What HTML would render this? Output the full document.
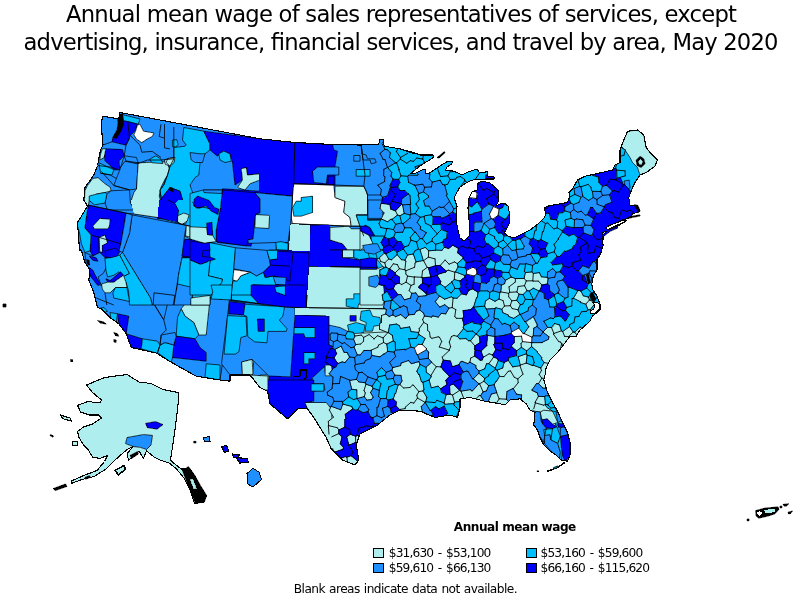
<!DOCTYPE html>
<html><head><meta charset="utf-8"><title>Annual mean wage map</title>
<style>
html,body{margin:0;padding:0;background:#fff;}
body{width:800px;height:600px;overflow:hidden;position:relative;font-family:"Liberation Sans",sans-serif;color:#000;}
svg{position:absolute;left:0;top:0;}
text{fill:#000;}
</style></head><body>
<svg width="800" height="600" viewBox="0 0 800 600">
<rect width="800" height="600" fill="#fff"/>
<g id="map" shape-rendering="crispEdges">
<defs><clipPath id="us"><polygon points="120.0,112.5 118.8,118.8 102.5,116.2 101.2,125.0 103.0,145.0 100.5,150.0 97.5,165.5 93.8,175.0 85.0,187.5 83.8,200.0 87.5,206.2 77.5,222.5 78.8,240.0 79.5,250.0 81.2,250.0 85.0,262.5 90.0,270.0 88.8,280.0 93.8,292.5 97.5,307.5 101.2,308.8 110.0,317.5 118.8,323.8 126.2,333.8 131.2,347.5 156.2,353.0 172.5,363.0 196.2,376.2 220.0,380.0 230.0,381.2 230.0,375.0 250.0,375.0 260.0,387.5 267.5,391.2 270.0,403.8 287.5,418.8 297.5,408.8 307.5,408.8 313.8,417.5 326.2,437.5 331.2,448.8 342.5,460.0 355.0,465.0 358.8,460.0 356.2,445.0 360.0,433.8 377.5,425.0 390.0,415.0 400.0,410.0 420.0,411.2 435.0,417.5 450.0,415.0 457.5,417.5 460.0,407.5 460.0,398.8 470.0,397.5 485.0,401.2 500.0,403.8 505.0,405.0 510.0,400.0 520.0,398.8 526.2,403.8 530.0,410.0 535.0,412.5 533.8,425.0 537.5,430.0 540.0,437.5 543.8,445.0 550.0,451.2 556.2,455.0 561.2,460.0 567.5,461.2 570.0,455.0 570.0,442.5 567.5,432.5 562.5,422.5 557.5,411.2 552.5,402.5 547.5,392.5 543.8,380.0 545.0,375.0 546.2,367.5 550.0,360.0 557.5,352.5 562.5,346.2 570.0,336.2 576.2,336.2 580.0,330.0 590.0,321.2 592.5,316.2 600.0,310.0 600.0,303.8 597.0,296.2 592.6,289.2 591.8,284.0 593.5,275.2 597.0,270.0 597.0,259.5 600.5,254.2 603.1,245.5 602.2,235.0 603.8,240.0 602.5,232.5 610.0,230.0 620.0,225.0 622.5,220.0 630.0,217.5 632.5,213.8 640.0,211.2 637.5,206.2 630.0,205.0 628.8,197.5 632.5,187.5 635.0,182.5 640.0,175.0 646.2,172.5 655.0,166.2 657.5,160.0 650.0,152.5 646.2,147.5 643.8,135.0 637.5,130.0 627.5,131.2 623.8,140.0 620.0,150.0 620.0,162.5 615.0,165.0 612.5,170.0 596.2,173.8 585.0,176.2 577.5,180.0 572.5,188.8 568.8,192.5 570.0,196.2 567.5,202.5 560.0,203.8 547.5,206.2 548.0,206.0 544.0,208.0 546.0,214.0 544.0,218.0 538.0,224.0 530.0,230.0 522.0,234.0 514.0,238.0 508.0,236.0 504.0,233.0 506.0,230.0 509.0,224.0 510.0,216.0 508.0,206.0 504.0,203.0 500.0,204.0 496.0,206.0 499.0,200.0 498.0,190.0 490.0,183.0 482.0,181.0 478.0,183.0 477.0,190.0 472.0,192.0 469.0,198.0 468.0,208.0 469.0,220.0 470.0,228.0 469.0,236.0 464.0,241.0 460.0,238.0 458.0,230.0 456.0,220.0 457.0,206.0 454.0,198.0 457.0,192.0 460.0,187.0 466.0,183.0 470.0,181.0 476.0,179.0 482.0,180.0 486.0,179.0 494.0,179.0 494.0,177.0 488.0,176.0 487.0,171.0 484.0,173.0 479.0,172.0 477.0,169.0 468.0,172.0 462.0,175.0 458.0,173.0 450.0,170.0 445.0,171.0 447.0,167.0 451.6,164.0 452.4,161.6 447.0,161.6 440.0,166.0 428.0,174.0 425.0,173.0 426.0,169.0 422.0,170.0 416.0,173.0 410.0,174.0 420.0,166.0 434.0,157.0 433.0,155.0 420.0,155.0 412.0,152.0 400.0,149.0 415.0,153.8 400.0,148.8 384.2,146.2 383.0,139.5 379.5,139.5 378.8,144.5 360.0,145.0 332.5,144.5 295.0,142.5 260.0,138.8"/></clipPath></defs>
<g clip-path="url(#us)">
<polygon points="120.0,112.5 118.8,118.8 102.5,116.2 101.2,125.0 103.0,145.0 100.5,150.0 97.5,165.5 93.8,175.0 85.0,187.5 83.8,200.0 87.5,206.2 77.5,222.5 78.8,240.0 79.5,250.0 81.2,250.0 85.0,262.5 90.0,270.0 88.8,280.0 93.8,292.5 97.5,307.5 101.2,308.8 110.0,317.5 118.8,323.8 126.2,333.8 131.2,347.5 156.2,353.0 172.5,363.0 196.2,376.2 220.0,380.0 230.0,381.2 230.0,375.0 250.0,375.0 260.0,387.5 267.5,391.2 270.0,403.8 287.5,418.8 297.5,408.8 307.5,408.8 313.8,417.5 326.2,437.5 331.2,448.8 342.5,460.0 355.0,465.0 358.8,460.0 356.2,445.0 360.0,433.8 377.5,425.0 390.0,415.0 400.0,410.0 420.0,411.2 435.0,417.5 450.0,415.0 457.5,417.5 460.0,407.5 460.0,398.8 470.0,397.5 485.0,401.2 500.0,403.8 505.0,405.0 510.0,400.0 520.0,398.8 526.2,403.8 530.0,410.0 535.0,412.5 533.8,425.0 537.5,430.0 540.0,437.5 543.8,445.0 550.0,451.2 556.2,455.0 561.2,460.0 567.5,461.2 570.0,455.0 570.0,442.5 567.5,432.5 562.5,422.5 557.5,411.2 552.5,402.5 547.5,392.5 543.8,380.0 545.0,375.0 546.2,367.5 550.0,360.0 557.5,352.5 562.5,346.2 570.0,336.2 576.2,336.2 580.0,330.0 590.0,321.2 592.5,316.2 600.0,310.0 600.0,303.8 597.0,296.2 592.6,289.2 591.8,284.0 593.5,275.2 597.0,270.0 597.0,259.5 600.5,254.2 603.1,245.5 602.2,235.0 603.8,240.0 602.5,232.5 610.0,230.0 620.0,225.0 622.5,220.0 630.0,217.5 632.5,213.8 640.0,211.2 637.5,206.2 630.0,205.0 628.8,197.5 632.5,187.5 635.0,182.5 640.0,175.0 646.2,172.5 655.0,166.2 657.5,160.0 650.0,152.5 646.2,147.5 643.8,135.0 637.5,130.0 627.5,131.2 623.8,140.0 620.0,150.0 620.0,162.5 615.0,165.0 612.5,170.0 596.2,173.8 585.0,176.2 577.5,180.0 572.5,188.8 568.8,192.5 570.0,196.2 567.5,202.5 560.0,203.8 547.5,206.2 548.0,206.0 544.0,208.0 546.0,214.0 544.0,218.0 538.0,224.0 530.0,230.0 522.0,234.0 514.0,238.0 508.0,236.0 504.0,233.0 506.0,230.0 509.0,224.0 510.0,216.0 508.0,206.0 504.0,203.0 500.0,204.0 496.0,206.0 499.0,200.0 498.0,190.0 490.0,183.0 482.0,181.0 478.0,183.0 477.0,190.0 472.0,192.0 469.0,198.0 468.0,208.0 469.0,220.0 470.0,228.0 469.0,236.0 464.0,241.0 460.0,238.0 458.0,230.0 456.0,220.0 457.0,206.0 454.0,198.0 457.0,192.0 460.0,187.0 466.0,183.0 470.0,181.0 476.0,179.0 482.0,180.0 486.0,179.0 494.0,179.0 494.0,177.0 488.0,176.0 487.0,171.0 484.0,173.0 479.0,172.0 477.0,169.0 468.0,172.0 462.0,175.0 458.0,173.0 450.0,170.0 445.0,171.0 447.0,167.0 451.6,164.0 452.4,161.6 447.0,161.6 440.0,166.0 428.0,174.0 425.0,173.0 426.0,169.0 422.0,170.0 416.0,173.0 410.0,174.0 420.0,166.0 434.0,157.0 433.0,155.0 420.0,155.0 412.0,152.0 400.0,149.0 415.0,153.8 400.0,148.8 384.2,146.2 383.0,139.5 379.5,139.5 378.8,144.5 360.0,145.0 332.5,144.5 295.0,142.5 260.0,138.8" fill="#1E90FF"/>
<polygon points="520.0,252.5 567.2,252.5 565.5,285.8 577.8,292.8 586.5,287.5 591.8,284.0 592.6,289.2 597.0,296.2 600.5,305.0 599.6,312.0 593.5,317.2 591.8,322.5 583.0,326.0 579.5,333.0 576.0,338.2 572.5,340.0 520.0,340.0" fill="#00BFFF" stroke="#000" stroke-width="0.7" stroke-linejoin="round"/>
<polygon points="440.0,250.1 580.0,250.1 580.0,340.0 440.0,340.0" fill="#00BFFF"/>
<polygon points="440.0,339.9 580.0,339.9 580.0,425.0 440.0,425.0" fill="#AFEEEE"/>
<polygon points="360.0,218.4 472.0,218.4 472.0,305.0 360.0,305.0" fill="#00BFFF"/>
<polygon points="122.5,114.6 140.0,119.0 138.2,124.2 127.8,121.6 123.4,120.8" fill="#00BFFF" stroke="#000" stroke-width="0.7" stroke-linejoin="round"/>
<polygon points="122.5,120.8 127.8,121.6 137.4,124.2 134.8,131.2 130.4,135.6 126.0,145.2 112.0,141.8 112.9,137.4 116.4,138.2 120.8,131.2 123.4,124.2" fill="#0000FF" stroke="#000" stroke-width="0.7" stroke-linejoin="round"/>
<polygon points="117.2,115.5 122.5,113.8 123.4,124.2 120.8,131.2 116.4,138.2 112.9,137.4 117.2,129.5 118.1,122.5" fill="#000000" stroke="#000" stroke-width="0.7" stroke-linejoin="round"/>
<polygon points="137.4,125.1 140.0,124.2 143.5,131.2 154.0,133.0 152.2,136.5 147.0,139.1 141.8,142.6 136.5,139.1 133.9,134.8 135.6,131.2" fill="#FFFFFF" stroke="#000" stroke-width="0.7" stroke-linejoin="round"/>
<polygon points="172.4,140.0 176.8,139.7 178.1,144.4 175.9,147.0 172.4,146.7" fill="#00BFFF" stroke="#000" stroke-width="0.7" stroke-linejoin="round"/>
<polygon points="105.9,148.8 122.5,149.6 124.2,155.8 119.0,161.0 119.9,169.8 113.8,169.8 109.4,164.5 105.0,161.0 104.1,154.0" fill="#0000FF" stroke="#000" stroke-width="0.7" stroke-linejoin="round"/>
<polygon points="102.4,148.8 105.9,148.8 104.1,157.5 99.8,160.1 100.6,154.0" fill="#AFEEEE" stroke="#000" stroke-width="0.7" stroke-linejoin="round"/>
<polygon points="98.9,162.8 113.8,169.8 112.0,175.0 100.6,173.2" fill="#00BFFF" stroke="#000" stroke-width="0.7" stroke-linejoin="round"/>
<polygon points="124.2,155.8 136.5,157.5 138.2,162.8 136.5,189.0 129.5,189.9 113.8,185.5 116.4,178.5 119.9,169.8" fill="#1E90FF" stroke="#000" stroke-width="0.7" stroke-linejoin="round"/>
<polygon points="137.4,162.8 164.5,161.9 168.0,165.4 170.6,171.5 165.4,178.5 161.0,187.2 159.2,196.0 161.0,203.0 158.4,210.0 134.8,210.0 130.4,203.0 133.9,192.5 136.5,189.0 138.2,162.8" fill="#AFEEEE" stroke="#000" stroke-width="0.7" stroke-linejoin="round"/>
<polygon points="149.6,159.2 155.8,155.8 161.0,159.2 162.8,163.6 152.2,162.8" fill="#00BFFF" stroke="#000" stroke-width="0.7" stroke-linejoin="round"/>
<polygon points="164.5,160.1 168.0,158.4 174.1,157.5 174.6,161.9 170.6,162.8 168.9,165.4 165.4,164.5" fill="#AFEEEE" stroke="#000" stroke-width="0.7" stroke-linejoin="round"/>
<polygon points="92.8,178.5 98.0,177.6 105.0,183.8 110.2,187.2 111.1,190.8 105.0,192.5 96.2,194.2 89.2,200.4 87.5,210.0 84.0,208.2 84.9,190.8 87.5,185.5" fill="#AFEEEE" stroke="#000" stroke-width="0.7" stroke-linejoin="round"/>
<polygon points="111.1,190.8 129.5,189.9 130.4,203.0 134.8,210.0 107.6,210.0 105.0,203.0 106.8,194.2" fill="#1E90FF" stroke="#000" stroke-width="0.7" stroke-linejoin="round"/>
<polygon points="89.2,196.0 96.2,194.2 105.0,192.5 106.8,194.2 105.0,203.0 94.5,204.8 89.2,200.4" fill="#00BFFF" stroke="#000" stroke-width="0.7" stroke-linejoin="round"/>
<polyline points="127.8,121.6 129.5,138.2 126.0,145.2" fill="none" stroke="#000" stroke-width="0.8" stroke-linejoin="round"/>
<polyline points="130.4,135.6 140.0,145.2 141.8,152.2 152.2,151.4 161.0,157.5" fill="none" stroke="#000" stroke-width="0.8" stroke-linejoin="round"/>
<polyline points="161.0,124.2 159.2,136.5 164.5,138.2 164.5,147.9 169.8,148.8" fill="none" stroke="#000" stroke-width="0.8" stroke-linejoin="round"/>
<polyline points="164.5,124.2 164.5,138.2" fill="none" stroke="#000" stroke-width="0.8" stroke-linejoin="round"/>
<polyline points="102.4,145.2 112.0,141.8" fill="none" stroke="#000" stroke-width="0.8" stroke-linejoin="round"/>
<polyline points="126.0,145.2 124.2,155.8" fill="none" stroke="#000" stroke-width="0.8" stroke-linejoin="round"/>
<polyline points="124.2,155.8 126.0,161.0 138.2,162.8" fill="none" stroke="#000" stroke-width="0.8" stroke-linejoin="round"/>
<polyline points="100.6,173.2 110.2,175.0 116.4,178.5" fill="none" stroke="#000" stroke-width="0.8" stroke-linejoin="round"/>
<polyline points="101.5,171.5 113.8,185.5" fill="none" stroke="#000" stroke-width="0.8" stroke-linejoin="round"/>
<polyline points="113.8,185.5 129.5,189.9" fill="none" stroke="#000" stroke-width="0.8" stroke-linejoin="round"/>
<polygon points="183.8,127.5 203.8,131.2 210.0,143.8 210.0,150.0 205.0,153.8 200.0,162.5 198.8,175.0 195.0,177.5 190.0,185.0 195.0,200.0 196.2,205.0 200.0,207.5 200.0,222.5 190.0,225.0 188.8,212.5 177.5,213.8 178.8,207.5 182.5,200.0 180.0,191.2 170.0,187.5 161.2,198.8 160.0,190.0 163.8,185.0 167.5,175.0 170.0,166.2 173.8,162.5 173.8,158.8 173.8,147.5 185.0,146.2 186.2,145.0 182.5,140.0" fill="#00BFFF" stroke="#000" stroke-width="0.7" stroke-linejoin="round"/>
<polygon points="166.2,162.5 167.5,158.8 175.0,157.5 173.8,162.5 170.0,166.2" fill="#AFEEEE" stroke="#000" stroke-width="0.7" stroke-linejoin="round"/>
<polygon points="161.2,198.8 170.0,187.5 180.0,191.2 182.5,200.0 178.8,207.5 177.5,213.8 176.2,218.8 157.5,218.8" fill="#0000FF" stroke="#000" stroke-width="0.7" stroke-linejoin="round"/>
<polygon points="169.5,187.5 172.5,188.0 173.0,192.0 170.0,190.5" fill="#000000" stroke="#000" stroke-width="0.7" stroke-linejoin="round"/>
<polygon points="177.5,213.8 188.8,212.5 190.0,217.5 185.0,223.8 177.5,222.5" fill="#AFEEEE" stroke="#000" stroke-width="0.7" stroke-linejoin="round"/>
<polygon points="186.2,226.2 210.0,228.8 212.5,238.8 203.8,245.0 185.0,236.2" fill="#AFEEEE" stroke="#000" stroke-width="0.7" stroke-linejoin="round"/>
<polygon points="200.0,195.0 222.5,192.5 221.2,230.0 210.0,228.8 200.0,222.5 200.0,207.5" fill="#00BFFF" stroke="#000" stroke-width="0.7" stroke-linejoin="round"/>
<polygon points="195.0,200.0 200.0,196.2 210.0,197.5 220.0,205.0 217.5,212.5 207.5,210.0 200.0,207.5 196.2,205.0" fill="#0000FF" stroke="#000" stroke-width="0.7" stroke-linejoin="round"/>
<polygon points="207.5,215.0 212.0,215.0 213.8,236.2 208.8,236.2" fill="#0000FF" stroke="#000" stroke-width="0.7" stroke-linejoin="round"/>
<polygon points="203.8,131.2 260.0,138.8 260.0,173.8 247.5,175.0 246.2,167.5 241.2,168.8 242.5,180.0 235.0,185.0 232.5,162.5 230.0,153.8 222.5,151.2 217.5,156.2 210.0,150.0 210.0,143.8" fill="#0000FF" stroke="#000" stroke-width="0.7" stroke-linejoin="round"/>
<polygon points="218.8,153.8 223.8,151.2 230.0,153.8 231.2,161.2 225.0,162.5 220.0,160.0" fill="#00BFFF" stroke="#000" stroke-width="0.7" stroke-linejoin="round"/>
<polygon points="241.2,168.8 246.2,167.5 247.5,175.0 260.0,173.8 260.0,180.0 250.0,183.8 245.0,190.0 237.5,187.5 242.5,180.0" fill="#AFEEEE" stroke="#000" stroke-width="0.7" stroke-linejoin="round"/>
<polygon points="190.0,152.5 200.0,153.8 205.0,153.8 202.5,162.5 195.0,162.5 191.2,160.0" fill="#1E90FF" stroke="#000" stroke-width="0.7" stroke-linejoin="round"/>
<polygon points="222.5,188.8 260.0,191.2 260.0,240.0 252.5,238.8 251.2,246.2 217.5,242.5 221.2,230.0" fill="#0000FF" stroke="#000" stroke-width="0.7" stroke-linejoin="round"/>
<polygon points="258.8,138.8 295.0,142.5 293.8,183.8 292.5,196.2 258.8,193.0" fill="#0000FF"/>
<polyline points="295.0,142.5 293.8,183.8 292.5,196.2 260.0,193.0" fill="none" stroke="#000" stroke-width="0.8" stroke-linejoin="round"/>
<polygon points="295.0,142.5 332.5,144.5 333.8,150.0 337.5,151.2 335.0,166.2 335.0,185.0 293.8,183.8" fill="#0000FF" stroke="#000" stroke-width="0.7" stroke-linejoin="round"/>
<polygon points="312.5,171.2 317.5,167.0 338.8,167.0 338.8,175.0 327.5,175.0 326.2,183.8 313.8,182.5" fill="#1E90FF" stroke="#000" stroke-width="0.7" stroke-linejoin="round"/>
<polygon points="328.0,176.2 333.8,176.2 333.8,185.0 328.0,185.0" fill="#0000FF" stroke="#000" stroke-width="0.7" stroke-linejoin="round"/>
<polygon points="353.8,155.5 360.0,155.5 360.0,161.2 353.8,161.2" fill="#1E90FF" stroke="#000" stroke-width="0.7" stroke-linejoin="round"/>
<polygon points="356.2,169.5 370.0,169.5 370.0,176.2 356.2,176.2" fill="#00BFFF" stroke="#000" stroke-width="0.7" stroke-linejoin="round"/>
<polygon points="361.2,145.0 363.0,160.0 370.0,160.0 371.2,163.8 376.2,162.5 375.0,158.8 367.5,158.8 366.2,155.0 362.0,153.8" fill="#1E90FF" stroke="#000" stroke-width="0.7" stroke-linejoin="round"/>
<polygon points="386.2,148.8 400.0,148.8 415.0,153.8 432.5,155.5 410.0,173.8 407.5,180.0 400.0,180.0 398.8,186.2 392.5,182.5 391.2,165.0" fill="#00BFFF" stroke="#000" stroke-width="0.7" stroke-linejoin="round"/>
<polygon points="293.8,183.8 333.8,185.0 335.0,197.5 345.0,201.2 343.8,212.5 350.0,217.5 351.2,226.2 292.5,223.8 291.2,217.5 292.5,196.2" fill="#FFFFFF" stroke="#000" stroke-width="0.7" stroke-linejoin="round"/>
<polygon points="301.2,197.5 312.5,196.2 312.5,212.5 301.2,216.2 293.8,216.2 292.5,207.5 296.2,201.2 301.2,201.2" fill="#00BFFF" stroke="#000" stroke-width="0.7" stroke-linejoin="round"/>
<polygon points="335.0,186.2 363.8,186.2 366.2,191.2 367.5,195.0 367.5,215.0 356.2,215.0 360.0,226.2 351.2,226.2 350.0,217.5 343.8,212.5 345.0,201.2 335.0,197.5" fill="#AFEEEE" stroke="#000" stroke-width="0.7" stroke-linejoin="round"/>
<polygon points="367.5,195.0 382.5,195.0 382.5,207.5 383.8,213.8 385.0,218.8 382.5,220.0 367.5,220.0" fill="#1E90FF" stroke="#000" stroke-width="0.7" stroke-linejoin="round"/>
<polygon points="356.2,215.0 367.5,215.0 367.5,220.0 382.5,220.0 385.0,218.8 396.2,219.5 397.5,236.2 370.0,236.2 367.5,230.0 360.0,226.2" fill="#00BFFF" stroke="#000" stroke-width="0.7" stroke-linejoin="round"/>
<polygon points="260.0,215.0 270.0,215.0 270.0,227.5 260.0,228.8" fill="#AFEEEE" stroke="#000" stroke-width="0.7" stroke-linejoin="round"/>
<polygon points="290.0,223.8 310.0,225.0 310.0,250.0 288.8,250.0" fill="#AFEEEE" stroke="#000" stroke-width="0.7" stroke-linejoin="round"/>
<polygon points="276.2,242.5 287.5,242.5 287.5,250.0 276.2,250.0" fill="#00BFFF" stroke="#000" stroke-width="0.7" stroke-linejoin="round"/>
<polygon points="310.0,225.0 328.8,225.0 330.0,240.0 342.5,243.8 347.5,250.0 310.0,250.0" fill="#0000FF" stroke="#000" stroke-width="0.7" stroke-linejoin="round"/>
<polygon points="330.0,227.5 348.8,226.2 351.2,228.8 362.5,228.8 363.8,236.2 370.0,236.2 371.2,250.0 347.5,250.0 342.5,243.8 330.0,240.0" fill="#AFEEEE" stroke="#000" stroke-width="0.7" stroke-linejoin="round"/>
<polygon points="361.2,230.0 365.0,225.0 370.0,227.5 375.0,236.2 367.5,237.5 363.8,236.2" fill="#0000FF" stroke="#000" stroke-width="0.7" stroke-linejoin="round"/>
<polygon points="371.2,236.2 397.5,236.2 397.5,250.0 371.2,250.0" fill="#00BFFF" stroke="#000" stroke-width="0.7" stroke-linejoin="round"/>
<polygon points="386.2,242.5 400.0,242.5 401.2,250.0 386.2,250.0" fill="#0000FF" stroke="#000" stroke-width="0.7" stroke-linejoin="round"/>
<polygon points="400.0,149.0 412.0,152.0 420.0,155.0 433.0,155.0 434.0,157.0 420.0,166.0 410.0,174.0 408.0,177.0 400.0,178.0" fill="#00BFFF" stroke="#000" stroke-width="0.7" stroke-linejoin="round"/>
<polygon points="425.0,173.0 428.0,174.0 440.0,166.0 447.0,161.6 452.4,161.6 451.6,164.0 447.0,167.0 445.0,171.0 450.0,170.0 458.0,173.0 462.0,175.0 468.0,172.0 477.0,169.0 479.0,172.0 484.0,173.0 487.0,171.0 488.0,176.0 494.0,177.0 494.0,179.0 486.0,179.0 482.0,180.0 476.0,179.0 470.0,181.0 466.0,183.0 460.0,187.0 457.0,192.0 454.0,198.0 451.0,196.0 447.0,190.0 443.0,183.0 430.0,179.0 428.0,177.0" fill="#00BFFF" stroke="#000" stroke-width="0.7" stroke-linejoin="round"/>
<polygon points="400.0,178.0 408.0,177.0 406.0,183.0 415.0,182.0 416.0,188.0 405.0,189.0 400.0,188.0" fill="#00BFFF" stroke="#000" stroke-width="0.7" stroke-linejoin="round"/>
<polygon points="405.0,189.0 416.0,188.0 417.0,193.0 428.0,193.0 428.0,200.0 424.0,202.0 423.0,208.0 429.0,209.0 430.0,217.0 437.0,216.0 436.0,224.0 429.0,228.0 424.0,226.0 420.0,217.0 412.0,209.0 409.0,204.0 410.0,196.0" fill="#00BFFF" stroke="#000" stroke-width="0.7" stroke-linejoin="round"/>
<polygon points="416.0,194.0 423.0,194.0 423.0,202.0 416.0,202.0" fill="#1E90FF" stroke="#000" stroke-width="0.7" stroke-linejoin="round"/>
<polygon points="430.0,217.0 441.0,215.0 443.0,221.0 441.0,227.0 435.0,229.0 430.0,226.0" fill="#0000FF" stroke="#000" stroke-width="0.7" stroke-linejoin="round"/>
<polygon points="449.0,216.0 455.0,217.0 455.0,228.0 450.0,228.0 448.0,222.0" fill="#0000FF" stroke="#000" stroke-width="0.7" stroke-linejoin="round"/>
<polygon points="445.0,231.0 455.0,230.0 457.0,236.0 460.0,238.0 464.0,241.0 469.0,240.0 469.0,252.0 460.0,254.0 454.0,249.0 448.0,248.0 446.0,240.0" fill="#0000FF" stroke="#000" stroke-width="0.7" stroke-linejoin="round"/>
<polygon points="440.0,226.0 446.0,226.0 445.0,231.0 440.0,230.0" fill="#0000FF" stroke="#000" stroke-width="0.7" stroke-linejoin="round"/>
<polygon points="447.0,190.0 451.0,196.0 452.0,202.0 448.0,204.0 445.0,198.0" fill="#00BFFF" stroke="#000" stroke-width="0.7" stroke-linejoin="round"/>
<polygon points="454.0,198.0 457.0,206.0 456.0,212.0 452.0,212.0 451.0,204.0" fill="#00BFFF" stroke="#000" stroke-width="0.7" stroke-linejoin="round"/>
<polygon points="400.0,220.0 408.0,219.0 410.0,228.0 420.0,229.0 421.0,236.0 410.0,237.0 400.0,236.0" fill="#00BFFF" stroke="#000" stroke-width="0.7" stroke-linejoin="round"/>
<polygon points="403.0,226.0 412.0,226.0 412.0,232.0 403.0,232.0" fill="#1E90FF" stroke="#000" stroke-width="0.7" stroke-linejoin="round"/>
<polygon points="420.0,236.0 440.0,235.0 441.0,252.0 422.0,252.0" fill="#00BFFF" stroke="#000" stroke-width="0.7" stroke-linejoin="round"/>
<polygon points="415.0,241.0 420.0,241.0 420.0,250.0 415.0,250.0" fill="#0000FF" stroke="#000" stroke-width="0.7" stroke-linejoin="round"/>
<polygon points="423.0,252.0 437.0,252.0 437.0,260.0 423.0,260.0" fill="#AFEEEE" stroke="#000" stroke-width="0.7" stroke-linejoin="round"/>
<polygon points="478.0,183.0 482.0,181.0 490.0,183.0 498.0,190.0 499.0,200.0 496.0,206.0 488.0,208.0 483.0,206.0 469.0,204.0 469.0,198.0 472.0,192.0 477.0,190.0" fill="#0000FF" stroke="#000" stroke-width="0.7" stroke-linejoin="round"/>
<polygon points="468.0,181.0 475.0,179.0 480.0,180.0 478.0,189.0 475.0,195.0 473.0,190.0 469.0,187.0" fill="#FFFFFF" stroke="#000" stroke-width="0.7" stroke-linejoin="round"/>
<polygon points="469.0,204.0 483.0,206.0 488.0,208.0 487.0,212.0 480.0,213.0 469.0,214.0 468.0,208.0" fill="#00BFFF" stroke="#000" stroke-width="0.7" stroke-linejoin="round"/>
<polygon points="496.0,206.0 500.0,204.0 504.0,203.0 508.0,206.0 510.0,216.0 500.0,215.0 499.0,220.0 494.0,220.0 495.0,214.0 493.0,209.0" fill="#00BFFF" stroke="#000" stroke-width="0.7" stroke-linejoin="round"/>
<polygon points="491.0,212.0 496.0,213.0 495.6,217.0 491.0,217.0" fill="#FFFFFF" stroke="#000" stroke-width="0.7" stroke-linejoin="round"/>
<polygon points="494.0,205.0 498.0,205.0 498.0,209.0 494.0,209.0" fill="#FFFFFF" stroke="#000" stroke-width="0.7" stroke-linejoin="round"/>
<polygon points="469.0,214.0 480.0,213.0 481.0,217.0 485.0,216.0 485.0,222.0 479.0,223.0 478.0,228.0 470.0,228.0 469.0,220.0" fill="#0000FF" stroke="#000" stroke-width="0.7" stroke-linejoin="round"/>
<polygon points="484.0,220.0 492.0,219.0 493.0,226.0 486.0,227.0" fill="#AFEEEE" stroke="#000" stroke-width="0.7" stroke-linejoin="round"/>
<polygon points="499.0,215.0 510.0,216.0 509.0,224.0 506.0,230.0 504.0,233.0 494.0,231.0 493.0,226.0 494.0,220.0 499.0,220.0" fill="#0000FF" stroke="#000" stroke-width="0.7" stroke-linejoin="round"/>
<polygon points="470.0,228.0 478.0,228.0 484.0,227.0 493.0,226.0 494.0,231.0 504.0,233.0 508.0,236.0 500.0,238.0 488.0,238.0 469.0,236.0" fill="#00BFFF" stroke="#000" stroke-width="0.7" stroke-linejoin="round"/>
<polygon points="473.0,229.0 482.0,229.0 482.0,233.0 473.0,233.0" fill="#1E90FF" stroke="#000" stroke-width="0.7" stroke-linejoin="round"/>
<polygon points="464.0,241.0 469.0,236.0 488.0,238.0 488.0,252.0 480.0,252.0 478.0,260.0 466.0,260.0 469.0,252.0 469.0,240.0" fill="#0000FF" stroke="#000" stroke-width="0.7" stroke-linejoin="round"/>
<polygon points="488.0,238.0 500.0,238.0 502.0,252.0 488.0,252.0" fill="#00BFFF" stroke="#000" stroke-width="0.7" stroke-linejoin="round"/>
<polygon points="494.0,248.0 499.0,248.0 499.0,252.0 494.0,252.0" fill="#1E90FF" stroke="#000" stroke-width="0.7" stroke-linejoin="round"/>
<polygon points="515.0,238.0 522.0,234.0 528.0,231.0 528.0,240.0 520.0,244.0 515.0,243.0" fill="#0000FF" stroke="#000" stroke-width="0.7" stroke-linejoin="round"/>
<polygon points="528.0,236.0 533.0,235.0 534.0,242.0 529.0,243.0" fill="#AFEEEE" stroke="#000" stroke-width="0.7" stroke-linejoin="round"/>
<polygon points="530.0,230.0 538.0,224.0 544.0,218.0 547.0,220.0 548.0,228.0 540.0,230.0 538.0,238.0 533.0,235.0 528.0,236.0 528.0,231.0" fill="#00BFFF" stroke="#000" stroke-width="0.7" stroke-linejoin="round"/>
<polygon points="538.0,238.0 544.0,236.0 549.0,240.0 548.0,252.0 540.0,258.0 536.0,252.0 535.0,244.0" fill="#0000FF" stroke="#000" stroke-width="0.7" stroke-linejoin="round"/>
<polygon points="500.0,238.0 515.0,238.0 515.0,243.0 520.0,244.0 524.0,252.0 512.0,255.0 502.0,252.0" fill="#00BFFF" stroke="#000" stroke-width="0.7" stroke-linejoin="round"/>
<polygon points="549.0,207.0 560.0,206.0 560.0,216.0 552.0,217.0 549.0,214.0" fill="#0000FF" stroke="#000" stroke-width="0.7" stroke-linejoin="round"/>
<polygon points="620.0,162.5 620.0,150.0 623.8,140.0 627.5,131.2 637.5,130.0 643.8,135.0 646.2,147.5 650.0,152.5 657.5,160.0 655.0,166.2 646.2,172.5 640.0,175.0 635.0,182.5 632.5,187.5 628.8,197.5 622.5,185.0 617.5,172.5 615.0,165.0" fill="#00BFFF" stroke="#000" stroke-width="0.7" stroke-linejoin="round"/>
<polygon points="623.8,140.0 627.5,131.2 637.5,130.0 643.8,135.0 646.2,147.5 650.0,152.5 657.5,160.0 655.0,166.2 646.2,172.5 640.0,175.0 637.5,167.5 632.5,162.5 630.0,157.5 625.0,150.0 621.2,146.2" fill="#AFEEEE" stroke="#000" stroke-width="0.7" stroke-linejoin="round"/>
<polygon points="636.2,160.0 640.0,156.2 643.8,158.8 645.0,163.8 641.2,167.5 637.0,165.5" fill="#000000" stroke="#000" stroke-width="0.7" stroke-linejoin="round"/>
<polygon points="638.0,161.2 640.5,158.8 643.0,161.2 642.0,165.0 638.8,164.5" fill="#AFEEEE" stroke="#000" stroke-width="0.7" stroke-linejoin="round"/>
<polygon points="596.0,174.0 613.5,167.0 617.0,170.5 620.5,177.5 624.0,186.2 627.5,190.6 629.2,196.8 634.5,202.0 639.8,210.8 638.0,216.0 632.8,216.9 625.8,220.4 620.5,224.8 615.2,227.4 610.0,223.0 604.8,219.5 604.8,212.5 608.2,205.5 610.0,195.0 608.2,186.2 599.5,184.5 597.8,179.2" fill="#0000FF" stroke="#000" stroke-width="0.7" stroke-linejoin="round"/>
<polygon points="624.0,181.0 629.2,180.1 630.1,188.0 625.8,189.8" fill="#1E90FF" stroke="#000" stroke-width="0.7" stroke-linejoin="round"/>
<polygon points="599.5,185.4 609.1,184.5 610.0,195.0 608.2,203.8 601.2,202.0 598.6,193.2" fill="#1E90FF" stroke="#000" stroke-width="0.7" stroke-linejoin="round"/>
<polygon points="568.9,202.9 568.0,195.0 570.6,188.9 580.2,177.5 596.0,174.0 597.8,179.2 599.5,184.5 598.6,193.2 592.5,196.8 589.0,202.0 583.8,203.8 577.6,202.0 575.0,207.2 571.5,205.5" fill="#00BFFF" stroke="#000" stroke-width="0.7" stroke-linejoin="round"/>
<polygon points="569.8,189.8 574.1,188.9 575.0,193.2 571.5,195.0 569.4,193.2" fill="#AFEEEE" stroke="#000" stroke-width="0.7" stroke-linejoin="round"/>
<polygon points="592.5,190.6 599.5,192.4 600.4,200.2 596.0,201.1 592.5,196.8" fill="#1E90FF" stroke="#000" stroke-width="0.7" stroke-linejoin="round"/>
<polygon points="577.6,189.8 581.1,188.9 583.8,201.1 579.4,202.0" fill="#1E90FF" stroke="#000" stroke-width="0.7" stroke-linejoin="round"/>
<polygon points="543.5,208.1 550.5,206.4 566.2,203.8 568.0,207.2 566.2,212.5 559.2,214.2 554.9,216.0 550.5,212.5 545.2,212.5" fill="#0000FF" stroke="#000" stroke-width="0.7" stroke-linejoin="round"/>
<polygon points="566.2,212.5 570.6,212.5 571.5,217.8 568.0,219.5 566.2,216.0" fill="#00BFFF" stroke="#000" stroke-width="0.7" stroke-linejoin="round"/>
<polygon points="572.4,216.0 579.4,215.1 582.0,219.5 575.0,220.4" fill="#AFEEEE" stroke="#000" stroke-width="0.7" stroke-linejoin="round"/>
<polygon points="589.0,217.8 592.5,212.5 601.2,210.8 604.8,212.5 604.8,219.5 610.0,223.0 615.2,227.4 604.8,233.5 601.2,237.0 597.8,233.5 592.5,230.0 589.0,224.8" fill="#0000FF" stroke="#000" stroke-width="0.7" stroke-linejoin="round"/>
<polygon points="590.8,214.2 597.8,213.4 598.6,218.6 592.5,219.5" fill="#00BFFF" stroke="#000" stroke-width="0.7" stroke-linejoin="round"/>
<polygon points="607.4,212.5 617.0,211.6 617.9,217.8 609.1,218.6" fill="#1E90FF" stroke="#000" stroke-width="0.7" stroke-linejoin="round"/>
<polygon points="603.0,214.2 606.5,214.2 606.5,217.8 603.0,217.8" fill="#00BFFF" stroke="#000" stroke-width="0.7" stroke-linejoin="round"/>
<polygon points="607.4,202.9 611.8,202.9 611.8,205.5 607.4,205.5" fill="#FFFFFF" stroke="#000" stroke-width="0.7" stroke-linejoin="round"/>
<polygon points="603.0,210.8 606.1,210.8 606.1,212.8 603.0,212.8" fill="#FFFFFF" stroke="#000" stroke-width="0.7" stroke-linejoin="round"/>
<polygon points="540.0,225.6 575.0,223.9 587.2,223.0 590.8,230.0 589.0,237.0 585.5,242.2 578.5,247.5 571.5,251.0 557.5,254.5 547.0,256.2 540.0,254.5" fill="#00BFFF" stroke="#000" stroke-width="0.7" stroke-linejoin="round"/>
<polygon points="540.0,219.5 545.2,212.5 550.5,212.5 554.9,216.0 559.2,214.2 566.2,212.5 566.2,216.0 568.0,219.5 575.0,220.4 575.0,223.9 540.0,225.6" fill="#00BFFF" stroke="#000" stroke-width="0.7" stroke-linejoin="round"/>
<polygon points="540.0,237.0 547.0,238.8 548.8,244.0 545.2,247.5 540.0,247.5" fill="#0000FF" stroke="#000" stroke-width="0.7" stroke-linejoin="round"/>
<polygon points="562.8,229.1 570.6,226.5 573.2,230.0 572.4,237.0 566.2,238.8 563.6,235.2" fill="#0000FF" stroke="#000" stroke-width="0.7" stroke-linejoin="round"/>
<polygon points="576.8,223.9 583.8,223.0 586.4,230.0 582.0,233.5 576.8,231.8" fill="#0000FF" stroke="#000" stroke-width="0.7" stroke-linejoin="round"/>
<polygon points="556.6,235.2 563.6,235.2 566.2,238.8 562.8,242.2 557.5,241.4" fill="#1E90FF" stroke="#000" stroke-width="0.7" stroke-linejoin="round"/>
<polygon points="545.2,240.5 550.5,240.5 550.5,247.5 545.2,247.5" fill="#1E90FF" stroke="#000" stroke-width="0.7" stroke-linejoin="round"/>
<polygon points="566.2,242.2 576.8,240.5 580.2,245.8 571.5,251.0 564.5,247.5" fill="#1E90FF" stroke="#000" stroke-width="0.7" stroke-linejoin="round"/>
<polygon points="554.9,242.2 558.4,242.2 558.4,246.6 554.9,246.6" fill="#AFEEEE" stroke="#000" stroke-width="0.7" stroke-linejoin="round"/>
<polygon points="568.0,249.2 572.4,249.2 572.4,252.8 568.0,252.8" fill="#AFEEEE" stroke="#000" stroke-width="0.7" stroke-linejoin="round"/>
<polygon points="587.2,223.0 592.5,230.0 597.8,233.5 601.2,237.0 602.1,247.5 599.5,254.5 596.0,261.5 592.5,265.0 571.5,265.0 571.5,251.0 578.5,247.5 585.5,242.2 589.0,237.0 590.8,230.0" fill="#0000FF" stroke="#000" stroke-width="0.7" stroke-linejoin="round"/>
<polygon points="583.8,229.1 588.1,229.1 588.1,233.5 583.8,233.5" fill="#1E90FF" stroke="#000" stroke-width="0.7" stroke-linejoin="round"/>
<polygon points="540.0,256.2 547.0,256.2 557.5,254.5 571.5,251.0 571.5,265.0 540.0,265.0" fill="#0000FF" stroke="#000" stroke-width="0.7" stroke-linejoin="round"/>
<polygon points="545.2,255.4 559.2,254.5 566.2,258.0 557.5,260.6 547.0,261.5" fill="#00BFFF" stroke="#000" stroke-width="0.7" stroke-linejoin="round"/>
<polygon points="541.8,258.0 547.0,258.0 547.0,263.2 541.8,263.2" fill="#AFEEEE" stroke="#000" stroke-width="0.7" stroke-linejoin="round"/>
<polygon points="577.8,235.0 602.2,235.0 603.1,245.5 600.5,254.2 595.2,257.8 590.0,254.2 586.5,257.8 581.2,261.2 580.4,266.5 583.0,271.8 586.5,280.5 586.5,287.5 577.8,292.8 570.8,291.0 565.5,285.8 563.8,277.0 562.0,270.0 555.9,264.8 557.6,259.5 565.5,257.8 570.8,252.5 577.8,245.5 576.0,240.2" fill="#0000FF" stroke="#000" stroke-width="0.7" stroke-linejoin="round"/>
<polygon points="589.1,257.8 597.0,259.5 597.0,270.0 593.5,275.2 590.0,270.0" fill="#1E90FF" stroke="#000" stroke-width="0.7" stroke-linejoin="round"/>
<polygon points="534.9,238.5 546.2,238.5 548.9,245.5 546.2,252.5 537.5,254.2 534.0,247.2" fill="#0000FF" stroke="#000" stroke-width="0.7" stroke-linejoin="round"/>
<polygon points="542.8,287.5 548.0,285.8 551.5,292.8 548.0,296.2 543.6,294.5" fill="#0000FF" stroke="#000" stroke-width="0.7" stroke-linejoin="round"/>
<polygon points="557.6,303.2 565.5,301.5 570.8,308.5 570.8,315.5 563.8,313.8 558.5,312.0" fill="#0000FF" stroke="#000" stroke-width="0.7" stroke-linejoin="round"/>
<polygon points="550.6,333.0 557.6,334.8 559.4,340.0 551.5,340.0" fill="#0000FF" stroke="#000" stroke-width="0.7" stroke-linejoin="round"/>
<polygon points="520.0,280.5 527.0,276.1 537.5,272.6 546.2,273.9 546.2,279.6 541.0,287.5 530.5,292.8 520.0,289.2" fill="#AFEEEE" stroke="#000" stroke-width="0.7" stroke-linejoin="round"/>
<polygon points="528.8,278.8 536.6,278.8 536.6,285.8 528.8,285.8" fill="#00BFFF" stroke="#000" stroke-width="0.7" stroke-linejoin="round"/>
<polygon points="567.2,298.9 577.8,297.1 588.2,298.9 593.5,305.0 590.0,308.5 584.8,305.0 579.5,302.4 572.5,304.1 569.0,308.5 565.5,305.0" fill="#AFEEEE" stroke="#000" stroke-width="0.7" stroke-linejoin="round"/>
<polygon points="577.8,320.8 583.0,322.5 579.5,329.5 576.0,327.8" fill="#AFEEEE" stroke="#000" stroke-width="0.7" stroke-linejoin="round"/>
<polygon points="562.0,333.0 572.5,329.5 576.0,338.2 565.5,340.0 560.2,338.2" fill="#AFEEEE" stroke="#000" stroke-width="0.7" stroke-linejoin="round"/>
<polygon points="520.0,329.5 528.8,327.8 532.2,332.1 525.2,336.5 520.0,335.6" fill="#AFEEEE" stroke="#000" stroke-width="0.7" stroke-linejoin="round"/>
<polygon points="527.0,235.0 533.1,235.0 533.1,242.0 528.8,242.9" fill="#AFEEEE" stroke="#000" stroke-width="0.7" stroke-linejoin="round"/>
<polygon points="520.0,252.5 530.5,254.2 532.2,261.2 527.0,268.2 520.0,268.2" fill="#1E90FF" stroke="#000" stroke-width="0.7" stroke-linejoin="round"/>
<polygon points="546.2,275.2 555.0,270.0 562.0,275.2 563.8,285.8 555.0,287.5 549.8,284.0" fill="#1E90FF" stroke="#000" stroke-width="0.7" stroke-linejoin="round"/>
<polygon points="537.5,292.8 548.0,296.2 549.8,305.0 541.0,308.5 535.8,301.5" fill="#1E90FF" stroke="#000" stroke-width="0.7" stroke-linejoin="round"/>
<polygon points="527.0,306.8 537.5,308.5 541.0,317.2 530.5,320.8 525.2,313.8" fill="#1E90FF" stroke="#000" stroke-width="0.7" stroke-linejoin="round"/>
<polygon points="548.0,301.5 557.6,303.2 558.5,312.0 551.5,315.5 548.0,310.2" fill="#1E90FF" stroke="#000" stroke-width="0.7" stroke-linejoin="round"/>
<polygon points="546.2,235.0 577.8,235.0 576.0,240.2 577.8,245.5 570.8,252.5 565.5,257.8 557.6,259.5 548.9,245.5" fill="#00BFFF" stroke="#000" stroke-width="0.7" stroke-linejoin="round"/>
<polygon points="580.4,256.0 583.0,255.1 587.4,270.0 590.0,280.5 590.9,287.5 589.1,287.5 586.5,276.1 583.9,266.5" fill="#000000" stroke="#000" stroke-width="0.7" stroke-linejoin="round"/>
<polygon points="590.0,295.4 594.4,296.2 597.0,301.5 595.2,304.1 591.8,301.5" fill="#000000" stroke="#000" stroke-width="0.7" stroke-linejoin="round"/>
<polygon points="153.8,292.5 175.0,295.0 173.8,303.8 167.5,303.8 163.8,320.0 153.8,303.8" fill="#1E90FF" stroke="#000" stroke-width="0.7" stroke-linejoin="round"/>
<polygon points="182.5,250.0 210.0,250.0 213.8,260.0 205.0,263.8 202.5,260.0 190.0,260.0 182.5,256.2" fill="#0000FF" stroke="#000" stroke-width="0.7" stroke-linejoin="round"/>
<polygon points="180.0,257.5 235.0,260.0 231.2,300.0 210.0,297.5 190.0,296.2 176.2,293.8 177.5,275.0" fill="#00BFFF" stroke="#000" stroke-width="0.7" stroke-linejoin="round"/>
<polygon points="176.2,286.2 188.8,288.8 190.0,296.2 176.2,293.8" fill="#1E90FF" stroke="#000" stroke-width="0.7" stroke-linejoin="round"/>
<polygon points="233.8,270.0 245.0,270.0 250.0,273.8 240.0,280.0 232.5,280.0" fill="#FFFFFF" stroke="#000" stroke-width="0.7" stroke-linejoin="round"/>
<polygon points="235.0,260.0 260.0,261.2 260.0,303.8 231.2,300.0 232.5,280.0 240.0,280.0 250.0,273.8 245.0,270.0 233.8,270.0" fill="#00BFFF" stroke="#000" stroke-width="0.7" stroke-linejoin="round"/>
<polygon points="252.5,285.0 260.0,283.8 260.0,297.5 253.8,297.5" fill="#0000FF" stroke="#000" stroke-width="0.7" stroke-linejoin="round"/>
<polygon points="181.2,308.8 190.0,297.5 210.0,298.8 206.2,335.0 198.8,335.0 193.8,322.5 185.0,316.2" fill="#AFEEEE" stroke="#000" stroke-width="0.7" stroke-linejoin="round"/>
<polygon points="177.5,317.5 181.2,308.8 185.0,316.2 193.8,322.5 198.8,335.0 195.0,338.8 176.2,336.2" fill="#00BFFF" stroke="#000" stroke-width="0.7" stroke-linejoin="round"/>
<polygon points="176.2,336.2 195.0,338.8 200.0,347.5 206.2,352.5 206.2,361.2 172.5,357.5 173.8,345.0" fill="#0000FF" stroke="#000" stroke-width="0.7" stroke-linejoin="round"/>
<polygon points="206.2,363.8 220.0,365.0 220.0,380.0 205.0,377.5" fill="#00BFFF" stroke="#000" stroke-width="0.7" stroke-linejoin="round"/>
<polygon points="157.5,352.5 160.0,345.0 165.0,342.5 173.8,345.0 172.5,357.5 171.2,362.5" fill="#00BFFF" stroke="#000" stroke-width="0.7" stroke-linejoin="round"/>
<polygon points="230.0,302.5 245.0,303.8 245.0,316.2 228.8,315.0" fill="#0000FF" stroke="#000" stroke-width="0.7" stroke-linejoin="round"/>
<polygon points="228.8,315.0 245.0,316.2 247.5,337.5 240.0,338.8 238.8,350.0 235.0,355.0 223.8,355.0" fill="#00BFFF" stroke="#000" stroke-width="0.7" stroke-linejoin="round"/>
<polygon points="241.2,362.5 253.8,360.0 252.5,375.0 241.2,375.0" fill="#AFEEEE" stroke="#000" stroke-width="0.7" stroke-linejoin="round"/>
<polygon points="97.5,308.8 103.8,307.5 107.5,311.2 101.2,313.8" fill="#00BFFF" stroke="#000" stroke-width="0.7" stroke-linejoin="round"/>
<polygon points="110.0,312.5 117.5,313.8 116.2,322.5 111.2,320.0" fill="#00BFFF" stroke="#000" stroke-width="0.7" stroke-linejoin="round"/>
<polygon points="117.5,313.8 128.8,316.2 126.2,333.8 121.2,330.0 118.8,323.8" fill="#0000FF" stroke="#000" stroke-width="0.7" stroke-linejoin="round"/>
<polygon points="126.2,333.8 142.5,338.8 141.2,348.8 131.2,347.5" fill="#0000FF" stroke="#000" stroke-width="0.7" stroke-linejoin="round"/>
<polygon points="142.5,338.8 157.5,341.2 160.0,345.0 157.5,352.5 156.2,353.0 141.2,348.8" fill="#00BFFF" stroke="#000" stroke-width="0.7" stroke-linejoin="round"/>
<polygon points="161.2,335.0 175.0,332.5 176.2,336.2 173.8,345.0 165.0,342.5 160.0,345.0" fill="#1E90FF" stroke="#000" stroke-width="0.7" stroke-linejoin="round"/>
<polygon points="213.8,260.0 210.0,250.0 235.0,250.0 235.0,261.2 215.0,265.0" fill="#00BFFF" stroke="#000" stroke-width="0.7" stroke-linejoin="round"/>
<polygon points="265.0,260.0 268.8,250.0 307.5,250.0 308.8,266.2 306.2,307.5 285.0,306.2 260.0,297.5 260.0,272.5" fill="#0000FF" stroke="#000" stroke-width="0.7" stroke-linejoin="round"/>
<polygon points="260.0,277.5 268.8,276.2 272.5,282.5 283.8,285.0 285.0,295.0 276.2,293.8 273.8,287.5 260.0,287.5" fill="#00BFFF" stroke="#000" stroke-width="0.7" stroke-linejoin="round"/>
<polygon points="272.5,276.2 285.0,277.5 285.0,285.0 275.0,285.0" fill="#1E90FF" stroke="#000" stroke-width="0.7" stroke-linejoin="round"/>
<polygon points="307.5,250.0 342.5,250.0 342.5,257.5 360.0,260.0 375.0,260.0 377.5,267.5 308.8,266.2" fill="#0000FF" stroke="#000" stroke-width="0.7" stroke-linejoin="round"/>
<polygon points="342.5,250.0 353.8,250.0 353.8,257.5 342.5,257.5" fill="#AFEEEE" stroke="#000" stroke-width="0.7" stroke-linejoin="round"/>
<polygon points="353.8,250.0 367.5,250.0 370.0,260.0 360.0,260.0 353.8,257.5" fill="#00BFFF" stroke="#000" stroke-width="0.7" stroke-linejoin="round"/>
<polygon points="375.0,250.0 422.5,250.0 420.0,257.5 400.0,260.0 377.5,260.0" fill="#00BFFF" stroke="#000" stroke-width="0.7" stroke-linejoin="round"/>
<polygon points="308.8,266.2 377.5,267.5 382.5,273.8 385.0,295.0 387.5,308.8 328.8,308.8 295.0,307.5 306.2,307.5" fill="#AFEEEE" stroke="#000" stroke-width="0.7" stroke-linejoin="round"/>
<polygon points="346.2,298.8 353.8,298.8 353.8,293.8 366.2,293.8 366.2,303.8 358.8,303.8 357.5,308.8 346.2,306.2" fill="#00BFFF" stroke="#000" stroke-width="0.7" stroke-linejoin="round"/>
<polygon points="367.5,275.0 377.5,272.5 382.5,273.8 383.8,282.5 376.2,288.8 370.0,283.8" fill="#1E90FF" stroke="#000" stroke-width="0.7" stroke-linejoin="round"/>
<polygon points="382.5,272.5 396.2,271.2 397.5,282.5 393.8,293.8 383.8,295.0 382.5,282.5" fill="#0000FF" stroke="#000" stroke-width="0.7" stroke-linejoin="round"/>
<polygon points="396.2,271.2 410.0,268.8 420.0,265.0 425.0,275.0 425.0,291.2 420.0,300.0 410.0,300.0 397.5,310.0 397.5,282.5" fill="#AFEEEE" stroke="#000" stroke-width="0.7" stroke-linejoin="round"/>
<polygon points="407.5,282.5 420.0,280.0 420.0,288.8 410.0,291.2" fill="#00BFFF" stroke="#000" stroke-width="0.7" stroke-linejoin="round"/>
<polygon points="388.8,295.0 396.2,296.2 397.5,310.0 388.8,308.8" fill="#00BFFF" stroke="#000" stroke-width="0.7" stroke-linejoin="round"/>
<polygon points="410.0,300.0 445.0,298.8 445.0,312.5 410.0,313.8" fill="#1E90FF" stroke="#000" stroke-width="0.7" stroke-linejoin="round"/>
<polygon points="422.5,277.5 435.0,263.8 443.8,265.0 445.0,282.5 435.0,290.0 425.0,287.5" fill="#0000FF" stroke="#000" stroke-width="0.7" stroke-linejoin="round"/>
<polygon points="440.0,287.5 460.0,285.0 460.0,305.0 446.2,303.8 445.0,297.5" fill="#00BFFF" stroke="#000" stroke-width="0.7" stroke-linejoin="round"/>
<polygon points="420.0,257.5 435.0,255.0 435.0,263.8 422.5,277.5 420.0,265.0" fill="#AFEEEE" stroke="#000" stroke-width="0.7" stroke-linejoin="round"/>
<polygon points="443.8,265.0 460.0,262.5 460.0,285.0 445.0,282.5" fill="#00BFFF" stroke="#000" stroke-width="0.7" stroke-linejoin="round"/>
<polygon points="295.0,307.5 387.5,308.8 390.0,322.5 385.0,332.5 383.8,345.0 355.0,352.5 353.8,342.5 340.0,340.0 341.2,350.0 328.8,345.0 328.8,316.2 293.8,315.0" fill="#AFEEEE" stroke="#000" stroke-width="0.7" stroke-linejoin="round"/>
<polygon points="361.2,311.2 370.0,310.0 372.5,316.2 380.0,317.5 381.2,325.0 373.8,326.2 372.5,331.2 365.0,331.2 366.2,322.5 360.0,320.0" fill="#00BFFF" stroke="#000" stroke-width="0.7" stroke-linejoin="round"/>
<polygon points="347.5,325.0 356.2,322.5 365.0,325.0 363.8,332.5 358.8,333.8 360.0,340.0 350.0,340.0 348.8,331.2" fill="#00BFFF" stroke="#000" stroke-width="0.7" stroke-linejoin="round"/>
<polygon points="350.0,315.5 356.2,315.5 356.2,321.2 350.0,321.2" fill="#0000FF" stroke="#000" stroke-width="0.7" stroke-linejoin="round"/>
<polygon points="328.8,325.0 340.0,327.5 347.5,331.2 348.8,340.0 340.0,340.0 341.2,350.0 328.8,345.0" fill="#1E90FF" stroke="#000" stroke-width="0.7" stroke-linejoin="round"/>
<polygon points="390.0,315.0 425.0,316.2 423.8,330.0 415.0,332.5 400.0,327.5 390.0,322.5" fill="#AFEEEE" stroke="#000" stroke-width="0.7" stroke-linejoin="round"/>
<polygon points="388.8,312.5 397.5,316.2 400.0,326.2 390.0,322.5" fill="#0000FF" stroke="#000" stroke-width="0.7" stroke-linejoin="round"/>
<polygon points="260.0,307.5 285.0,307.5 293.8,315.0 292.5,330.0 285.0,332.5 270.0,330.0 260.0,332.5" fill="#00BFFF" stroke="#000" stroke-width="0.7" stroke-linejoin="round"/>
<polygon points="293.8,315.0 328.8,316.2 328.8,345.0 341.2,350.0 340.0,360.0 331.2,372.5 325.0,372.5 325.0,366.2 312.5,377.5 310.0,400.0 267.5,400.0 268.8,375.0 290.0,375.0 292.5,330.0" fill="#0000FF" stroke="#000" stroke-width="0.7" stroke-linejoin="round"/>
<polygon points="293.8,327.5 315.0,327.5 315.0,337.5 305.0,337.5 303.8,333.8 293.8,333.8" fill="#00BFFF" stroke="#000" stroke-width="0.7" stroke-linejoin="round"/>
<polygon points="303.8,352.5 315.0,352.5 315.0,358.8 308.8,358.8 308.8,363.8 303.8,363.8" fill="#00BFFF" stroke="#000" stroke-width="0.7" stroke-linejoin="round"/>
<polygon points="293.8,376.2 300.0,376.2 300.0,370.0 306.2,370.0 306.2,377.5 300.0,382.5 293.8,382.5" fill="#0000FF" stroke="#000" stroke-width="1.2" stroke-linejoin="round"/>
<polygon points="260.0,375.0 268.8,375.0 267.5,400.0 260.0,395.0" fill="#AFEEEE" stroke="#000" stroke-width="0.7" stroke-linejoin="round"/>
<polygon points="340.0,350.0 350.0,351.2 350.0,360.0 340.0,360.0" fill="#AFEEEE" stroke="#000" stroke-width="0.7" stroke-linejoin="round"/>
<polygon points="311.2,383.8 323.8,383.8 325.0,390.0 311.2,391.2" fill="#00BFFF" stroke="#000" stroke-width="0.7" stroke-linejoin="round"/>
<polygon points="377.5,367.5 385.0,366.2 390.0,380.0 380.0,381.2" fill="#00BFFF" stroke="#000" stroke-width="0.7" stroke-linejoin="round"/>
<polygon points="382.5,367.5 388.8,367.5 390.0,380.0 383.8,380.0" fill="#0000FF" stroke="#000" stroke-width="0.7" stroke-linejoin="round"/>
<polygon points="343.8,390.0 355.0,385.0 365.0,392.5 365.0,400.0 345.0,400.0" fill="#00BFFF" stroke="#000" stroke-width="0.7" stroke-linejoin="round"/>
<polygon points="353.8,385.0 362.5,383.8 365.0,392.5 356.2,391.2" fill="#AFEEEE" stroke="#000" stroke-width="0.7" stroke-linejoin="round"/>
<polygon points="373.8,382.5 395.0,380.0 397.5,400.0 377.5,400.0" fill="#00BFFF" stroke="#000" stroke-width="0.7" stroke-linejoin="round"/>
<polygon points="420.0,317.5 435.0,315.0 440.0,325.0 436.2,332.5 432.5,342.5 430.0,350.0 427.5,353.8 420.0,352.5 420.0,336.2 410.0,332.5 423.8,330.0" fill="#AFEEEE" stroke="#000" stroke-width="0.7" stroke-linejoin="round"/>
<polygon points="392.5,327.5 400.0,327.5 410.0,332.5 420.0,336.2 420.0,345.0 410.0,348.8 400.0,350.0 390.0,347.5 391.2,337.5" fill="#00BFFF" stroke="#000" stroke-width="0.7" stroke-linejoin="round"/>
<polygon points="415.0,343.8 422.5,343.8 423.8,352.5 415.0,353.8" fill="#FFFFFF" stroke="#000" stroke-width="0.7" stroke-linejoin="round"/>
<polygon points="400.0,365.0 426.2,363.8 430.0,375.0 425.0,390.0 423.8,400.0 400.0,400.0" fill="#AFEEEE" stroke="#000" stroke-width="0.7" stroke-linejoin="round"/>
<polygon points="405.0,366.2 420.0,365.0 425.0,375.0 420.0,385.0 410.0,386.2" fill="#00BFFF" stroke="#000" stroke-width="0.7" stroke-linejoin="round"/>
<polygon points="445.0,312.5 460.0,307.5 460.0,355.0 447.5,355.0 440.0,352.5 432.5,342.5 436.2,332.5 440.0,325.0" fill="#AFEEEE" stroke="#000" stroke-width="0.7" stroke-linejoin="round"/>
<polygon points="438.8,327.5 450.0,330.0 448.8,336.2 436.2,336.2" fill="#1E90FF" stroke="#000" stroke-width="0.7" stroke-linejoin="round"/>
<polygon points="440.0,352.5 447.5,355.0 446.2,363.8 446.2,382.5 435.0,383.8 432.5,375.0 430.0,365.0 432.5,355.0" fill="#AFEEEE" stroke="#000" stroke-width="0.7" stroke-linejoin="round"/>
<polygon points="446.2,372.5 460.0,371.2 460.0,390.0 446.2,390.0" fill="#0000FF" stroke="#000" stroke-width="0.7" stroke-linejoin="round"/>
<polygon points="447.5,385.0 457.5,385.0 457.5,391.2 447.5,391.2" fill="#00BFFF" stroke="#000" stroke-width="0.7" stroke-linejoin="round"/>
<polygon points="445.2,235.0 457.5,235.0 459.2,245.5 466.2,254.2 462.8,256.0 457.5,247.2 450.5,245.5 446.1,242.0" fill="#0000FF" stroke="#000" stroke-width="0.7" stroke-linejoin="round"/>
<polygon points="468.0,245.5 489.0,245.5 489.9,257.8 498.6,258.6 501.2,272.6 497.8,278.8 489.0,272.6 476.8,277.0 468.0,285.8 459.2,291.0 461.9,282.2 468.0,275.2 466.2,263.0 471.5,257.8" fill="#0000FF" stroke="#000" stroke-width="0.7" stroke-linejoin="round"/>
<polygon points="538.0,240.2 546.8,238.5 548.5,249.0 545.0,256.0 538.0,252.5 535.4,245.5" fill="#0000FF" stroke="#000" stroke-width="0.7" stroke-linejoin="round"/>
<polygon points="555.5,256.0 566.0,250.8 580.0,245.5 580.0,292.8 573.0,292.8 569.5,285.8 566.0,280.5 562.5,273.5 559.0,264.8" fill="#0000FF" stroke="#000" stroke-width="0.7" stroke-linejoin="round"/>
<polygon points="465.4,312.0 483.8,310.2 485.5,320.8 482.0,326.0 473.2,327.8 465.4,322.5" fill="#0000FF" stroke="#000" stroke-width="0.7" stroke-linejoin="round"/>
<polygon points="515.2,315.5 522.2,313.8 525.8,320.8 520.5,324.2 515.2,321.6" fill="#0000FF" stroke="#000" stroke-width="0.7" stroke-linejoin="round"/>
<polygon points="560.8,305.0 567.8,303.2 571.2,312.0 566.0,317.2 560.8,313.8" fill="#0000FF" stroke="#000" stroke-width="0.7" stroke-linejoin="round"/>
<polygon points="542.4,287.5 547.6,285.8 552.0,294.5 546.8,298.0 542.4,294.5" fill="#0000FF" stroke="#000" stroke-width="0.7" stroke-linejoin="round"/>
<polygon points="550.2,330.4 559.0,329.5 560.8,338.2 552.0,340.0" fill="#0000FF" stroke="#000" stroke-width="0.7" stroke-linejoin="round"/>
<polygon points="473.2,333.0 485.5,333.0 487.2,340.0 473.2,340.0" fill="#0000FF" stroke="#000" stroke-width="0.7" stroke-linejoin="round"/>
<polygon points="440.0,278.8 444.4,279.6 443.5,287.5 440.0,287.5" fill="#0000FF" stroke="#000" stroke-width="0.7" stroke-linejoin="round"/>
<polygon points="471.5,235.0 485.5,235.0 483.8,242.0 475.0,243.8 469.8,240.2" fill="#0000FF" stroke="#000" stroke-width="0.7" stroke-linejoin="round"/>
<polygon points="440.0,250.8 450.5,249.9 457.5,250.8 462.8,256.0 461.9,266.5 459.2,277.0 450.5,284.0 443.5,277.0 440.0,270.0" fill="#AFEEEE" stroke="#000" stroke-width="0.7" stroke-linejoin="round"/>
<polygon points="502.1,295.4 511.8,282.2 515.2,280.5 518.8,287.5 524.0,292.8 517.0,299.8 510.0,305.0 506.5,301.5" fill="#AFEEEE" stroke="#000" stroke-width="0.7" stroke-linejoin="round"/>
<polygon points="517.0,278.8 524.0,277.0 525.8,284.0 531.0,289.2 538.0,287.5 543.2,280.5 545.0,272.6 547.6,275.2 545.0,285.8 538.0,292.8 529.2,293.6 524.0,289.2 519.6,286.6" fill="#AFEEEE" stroke="#000" stroke-width="0.7" stroke-linejoin="round"/>
<polygon points="531.0,278.8 538.0,277.0 539.8,282.2 534.5,287.5 530.1,284.0" fill="#1E90FF" stroke="#000" stroke-width="0.7" stroke-linejoin="round"/>
<polygon points="482.0,298.0 490.8,294.5 499.5,298.0 506.5,302.4 508.2,306.8 499.5,308.5 487.2,308.5 482.0,305.0" fill="#AFEEEE" stroke="#000" stroke-width="0.7" stroke-linejoin="round"/>
<polygon points="440.0,296.2 457.5,295.4 471.5,292.8 478.5,296.2 475.0,303.2 468.0,305.0 466.2,312.0 462.8,322.5 457.5,333.0 440.0,333.0 440.0,322.5 447.0,319.0 445.2,308.5 440.0,305.0" fill="#AFEEEE" stroke="#000" stroke-width="0.7" stroke-linejoin="round"/>
<polygon points="508.2,308.5 518.8,301.5 529.2,300.6 529.2,305.0 520.5,308.5 513.5,317.2 509.1,315.5" fill="#AFEEEE" stroke="#000" stroke-width="0.7" stroke-linejoin="round"/>
<polygon points="489.0,320.8 501.2,319.9 506.5,324.2 499.5,326.9 489.9,325.1" fill="#AFEEEE" stroke="#000" stroke-width="0.7" stroke-linejoin="round"/>
<polygon points="546.8,329.5 552.0,326.0 562.5,327.8 573.0,333.0 580.0,329.5 580.0,340.0 562.5,340.0 560.8,338.2 559.0,329.5 550.2,330.4 548.5,340.0 545.0,340.0" fill="#AFEEEE" stroke="#000" stroke-width="0.7" stroke-linejoin="round"/>
<polygon points="567.8,298.0 580.0,297.1 580.0,303.2 571.2,303.2" fill="#AFEEEE" stroke="#000" stroke-width="0.7" stroke-linejoin="round"/>
<polygon points="457.5,333.0 471.5,333.9 471.5,340.0 457.5,340.0" fill="#AFEEEE" stroke="#000" stroke-width="0.7" stroke-linejoin="round"/>
<polygon points="527.5,324.2 532.8,322.5 535.4,329.5 529.2,331.2" fill="#AFEEEE" stroke="#000" stroke-width="0.7" stroke-linejoin="round"/>
<polygon points="504.8,252.5 517.0,251.6 522.2,263.0 517.0,265.6 506.5,264.8" fill="#1E90FF" stroke="#000" stroke-width="0.7" stroke-linejoin="round"/>
<polygon points="517.0,251.6 527.5,247.2 532.8,252.5 531.0,261.2 522.2,263.0" fill="#1E90FF" stroke="#000" stroke-width="0.7" stroke-linejoin="round"/>
<polygon points="477.6,279.6 487.2,278.8 492.5,282.2 501.2,282.2 502.1,289.2 492.5,291.0 482.0,289.2" fill="#1E90FF" stroke="#000" stroke-width="0.7" stroke-linejoin="round"/>
<polygon points="485.5,308.5 496.0,309.4 501.2,319.9 489.0,320.8 485.5,317.2" fill="#1E90FF" stroke="#000" stroke-width="0.7" stroke-linejoin="round"/>
<polygon points="527.5,305.0 538.0,303.2 545.0,308.5 546.8,317.2 538.0,322.5 531.0,317.2" fill="#1E90FF" stroke="#000" stroke-width="0.7" stroke-linejoin="round"/>
<polygon points="553.8,287.5 562.5,285.8 566.0,292.8 559.0,296.2 553.8,294.5" fill="#1E90FF" stroke="#000" stroke-width="0.7" stroke-linejoin="round"/>
<polygon points="504.8,326.0 517.0,322.5 522.2,329.5 518.8,336.5 508.2,336.5" fill="#1E90FF" stroke="#000" stroke-width="0.7" stroke-linejoin="round"/>
<polygon points="459.2,235.0 468.0,235.0 467.1,239.4 461.0,240.2" fill="#FFFFFF" stroke="#000" stroke-width="0.7" stroke-linejoin="round"/>
<polygon points="468.0,270.9 474.1,271.8 474.1,276.1 468.9,275.6" fill="#FFFFFF" stroke="#000" stroke-width="0.7" stroke-linejoin="round"/>
<polygon points="516.1,329.5 519.6,328.6 520.5,333.0 517.0,333.9" fill="#FFFFFF" stroke="#000" stroke-width="0.7" stroke-linejoin="round"/>
<polygon points="494.2,342.8 501.2,336.6 510.0,337.5 517.0,346.2 515.2,353.2 510.0,355.0 508.2,360.2 499.5,360.2 496.0,353.2" fill="#0000FF" stroke="#000" stroke-width="0.7" stroke-linejoin="round"/>
<polygon points="468.9,349.8 480.2,343.6 485.5,348.0 482.0,355.0 483.8,360.2 480.2,363.8 475.0,362.0 473.2,355.0" fill="#0000FF" stroke="#000" stroke-width="0.7" stroke-linejoin="round"/>
<polygon points="445.2,365.5 460.1,363.8 461.0,379.5 461.9,390.0 447.0,391.8 445.2,386.5 443.5,381.2" fill="#0000FF" stroke="#000" stroke-width="0.7" stroke-linejoin="round"/>
<polygon points="448.8,384.8 457.5,385.6 456.6,391.8 448.8,390.9" fill="#AFEEEE" stroke="#000" stroke-width="0.7" stroke-linejoin="round"/>
<polygon points="543.2,357.6 549.4,356.8 552.0,362.0 547.6,365.5 544.1,362.9" fill="#0000FF" stroke="#000" stroke-width="0.7" stroke-linejoin="round"/>
<polygon points="552.0,330.5 559.0,332.2 560.8,337.5 555.5,339.2 552.0,335.8" fill="#0000FF" stroke="#000" stroke-width="0.7" stroke-linejoin="round"/>
<polygon points="472.4,334.0 482.0,333.1 482.9,338.4 475.0,339.2" fill="#0000FF" stroke="#000" stroke-width="0.7" stroke-linejoin="round"/>
<polygon points="440.0,411.0 445.2,412.8 443.5,418.0 440.0,418.0" fill="#0000FF" stroke="#000" stroke-width="0.7" stroke-linejoin="round"/>
<polygon points="541.5,419.8 548.5,418.9 552.0,425.0 543.2,425.0" fill="#0000FF" stroke="#000" stroke-width="0.7" stroke-linejoin="round"/>
<polygon points="461.0,363.8 476.8,363.8 478.5,370.8 480.2,386.5 470.6,387.4 461.9,388.2 461.0,379.5" fill="#1E90FF" stroke="#000" stroke-width="0.7" stroke-linejoin="round"/>
<polygon points="504.8,372.5 515.2,373.4 517.0,379.5 510.0,381.2 505.6,379.5" fill="#1E90FF" stroke="#000" stroke-width="0.7" stroke-linejoin="round"/>
<polygon points="482.0,388.2 490.8,387.4 492.5,393.5 499.5,398.8 500.4,403.1 492.5,397.0 482.0,396.1" fill="#1E90FF" stroke="#000" stroke-width="0.7" stroke-linejoin="round"/>
<polygon points="505.6,390.0 517.0,389.1 520.5,395.2 517.0,398.8 510.0,400.5 506.5,395.2" fill="#1E90FF" stroke="#000" stroke-width="0.7" stroke-linejoin="round"/>
<polygon points="489.0,328.8 504.8,327.0 517.0,330.5 515.2,337.5 510.0,337.5 501.2,336.6 494.2,342.8 489.0,337.5" fill="#1E90FF" stroke="#000" stroke-width="0.7" stroke-linejoin="round"/>
<polygon points="532.8,334.0 545.0,330.5 552.0,335.8 555.5,339.2 560.8,346.2 552.0,351.5 545.0,349.8 538.0,342.8" fill="#1E90FF" stroke="#000" stroke-width="0.7" stroke-linejoin="round"/>
<polygon points="538.0,384.8 545.0,386.5 548.5,395.2 545.0,400.5 540.6,397.0" fill="#1E90FF" stroke="#000" stroke-width="0.7" stroke-linejoin="round"/>
<polygon points="534.5,414.5 540.6,415.4 543.2,425.0 535.4,425.0" fill="#1E90FF" stroke="#000" stroke-width="0.7" stroke-linejoin="round"/>
<polygon points="440.0,327.0 448.8,328.8 447.9,334.9 440.0,334.9" fill="#1E90FF" stroke="#000" stroke-width="0.7" stroke-linejoin="round"/>
<polygon points="520.5,342.8 531.0,349.8 538.0,355.0 543.2,357.6 541.5,365.5 534.5,369.0 527.5,367.2 525.8,360.2 522.2,353.2 517.9,349.8" fill="#00BFFF" stroke="#000" stroke-width="0.7" stroke-linejoin="round"/>
<polygon points="480.2,370.8 490.8,365.5 497.8,369.0 497.8,379.5 490.8,385.6 482.9,386.5 479.4,377.8" fill="#00BFFF" stroke="#000" stroke-width="0.7" stroke-linejoin="round"/>
<polygon points="462.8,325.2 475.0,327.0 485.5,325.2 487.2,332.2 482.0,333.1 472.4,334.0 469.8,337.5 462.8,335.8" fill="#00BFFF" stroke="#000" stroke-width="0.7" stroke-linejoin="round"/>
<polygon points="512.6,357.6 517.9,356.8 522.2,363.8 518.8,368.1 513.5,365.5" fill="#00BFFF" stroke="#000" stroke-width="0.7" stroke-linejoin="round"/>
<polygon points="471.5,389.1 480.2,388.2 481.1,397.0 473.2,397.0" fill="#00BFFF" stroke="#000" stroke-width="0.7" stroke-linejoin="round"/>
<polygon points="440.0,397.0 447.0,395.2 450.5,402.2 452.2,411.0 445.2,412.8 440.0,411.0" fill="#00BFFF" stroke="#000" stroke-width="0.7" stroke-linejoin="round"/>
<polygon points="548.5,395.2 555.5,407.5 562.5,418.0 564.2,425.0 555.5,425.0 552.0,414.5 545.0,402.2" fill="#00BFFF" stroke="#000" stroke-width="0.7" stroke-linejoin="round"/>
<polygon points="497.8,361.1 505.6,362.0 506.5,368.1 500.4,369.0" fill="#00BFFF" stroke="#000" stroke-width="0.7" stroke-linejoin="round"/>
<polygon points="552.0,351.5 560.8,346.2 566.0,346.2 555.5,356.8 549.4,356.8" fill="#00BFFF" stroke="#000" stroke-width="0.7" stroke-linejoin="round"/>
<polygon points="515.2,328.8 519.6,327.9 520.5,333.1 517.0,334.0" fill="#FFFFFF" stroke="#000" stroke-width="0.7" stroke-linejoin="round"/>
<polygon points="524.9,336.6 530.1,335.8 531.0,341.0 526.6,341.9" fill="#FFFFFF" stroke="#000" stroke-width="0.7" stroke-linejoin="round"/>
<polygon points="493.4,340.1 496.0,340.1 496.0,342.8 493.4,342.8" fill="#FFFFFF" stroke="#000" stroke-width="0.7" stroke-linejoin="round"/>
<polygon points="505.2,373.5 516.6,372.6 517.5,378.8 510.5,379.6 507.0,382.2" fill="#1E90FF" stroke="#000" stroke-width="0.7" stroke-linejoin="round"/>
<polygon points="506.1,391.0 517.5,389.2 515.8,396.2 510.5,401.5 507.0,396.2" fill="#1E90FF" stroke="#000" stroke-width="0.7" stroke-linejoin="round"/>
<polygon points="528.0,401.5 537.6,393.6 544.6,404.1 547.2,407.6 552.5,411.1 557.8,422.5 552.5,424.2 547.2,419.0 542.0,419.9 540.2,412.0 533.2,411.1" fill="#AFEEEE" stroke="#000" stroke-width="0.7" stroke-linejoin="round"/>
<polygon points="537.6,385.8 544.6,385.8 548.1,394.5 549.9,401.5 544.6,404.1 541.1,398.0 536.8,393.6" fill="#1E90FF" stroke="#000" stroke-width="0.7" stroke-linejoin="round"/>
<polygon points="544.6,404.1 549.9,401.5 557.8,412.0 552.5,411.1 547.2,407.6" fill="#00BFFF" stroke="#000" stroke-width="0.7" stroke-linejoin="round"/>
<polygon points="556.0,412.0 558.6,412.9 561.2,420.8 557.8,422.5" fill="#1E90FF" stroke="#000" stroke-width="0.7" stroke-linejoin="round"/>
<polygon points="533.2,411.1 540.2,412.0 541.1,420.8 547.2,429.5 543.8,440.0 544.6,443.5 541.1,438.2 535.9,431.2 533.2,426.0 534.1,420.8" fill="#1E90FF" stroke="#000" stroke-width="0.7" stroke-linejoin="round"/>
<polygon points="542.0,419.9 547.2,419.0 552.5,424.2 556.9,426.9 552.5,428.6 546.4,427.8 542.9,424.2" fill="#0000FF" stroke="#000" stroke-width="0.7" stroke-linejoin="round"/>
<polygon points="557.8,423.4 563.0,423.9 563.9,426.9 558.6,427.4" fill="#0000FF" stroke="#000" stroke-width="0.7" stroke-linejoin="round"/>
<polygon points="543.8,429.5 552.5,428.6 556.9,426.9 560.4,436.5 557.8,443.5 550.8,440.0 549.9,434.8 544.6,435.6" fill="#00BFFF" stroke="#000" stroke-width="0.7" stroke-linejoin="round"/>
<polygon points="560.4,427.8 564.8,426.9 568.2,434.8 560.4,436.5" fill="#1E90FF" stroke="#000" stroke-width="0.7" stroke-linejoin="round"/>
<polygon points="560.4,436.5 568.2,434.8 570.0,440.0 570.9,452.2 569.1,457.5 564.8,461.0 562.1,454.0 561.2,445.2" fill="#0000FF" stroke="#000" stroke-width="0.7" stroke-linejoin="round"/>
<polygon points="544.6,435.6 549.9,434.8 550.8,440.0 557.8,443.5 560.4,452.2 559.5,459.2 554.2,454.0 549.0,448.8 544.6,443.5" fill="#1E90FF" stroke="#000" stroke-width="0.7" stroke-linejoin="round"/>
<polygon points="557.8,443.5 560.4,436.5 561.2,445.2 562.1,454.0 561.2,460.1 559.5,459.2 560.4,452.2" fill="#00BFFF" stroke="#000" stroke-width="0.7" stroke-linejoin="round"/>
<polyline points="546.4,427.8 544.6,435.6" fill="none" stroke="#000" stroke-width="0.8" stroke-linejoin="round"/>
<polyline points="552.5,428.6 550.8,440.0" fill="none" stroke="#000" stroke-width="0.8" stroke-linejoin="round"/>
<polyline points="540.2,412.0 543.8,410.2 552.5,411.1" fill="none" stroke="#000" stroke-width="0.8" stroke-linejoin="round"/>
<polyline points="541.1,420.8 542.9,424.2" fill="none" stroke="#000" stroke-width="0.8" stroke-linejoin="round"/>
<polygon points="267.5,380.0 313.8,380.0 313.8,401.2 305.0,402.5 307.5,408.8 297.5,408.8 287.5,418.8 270.0,403.8 267.5,391.2" fill="#0000FF" stroke="#000" stroke-width="0.7" stroke-linejoin="round"/>
<polygon points="260.0,380.0 267.5,380.0 267.5,391.2 260.0,387.5" fill="#AFEEEE" stroke="#000" stroke-width="0.7" stroke-linejoin="round"/>
<polygon points="305.0,402.5 326.2,402.5 331.2,408.8 345.0,406.2 350.0,415.0 346.2,425.0 340.0,426.2 338.8,450.0 331.2,448.8 326.2,437.5 313.8,417.5 307.5,408.8" fill="#AFEEEE" stroke="#000" stroke-width="0.7" stroke-linejoin="round"/>
<polygon points="332.5,418.8 340.0,420.0 340.0,426.2 332.5,426.2" fill="#1E90FF" stroke="#000" stroke-width="0.7" stroke-linejoin="round"/>
<polygon points="350.0,415.0 360.0,410.0 367.5,411.2 377.5,425.0 360.0,433.8 356.2,445.0 358.8,460.0 355.0,465.0 342.5,460.0 331.2,448.8 338.8,450.0 340.0,426.2 346.2,425.0" fill="#0000FF" stroke="#000" stroke-width="0.7" stroke-linejoin="round"/>
<polygon points="350.0,433.8 357.5,432.5 358.8,440.0 351.2,441.2" fill="#AFEEEE" stroke="#000" stroke-width="0.7" stroke-linejoin="round"/>
<polygon points="343.8,453.8 347.5,452.5 350.0,460.0 343.8,460.0" fill="#AFEEEE" stroke="#000" stroke-width="0.7" stroke-linejoin="round"/>
<polygon points="351.2,458.8 356.2,458.8 356.2,463.8 352.5,463.8" fill="#AFEEEE" stroke="#000" stroke-width="0.7" stroke-linejoin="round"/>
<polygon points="352.5,423.8 360.0,421.2 363.8,425.0 357.5,428.8 353.8,427.5" fill="#1E90FF" stroke="#000" stroke-width="0.7" stroke-linejoin="round"/>
<polygon points="311.2,383.8 323.8,383.8 323.8,391.2 311.2,391.2" fill="#00BFFF" stroke="#000" stroke-width="0.7" stroke-linejoin="round"/>
<polygon points="346.2,396.2 360.0,395.0 362.5,407.5 352.5,410.0 346.2,405.0" fill="#00BFFF" stroke="#000" stroke-width="0.7" stroke-linejoin="round"/>
<polygon points="377.5,385.0 395.0,383.8 398.8,395.0 392.5,400.0 380.0,401.2" fill="#00BFFF" stroke="#000" stroke-width="0.7" stroke-linejoin="round"/>
<polygon points="356.2,382.5 362.5,382.5 370.0,390.0 370.0,400.0 363.8,401.2 360.0,392.5" fill="#AFEEEE" stroke="#000" stroke-width="0.7" stroke-linejoin="round"/>
<polygon points="388.8,401.2 397.5,398.8 400.0,410.0 391.2,413.8" fill="#0000FF" stroke="#000" stroke-width="0.7" stroke-linejoin="round"/>
<polygon points="400.0,380.0 422.5,380.0 425.0,390.0 420.0,402.5 420.0,411.2 400.0,410.0 398.8,395.0" fill="#AFEEEE" stroke="#000" stroke-width="0.7" stroke-linejoin="round"/>
<polygon points="420.0,392.5 437.5,392.5 445.0,398.8 440.0,407.5 430.0,407.5 422.5,405.0" fill="#00BFFF" stroke="#000" stroke-width="0.7" stroke-linejoin="round"/>
<polygon points="431.2,408.8 442.5,407.5 446.2,415.0 435.0,417.5" fill="#0000FF" stroke="#000" stroke-width="0.7" stroke-linejoin="round"/>
<polygon points="445.0,390.0 460.0,390.0 460.0,402.5 447.5,402.5" fill="#AFEEEE" stroke="#000" stroke-width="0.7" stroke-linejoin="round"/>
<polygon points="445.0,380.0 460.0,380.0 460.0,390.0 446.2,390.0" fill="#0000FF" stroke="#000" stroke-width="0.7" stroke-linejoin="round"/>
<polygon points="445.0,402.5 457.5,401.2 460.0,407.5 457.5,417.5 450.0,415.0" fill="#00BFFF" stroke="#000" stroke-width="0.7" stroke-linejoin="round"/>
<polygon points="382.8,207.9 388.0,205.2 395.0,207.9 402.0,205.2 406.4,207.9 407.2,217.5 383.6,218.4" fill="#AFEEEE" stroke="#000" stroke-width="0.7" stroke-linejoin="round"/>
<polygon points="360.0,230.6 368.8,235.0 373.1,243.8 363.5,247.2 360.0,250.8" fill="#AFEEEE" stroke="#000" stroke-width="0.7" stroke-linejoin="round"/>
<polygon points="360.0,269.1 376.6,269.1 382.8,266.5 385.4,271.8 379.2,275.2 382.8,282.2 386.2,295.4 382.8,305.0 360.0,305.0" fill="#AFEEEE" stroke="#000" stroke-width="0.7" stroke-linejoin="round"/>
<polygon points="376.6,258.6 420.4,259.5 420.4,270.0 430.0,277.0 423.0,278.8 421.2,284.0 420.4,291.0 410.8,287.5 403.8,292.8 396.8,294.5 393.2,284.0 398.5,277.0 391.5,270.0 382.8,266.5" fill="#AFEEEE" stroke="#000" stroke-width="0.7" stroke-linejoin="round"/>
<polygon points="382.8,277.0 388.0,271.8 395.9,270.9 398.5,277.0 393.2,284.0 392.4,295.4 384.5,294.5" fill="#0000FF" stroke="#000" stroke-width="0.7" stroke-linejoin="round"/>
<polygon points="394.1,282.2 402.0,275.2 410.8,277.0 412.5,284.0 420.4,285.8 420.4,295.4 412.5,298.0 402.0,298.0 396.8,294.5" fill="#AFEEEE" stroke="#000" stroke-width="0.7" stroke-linejoin="round"/>
<polygon points="407.2,285.8 412.5,279.6 419.5,282.2 420.4,289.2 412.5,291.0" fill="#00BFFF" stroke="#000" stroke-width="0.7" stroke-linejoin="round"/>
<polygon points="421.2,257.8 432.6,250.8 437.0,256.0 436.1,263.9 435.2,270.0 430.0,277.0 420.4,270.0" fill="#AFEEEE" stroke="#000" stroke-width="0.7" stroke-linejoin="round"/>
<polygon points="444.0,256.0 451.0,254.2 452.8,259.5 449.2,263.9 444.0,263.0" fill="#AFEEEE" stroke="#000" stroke-width="0.7" stroke-linejoin="round"/>
<polygon points="447.5,249.9 455.4,249.0 460.6,252.5 458.0,257.8 451.0,254.2" fill="#AFEEEE" stroke="#000" stroke-width="0.7" stroke-linejoin="round"/>
<polygon points="439.6,273.5 454.5,266.5 461.5,269.1 463.2,277.0 458.0,282.2 445.8,285.8 439.6,282.2" fill="#AFEEEE" stroke="#000" stroke-width="0.7" stroke-linejoin="round"/>
<polygon points="452.8,259.5 460.6,257.8 461.5,266.5 454.5,266.5" fill="#AFEEEE" stroke="#000" stroke-width="0.7" stroke-linejoin="round"/>
<polygon points="386.2,200.0 403.8,200.0 402.0,204.4 395.0,207.9 388.0,205.2" fill="#0000FF" stroke="#000" stroke-width="0.7" stroke-linejoin="round"/>
<polygon points="360.0,226.2 367.0,226.2 374.0,235.0 368.8,235.0 360.0,230.6" fill="#0000FF" stroke="#000" stroke-width="0.7" stroke-linejoin="round"/>
<polygon points="385.4,242.0 399.4,242.0 400.2,251.6 391.5,251.6 390.6,247.2 385.4,246.4" fill="#0000FF" stroke="#000" stroke-width="0.7" stroke-linejoin="round"/>
<polygon points="414.2,242.0 420.4,240.2 421.2,249.9 415.1,250.8" fill="#0000FF" stroke="#000" stroke-width="0.7" stroke-linejoin="round"/>
<polygon points="429.1,218.4 435.2,214.9 442.2,216.6 444.0,222.8 437.0,226.2 430.0,224.5" fill="#0000FF" stroke="#000" stroke-width="0.7" stroke-linejoin="round"/>
<polygon points="445.8,231.5 458.0,233.2 459.8,240.2 457.1,248.1 447.5,249.0 445.8,242.0" fill="#0000FF" stroke="#000" stroke-width="0.7" stroke-linejoin="round"/>
<polygon points="458.0,233.2 461.5,240.2 468.5,241.1 472.0,237.6 500.0,235.0 500.0,257.8 489.5,257.8 486.0,252.5 479.0,254.2 472.0,259.5 465.0,257.8 460.6,252.5 459.8,240.2" fill="#0000FF" stroke="#000" stroke-width="0.7" stroke-linejoin="round"/>
<polygon points="422.1,278.8 430.0,277.0 435.2,270.0 440.5,273.5 439.6,282.2 445.8,285.8 437.0,287.5 433.5,292.8 426.5,292.8 422.1,287.5" fill="#0000FF" stroke="#000" stroke-width="0.7" stroke-linejoin="round"/>
<polygon points="459.8,282.2 465.0,275.2 473.8,271.8 479.0,277.0 486.0,277.0 489.5,282.2 482.5,287.5 472.0,291.0 465.0,294.5 459.8,291.0" fill="#0000FF" stroke="#000" stroke-width="0.7" stroke-linejoin="round"/>
<polygon points="468.5,259.5 482.5,257.8 489.5,261.2 489.5,273.5 479.0,277.0 473.8,271.8 466.8,270.0" fill="#0000FF" stroke="#000" stroke-width="0.7" stroke-linejoin="round"/>
<polygon points="435.2,263.0 440.5,264.8 442.2,270.0 437.0,271.8" fill="#0000FF" stroke="#000" stroke-width="0.7" stroke-linejoin="round"/>
<polygon points="360.0,259.5 370.5,257.8 376.6,258.6 376.6,269.1 360.0,269.1" fill="#0000FF" stroke="#000" stroke-width="0.7" stroke-linejoin="round"/>
<polygon points="367.9,200.0 382.8,200.0 382.8,218.4 367.9,218.4" fill="#1E90FF" stroke="#000" stroke-width="0.7" stroke-linejoin="round"/>
<polygon points="397.6,219.2 420.4,218.4 421.2,233.2 405.5,235.0 397.6,232.4" fill="#1E90FF" stroke="#000" stroke-width="0.7" stroke-linejoin="round"/>
<polygon points="406.4,226.2 412.5,226.2 412.5,232.4 406.4,232.4" fill="#00BFFF" stroke="#000" stroke-width="0.7" stroke-linejoin="round"/>
<polygon points="362.6,245.5 373.1,243.8 377.5,243.8 381.0,250.8 374.0,254.2 365.2,252.5" fill="#1E90FF" stroke="#000" stroke-width="0.7" stroke-linejoin="round"/>
<polygon points="436.1,249.9 444.0,249.0 445.8,256.0 440.5,260.4 437.0,256.0" fill="#1E90FF" stroke="#000" stroke-width="0.7" stroke-linejoin="round"/>
<polygon points="368.8,277.0 377.5,275.2 381.0,282.2 375.8,287.5 368.8,285.8" fill="#1E90FF" stroke="#000" stroke-width="0.7" stroke-linejoin="round"/>
<polygon points="388.0,295.4 402.0,298.0 412.5,298.0 424.8,294.5 435.2,294.5 437.0,305.0 388.0,305.0" fill="#1E90FF" stroke="#000" stroke-width="0.7" stroke-linejoin="round"/>
<polygon points="467.6,270.9 473.8,271.8 474.6,275.2 469.4,275.2" fill="#FFFFFF" stroke="#000" stroke-width="0.7" stroke-linejoin="round"/>
<polygon points="390.0,191.2 396.2,188.8 403.8,190.0 406.2,196.2 403.8,203.8 396.2,206.2 395.0,210.0 388.8,208.8 386.2,203.8 390.0,200.0" fill="#0000FF" stroke="#000" stroke-width="0.7" stroke-linejoin="round"/>
<polygon points="395.0,181.2 398.0,181.2 398.0,186.8 395.0,186.8" fill="#0000FF" stroke="#000" stroke-width="0.7" stroke-linejoin="round"/>
<polygon points="397.5,219.5 420.0,218.8 422.5,235.0 397.5,236.2" fill="#1E90FF" stroke="#000" stroke-width="0.7" stroke-linejoin="round"/>
<polygon points="406.2,226.2 412.5,226.2 412.5,232.5 406.2,232.5" fill="#00BFFF" stroke="#000" stroke-width="0.7" stroke-linejoin="round"/>
<polygon points="489.9,240.2 503.0,240.2 503.0,254.2 490.8,255.1" fill="#00BFFF" stroke="#000" stroke-width="0.7" stroke-linejoin="round"/>
<polygon points="354.1,333.5 390.0,331.8 390.9,344.0 388.2,352.8 372.5,353.6 355.0,351.9" fill="#AFEEEE" stroke="#000" stroke-width="0.7" stroke-linejoin="round"/>
<polygon points="337.5,351.0 349.8,351.0 349.8,359.8 338.4,359.8" fill="#AFEEEE" stroke="#000" stroke-width="0.7" stroke-linejoin="round"/>
<polygon points="325.2,365.0 331.4,365.0 332.2,371.1 337.5,371.1 337.5,375.5 325.2,375.9" fill="#AFEEEE" stroke="#000" stroke-width="0.7" stroke-linejoin="round"/>
<polygon points="383.0,366.8 389.1,367.6 390.0,379.9 384.8,380.8" fill="#0000FF" stroke="#000" stroke-width="0.7" stroke-linejoin="round"/>
<polygon points="376.0,382.5 397.0,380.8 398.8,389.5 397.0,400.0 388.2,400.0 379.5,394.8" fill="#00BFFF" stroke="#000" stroke-width="0.7" stroke-linejoin="round"/>
<polygon points="397.0,365.0 425.0,365.0 423.2,387.8 425.0,400.0 418.0,400.0 402.2,400.0 398.8,389.5" fill="#AFEEEE" stroke="#000" stroke-width="0.7" stroke-linejoin="round"/>
<polygon points="404.0,365.0 414.5,365.0 414.5,373.8 404.0,373.8" fill="#00BFFF" stroke="#000" stroke-width="0.7" stroke-linejoin="round"/>
<polygon points="419.8,365.0 428.5,365.0 429.4,375.5 425.0,387.8 420.6,387.8" fill="#00BFFF" stroke="#000" stroke-width="0.7" stroke-linejoin="round"/>
<polygon points="428.5,342.2 446.0,340.5 446.0,391.2 435.5,391.2 428.5,387.8 429.4,375.5" fill="#AFEEEE" stroke="#000" stroke-width="0.7" stroke-linejoin="round"/>
<polygon points="391.8,347.5 411.0,349.2 418.0,345.8 425.0,344.0 428.5,352.8 426.8,363.2 398.8,364.1 395.2,356.2" fill="#1E90FF" stroke="#000" stroke-width="0.7" stroke-linejoin="round"/>
<polygon points="393.5,335.2 414.5,333.5 425.0,337.0 425.0,344.0 418.0,345.8 411.0,349.2 402.2,347.5 393.5,346.6" fill="#00BFFF" stroke="#000" stroke-width="0.7" stroke-linejoin="round"/>
<polygon points="414.5,344.0 423.2,344.0 423.2,352.8 414.5,352.8" fill="#FFFFFF" stroke="#000" stroke-width="0.7" stroke-linejoin="round"/>
<polygon points="446.0,363.2 460.0,363.2 460.0,391.2 446.0,391.2 443.4,386.0 446.0,380.8" fill="#0000FF" stroke="#000" stroke-width="0.7" stroke-linejoin="round"/>
<polygon points="447.8,384.2 456.5,384.2 456.5,390.4 448.6,390.4" fill="#AFEEEE" stroke="#000" stroke-width="0.7" stroke-linejoin="round"/>
<polygon points="398.8,396.5 418.0,395.6 421.5,400.0 418.0,412.2 411.0,410.5 402.2,407.0 399.6,401.8" fill="#AFEEEE" stroke="#000" stroke-width="0.7" stroke-linejoin="round"/>
<polygon points="423.2,391.2 442.5,391.2 446.0,396.5 449.5,403.5 446.0,408.8 435.5,407.0 425.0,403.5" fill="#00BFFF" stroke="#000" stroke-width="0.7" stroke-linejoin="round"/>
<polygon points="430.2,407.9 442.5,407.0 447.8,412.2 442.5,417.5 433.8,416.6" fill="#0000FF" stroke="#000" stroke-width="0.7" stroke-linejoin="round"/>
<polygon points="355.0,384.2 362.9,382.5 365.5,387.8 360.2,391.2" fill="#AFEEEE" stroke="#000" stroke-width="0.7" stroke-linejoin="round"/>
<polygon points="362.9,391.2 369.0,389.5 371.6,398.2 364.6,400.0" fill="#AFEEEE" stroke="#000" stroke-width="0.7" stroke-linejoin="round"/>
<polygon points="343.6,389.5 355.0,386.0 360.2,391.2 357.6,396.5 362.0,400.0 360.2,408.8 349.8,410.5 346.2,403.5 348.9,396.5" fill="#00BFFF" stroke="#000" stroke-width="0.7" stroke-linejoin="round"/>
<polygon points="331.4,409.6 346.2,407.9 351.5,414.0 346.2,422.8 339.2,428.0 332.2,424.5" fill="#AFEEEE" stroke="#000" stroke-width="0.7" stroke-linejoin="round"/>
<polygon points="342.8,428.0 351.5,414.0 365.5,408.8 372.5,415.8 379.5,422.8 372.5,429.8 363.8,435.0 341.0,435.0" fill="#0000FF" stroke="#000" stroke-width="0.7" stroke-linejoin="round"/>
<polygon points="353.2,422.8 362.0,421.0 363.8,425.4 355.0,428.0" fill="#1E90FF" stroke="#000" stroke-width="0.7" stroke-linejoin="round"/>
<polyline points="173.8,127.0 173.8,158.8 170.0,166.2 167.5,175.0 163.8,185.0 160.0,190.0 161.2,198.8 158.0,205.0 157.5,218.8" fill="none" stroke="#000" stroke-width="0.8" stroke-linejoin="round"/>
<polyline points="222.5,192.5 221.2,230.0" fill="none" stroke="#000" stroke-width="0.8" stroke-linejoin="round"/>
<polyline points="97.5,165.5 110.0,167.0 118.8,169.5 125.0,161.2 137.5,163.8 147.5,160.0 161.2,160.0 173.8,158.8" fill="none" stroke="#000" stroke-width="0.8" stroke-linejoin="round"/>
<polyline points="120.0,256.2 153.8,303.8 163.8,320.0 166.2,330.0 161.2,335.0 160.0,345.0 157.5,352.5" fill="none" stroke="#000" stroke-width="0.8" stroke-linejoin="round"/>
<polyline points="180.0,250.0 177.5,275.0 176.2,293.8 176.2,303.8 173.8,303.8" fill="none" stroke="#000" stroke-width="0.8" stroke-linejoin="round"/>
<polyline points="176.2,293.8 190.0,296.2 210.0,297.5 231.2,300.0 260.0,303.8" fill="none" stroke="#000" stroke-width="0.8" stroke-linejoin="round"/>
<polyline points="232.5,250.0 231.2,300.0 223.8,355.0 220.0,380.0" fill="none" stroke="#000" stroke-width="0.8" stroke-linejoin="round"/>
<polyline points="293.8,183.8 333.8,185.0 363.8,186.2" fill="none" stroke="#000" stroke-width="0.8" stroke-linejoin="round"/>
<polyline points="361.2,145.0 363.0,160.0 365.0,175.0 363.8,186.2 366.2,191.2 367.5,195.0 367.5,215.0 356.2,215.0" fill="none" stroke="#000" stroke-width="0.8" stroke-linejoin="round"/>
<polyline points="292.5,223.8 351.2,226.2 360.0,226.2 363.8,236.2" fill="none" stroke="#000" stroke-width="0.8" stroke-linejoin="round"/>
<polyline points="292.5,196.2 291.2,217.5 290.0,223.8 288.8,250.0" fill="none" stroke="#000" stroke-width="0.8" stroke-linejoin="round"/>
<polyline points="367.5,220.0 397.5,219.5" fill="none" stroke="#000" stroke-width="0.8" stroke-linejoin="round"/>
<polyline points="308.8,266.2 377.5,267.5" fill="none" stroke="#000" stroke-width="0.8" stroke-linejoin="round"/>
<polyline points="307.5,250.0 308.8,266.2 306.2,307.5" fill="none" stroke="#000" stroke-width="0.8" stroke-linejoin="round"/>
<polyline points="295.0,307.5 387.5,308.8" fill="none" stroke="#000" stroke-width="0.8" stroke-linejoin="round"/>
<polyline points="292.5,307.5 290.0,375.0 268.8,375.0" fill="none" stroke="#000" stroke-width="0.8" stroke-linejoin="round"/>
<polygon points="132.1,214.9 186.4,225.4 184.6,235.0 182.0,257.8 178.5,275.2 175.0,298.0 174.1,305.0 152.2,305.0 150.5,298.0 122.5,252.5 129.5,233.2" fill="#1E90FF" stroke="#000" stroke-width="0.7" stroke-linejoin="round"/>
<polygon points="88.4,205.2 126.0,213.1 124.2,224.5 120.8,243.8 119.0,250.8 112.0,257.8 105.0,257.8 99.8,252.5 92.8,256.0 90.1,250.8 91.0,235.0 84.9,228.0 86.6,215.8" fill="#0000FF" stroke="#000" stroke-width="0.7" stroke-linejoin="round"/>
<polygon points="92.8,226.2 99.8,218.4 110.2,219.2 109.4,226.2 107.6,228.9 94.5,228.9" fill="#AFEEEE" stroke="#000" stroke-width="0.7" stroke-linejoin="round"/>
<polygon points="98.9,237.6 105.0,235.0 107.6,242.9 102.4,245.5 102.4,252.5 98.9,251.6" fill="#AFEEEE" stroke="#000" stroke-width="0.7" stroke-linejoin="round"/>
<polygon points="80.5,212.2 88.4,205.2 86.6,215.8 84.9,228.0 91.0,235.0 90.1,250.8 84.9,252.5 81.4,243.8 79.6,233.2 77.0,224.5 78.8,217.5" fill="#00BFFF" stroke="#000" stroke-width="0.7" stroke-linejoin="round"/>
<polygon points="126.0,213.1 132.1,214.9 129.5,233.2 122.5,252.5 119.0,250.8 120.8,243.8 124.2,224.5" fill="#1E90FF" stroke="#000" stroke-width="0.7" stroke-linejoin="round"/>
<polygon points="84.9,252.5 92.8,256.0 99.8,252.5 105.0,257.8 106.8,266.5 103.2,273.5 98.0,277.0 101.5,285.8 96.2,282.2 91.0,277.0 87.5,270.0 85.8,261.2" fill="#1E90FF" stroke="#000" stroke-width="0.7" stroke-linejoin="round"/>
<polygon points="89.2,256.0 96.2,257.8 98.0,261.2 92.8,260.4" fill="#0000FF" stroke="#000" stroke-width="0.7" stroke-linejoin="round"/>
<polygon points="87.5,266.5 92.8,270.0 96.2,277.0 100.6,284.0 98.0,285.8 91.0,277.0" fill="#0000FF" stroke="#000" stroke-width="0.7" stroke-linejoin="round"/>
<polygon points="86.6,259.5 89.2,260.4 89.6,265.1 87.5,264.4" fill="#000000" stroke="#000" stroke-width="0.7" stroke-linejoin="round"/>
<polygon points="105.0,258.6 119.9,255.1 129.5,273.5 122.5,277.0 119.0,271.8 113.8,275.2 107.6,277.0 105.9,270.0" fill="#00BFFF" stroke="#000" stroke-width="0.7" stroke-linejoin="round"/>
<polygon points="119.9,255.1 122.5,252.5 150.5,298.0 152.2,305.0 129.5,305.0 128.6,291.0 126.0,282.2 122.5,277.0 129.5,273.5" fill="#00BFFF" stroke="#000" stroke-width="0.7" stroke-linejoin="round"/>
<polygon points="105.9,278.8 110.2,280.5 120.8,271.8 123.4,275.2 113.8,282.2 107.6,282.2" fill="#0000FF" stroke="#000" stroke-width="0.7" stroke-linejoin="round"/>
<polygon points="105.0,250.8 115.5,248.1 119.9,251.6 117.2,256.0 110.2,257.8 105.9,256.9" fill="#0000FF" stroke="#000" stroke-width="0.7" stroke-linejoin="round"/>
<polygon points="101.5,284.0 107.6,282.2 113.8,282.2 123.4,275.2 126.0,282.2 126.9,287.5 115.5,287.5 110.2,292.8 105.0,292.8 102.4,289.2" fill="#AFEEEE" stroke="#000" stroke-width="0.7" stroke-linejoin="round"/>
<polygon points="115.5,287.5 126.9,287.5 129.5,301.5 113.8,298.0 112.9,292.8" fill="#00BFFF" stroke="#000" stroke-width="0.7" stroke-linejoin="round"/>
<polygon points="130.4,200.0 159.2,200.0 157.5,217.5 133.9,214.0" fill="#AFEEEE"/>
<polygon points="159.2,200.0 168.0,200.0 175.0,203.5 178.5,210.5 176.8,221.9 157.5,217.5" fill="#0000FF"/>
<polygon points="175.0,203.5 178.5,200.0 210.0,200.0 210.0,226.2 186.4,225.4 187.2,221.0 189.0,214.9 183.8,213.1 177.6,215.8 178.5,210.5" fill="#00BFFF"/>
<polygon points="177.6,215.8 183.8,213.1 189.0,214.9 187.2,221.0 182.0,224.5 177.6,221.9" fill="#AFEEEE" stroke="#000" stroke-width="0.7" stroke-linejoin="round"/>
<polygon points="192.5,201.8 199.5,200.0 210.0,200.0 210.0,208.8 203.0,207.0 196.0,207.9" fill="#0000FF"/>
<polygon points="186.4,225.4 210.0,229.8 210.0,243.8 199.5,239.4 185.5,235.9" fill="#AFEEEE" stroke="#000" stroke-width="0.7" stroke-linejoin="round"/>
<polygon points="184.6,239.4 199.5,239.4 210.0,243.8 210.0,263.0 204.8,264.8 199.5,257.8 182.0,256.0" fill="#0000FF" stroke="#000" stroke-width="0.7" stroke-linejoin="round"/>
<polygon points="182.0,257.8 199.5,257.8 204.8,264.8 210.0,263.0 210.0,305.0 190.8,305.0 192.5,295.4 177.6,284.0 178.5,275.2" fill="#00BFFF" stroke="#000" stroke-width="0.7" stroke-linejoin="round"/>
<polygon points="177.6,284.0 192.5,287.5 192.5,295.4 190.8,305.0 174.1,305.0 175.0,298.0" fill="#1E90FF" stroke="#000" stroke-width="0.7" stroke-linejoin="round"/>
<polygon points="190.8,298.0 210.0,295.4 210.0,305.0 190.8,305.0" fill="#AFEEEE" stroke="#000" stroke-width="0.7" stroke-linejoin="round"/>
<polyline points="88.4,205.2 126.0,213.1 133.9,214.0 157.5,217.5 186.4,225.4 210.0,229.8" fill="none" stroke="#000" stroke-width="0.8" stroke-linejoin="round"/>
<polyline points="154.0,292.8 175.0,295.4 173.2,305.0" fill="none" stroke="#000" stroke-width="0.8" stroke-linejoin="round"/>
<polyline points="154.0,292.8 153.1,305.0" fill="none" stroke="#000" stroke-width="0.8" stroke-linejoin="round"/>
<polyline points="96.2,298.0 113.8,305.0" fill="none" stroke="#000" stroke-width="0.8" stroke-linejoin="round"/>
<polyline points="105.0,292.8 106.8,305.0" fill="none" stroke="#000" stroke-width="0.8" stroke-linejoin="round"/>
<polyline points="91.0,235.0 120.8,243.8" fill="none" stroke="#000" stroke-width="0.8" stroke-linejoin="round"/>
<polyline points="99.8,252.5 98.9,237.6" fill="none" stroke="#000" stroke-width="0.8" stroke-linejoin="round"/>
<polygon points="209.2,242.5 235.5,247.8 233.8,268.8 232.9,280.1 231.1,295.0 211.0,295.0 221.5,282.8 222.4,279.2 208.4,275.8 210.1,260.0" fill="#00BFFF" stroke="#000" stroke-width="0.7" stroke-linejoin="round"/>
<polygon points="232.9,281.0 237.2,281.0 240.8,275.8 250.4,272.2 256.5,275.8 263.5,272.2 265.2,277.5 274.0,275.8 275.8,284.5 277.5,295.0 231.1,295.0" fill="#00BFFF" stroke="#000" stroke-width="0.7" stroke-linejoin="round"/>
<polygon points="235.5,247.8 267.0,250.4 269.6,260.0 270.5,265.2 263.5,272.2 256.5,275.8 250.4,272.2 233.8,268.8" fill="#1E90FF" stroke="#000" stroke-width="0.7" stroke-linejoin="round"/>
<polygon points="267.0,250.4 277.5,250.4 277.5,259.1 269.6,260.0" fill="#00BFFF" stroke="#000" stroke-width="0.7" stroke-linejoin="round"/>
<polygon points="277.5,251.2 293.2,252.1 309.0,253.0 309.0,267.0 307.2,295.0 288.0,295.0 289.8,281.0 274.0,275.8 265.2,277.5 263.5,272.2 270.5,265.2 269.6,260.0 277.5,259.1" fill="#0000FF" stroke="#000" stroke-width="0.7" stroke-linejoin="round"/>
<polygon points="273.1,276.6 286.2,277.5 285.4,285.4 275.8,284.5" fill="#1E90FF" stroke="#000" stroke-width="0.7" stroke-linejoin="round"/>
<polygon points="275.8,284.5 285.4,285.4 284.5,295.0 277.5,295.0" fill="#00BFFF" stroke="#000" stroke-width="0.7" stroke-linejoin="round"/>
<polygon points="233.8,269.6 250.4,272.2 240.8,275.8 237.2,281.0 232.9,280.1" fill="#FFFFFF" stroke="#000" stroke-width="0.7" stroke-linejoin="round"/>
<polygon points="253.0,284.5 263.5,285.4 265.2,295.0 251.2,295.0" fill="#0000FF" stroke="#000" stroke-width="0.7" stroke-linejoin="round"/>
<polygon points="222.4,190.0 254.8,192.6 260.0,198.8 260.0,212.8 255.6,214.5 253.0,239.0 247.8,239.9 246.9,246.0 216.2,241.6 216.2,230.2 220.6,207.5" fill="#0000FF" stroke="#000" stroke-width="0.7" stroke-linejoin="round"/>
<polygon points="254.8,192.6 292.4,196.1 290.6,223.2 288.0,242.5 275.8,242.5 248.6,243.4 247.8,239.9 253.0,239.0 255.6,214.5 260.0,212.8 260.0,198.8" fill="#1E90FF" stroke="#000" stroke-width="0.7" stroke-linejoin="round"/>
<polygon points="255.6,214.5 269.6,215.4 268.8,228.5 254.8,227.6" fill="#AFEEEE" stroke="#000" stroke-width="0.7" stroke-linejoin="round"/>
<polygon points="275.8,242.5 281.0,241.6 288.0,243.4 288.0,250.4 276.6,249.5" fill="#00BFFF" stroke="#000" stroke-width="0.7" stroke-linejoin="round"/>
<polygon points="290.6,224.1 309.9,225.0 310.8,251.2 288.9,250.4" fill="#AFEEEE"/>
<polygon points="310.8,225.9 330.0,225.0 330.0,267.0 309.0,266.1 309.9,251.2" fill="#0000FF"/>
<polygon points="309.0,267.0 330.0,267.0 330.0,295.0 307.2,295.0" fill="#AFEEEE"/>
<polygon points="190.0,193.5 203.1,190.0 222.4,190.0 220.6,207.5 216.2,230.2 216.2,241.6 209.2,242.5 190.0,239.0" fill="#00BFFF" stroke="#000" stroke-width="0.7" stroke-linejoin="round"/>
<polygon points="203.1,190.0 222.4,190.0 221.5,193.5 204.0,192.6" fill="#1E90FF" stroke="#000" stroke-width="0.7" stroke-linejoin="round"/>
<polygon points="194.4,198.8 197.9,196.1 202.2,197.9 209.2,200.5 214.5,207.5 218.9,209.2 218.0,214.5 211.0,211.0 205.8,205.8 198.8,208.4 193.5,205.8" fill="#0000FF" stroke="#000" stroke-width="0.7" stroke-linejoin="round"/>
<polygon points="206.6,223.2 211.9,222.4 212.8,235.5 207.5,234.6" fill="#0000FF" stroke="#000" stroke-width="0.7" stroke-linejoin="round"/>
<polygon points="190.0,226.8 206.6,227.6 207.5,234.6 212.8,235.5 216.2,241.6 209.2,242.5 204.9,243.4 190.0,239.0" fill="#AFEEEE" stroke="#000" stroke-width="0.7" stroke-linejoin="round"/>
<polygon points="190.0,240.8 204.9,243.4 209.2,242.5 210.1,250.4 203.1,250.4 202.2,256.5 211.0,257.4 215.4,259.1 207.5,261.8 200.5,264.4 190.0,260.0" fill="#0000FF" stroke="#000" stroke-width="0.7" stroke-linejoin="round"/>
<polygon points="190.0,260.0 200.5,264.4 207.5,261.8 210.1,260.0 208.4,275.8 222.4,279.2 221.5,282.8 211.0,295.0 190.0,295.0" fill="#00BFFF" stroke="#000" stroke-width="0.7" stroke-linejoin="round"/>
<polyline points="288.0,250.4 288.9,243.4" fill="none" stroke="#000" stroke-width="0.8" stroke-linejoin="round"/>
<polyline points="293.2,252.1 289.8,281.0" fill="none" stroke="#000" stroke-width="0.8" stroke-linejoin="round"/>
<polyline points="270.5,265.2 289.8,266.1" fill="none" stroke="#000" stroke-width="0.8" stroke-linejoin="round"/>
<polygon points="229.4,300.8 284.5,306.9 295.0,307.8 295.0,314.8 290.6,376.9 268.8,376.0 252.1,359.4 241.6,362.0 242.5,375.1 230.2,375.1 221.5,363.8" fill="#1E90FF" stroke="#000" stroke-width="0.7" stroke-linejoin="round"/>
<polygon points="251.2,285.0 305.5,285.0 306.4,307.8 284.5,306.9 258.2,303.4 251.2,295.5" fill="#0000FF" stroke="#000" stroke-width="0.7" stroke-linejoin="round"/>
<polygon points="274.9,286.8 285.4,285.9 285.4,295.5 275.8,292.0" fill="#00BFFF" stroke="#000" stroke-width="0.7" stroke-linejoin="round"/>
<polygon points="244.2,304.2 284.5,306.9 282.8,316.5 279.2,320.0 287.1,328.8 286.2,331.4 267.9,331.4 267.0,342.8 254.8,341.9 247.8,336.6 246.9,316.5 243.4,314.8" fill="#00BFFF" stroke="#000" stroke-width="0.7" stroke-linejoin="round"/>
<polygon points="257.4,319.1 264.4,319.1 264.4,331.4 258.2,331.4" fill="#0000FF" stroke="#000" stroke-width="0.7" stroke-linejoin="round"/>
<polygon points="229.4,301.6 245.1,303.4 243.4,314.8 228.5,313.9" fill="#0000FF" stroke="#000" stroke-width="0.7" stroke-linejoin="round"/>
<polygon points="227.6,315.6 246.0,316.5 246.9,335.8 240.8,337.5 239.0,351.5 235.5,354.1 224.1,354.1" fill="#00BFFF" stroke="#000" stroke-width="0.7" stroke-linejoin="round"/>
<polygon points="241.6,362.0 252.1,359.4 253.0,374.2 249.5,375.1 242.5,375.1" fill="#AFEEEE" stroke="#000" stroke-width="0.7" stroke-linejoin="round"/>
<polygon points="249.5,375.1 267.9,376.0 267.9,390.0 260.0,390.0" fill="#AFEEEE" stroke="#000" stroke-width="0.7" stroke-linejoin="round"/>
<polygon points="295.0,307.8 330.0,309.5 330.0,315.6 295.0,314.8" fill="#AFEEEE"/>
<polygon points="211.0,285.0 232.0,285.0 231.1,299.9 211.0,299.0 212.8,292.0" fill="#00BFFF" stroke="#000" stroke-width="0.7" stroke-linejoin="round"/>
<polyline points="168.0,200.0 175.0,203.5 178.5,210.5 176.8,221.9" fill="none" stroke="#000" stroke-width="0.8" stroke-linejoin="round"/>
<polyline points="192.5,201.8 196.0,207.9 203.0,207.0 210.0,208.8" fill="none" stroke="#000" stroke-width="0.8" stroke-linejoin="round"/>
<polygon points="568.8,301.2 577.5,297.5 583.8,298.8 587.5,303.8 595.0,306.2 593.8,310.0 587.5,308.8 582.5,305.0 577.5,302.5 571.2,306.2 568.8,305.0" fill="#AFEEEE" stroke="#000" stroke-width="0.7" stroke-linejoin="round"/>
<polygon points="571.2,306.2 576.2,304.4 577.5,307.5 572.5,310.0" fill="#AFEEEE" stroke="#000" stroke-width="0.7" stroke-linejoin="round"/>
<polygon points="556.2,302.5 560.6,301.2 561.9,306.2 566.9,303.1 570.0,306.2 570.6,314.4 566.9,315.6 563.8,311.9 558.8,313.8 556.2,310.0" fill="#0000FF" stroke="#000" stroke-width="0.7" stroke-linejoin="round"/>
<polygon points="549.4,301.9 555.6,301.9 556.2,315.0 551.2,315.6 549.4,308.8" fill="#1E90FF" stroke="#000" stroke-width="0.7" stroke-linejoin="round"/>
<polygon points="578.8,319.4 583.8,320.0 583.1,324.4 580.0,326.2 578.1,322.5" fill="#AFEEEE" stroke="#000" stroke-width="0.7" stroke-linejoin="round"/>
<polygon points="571.2,330.0 576.2,331.2 577.5,335.0 573.8,333.8" fill="#AFEEEE" stroke="#000" stroke-width="0.7" stroke-linejoin="round"/>
<polygon points="548.1,328.8 553.8,326.2 558.8,327.5 562.5,332.5 568.8,333.8 570.0,337.5 566.9,340.0 563.8,337.5 560.0,333.8 555.0,330.0 551.2,331.2 548.8,333.8" fill="#AFEEEE" stroke="#000" stroke-width="0.7" stroke-linejoin="round"/>
<polygon points="551.9,331.9 556.2,330.6 560.0,333.8 560.6,338.1 556.2,338.8 553.1,336.2" fill="#0000FF" stroke="#000" stroke-width="0.7" stroke-linejoin="round"/>
<polygon points="548.8,337.5 552.5,336.9 554.4,340.0 560.0,339.4 565.0,340.0 566.2,343.8 563.8,346.2 558.8,343.8 553.8,342.5 550.0,342.5 547.5,340.0" fill="#AFEEEE" stroke="#000" stroke-width="0.7" stroke-linejoin="round"/>
<polygon points="552.5,345.0 562.5,345.6 563.8,347.5 558.8,353.8 555.0,356.2 552.5,352.5" fill="#1E90FF" stroke="#000" stroke-width="0.7" stroke-linejoin="round"/>
<polygon points="540.0,345.0 547.5,343.8 552.5,345.0 552.5,352.5 547.5,351.2 543.8,355.0 540.0,355.0" fill="#AFEEEE" stroke="#000" stroke-width="0.7" stroke-linejoin="round"/>
<polygon points="544.4,357.5 551.2,356.9 552.5,361.2 548.8,365.0 545.0,365.0" fill="#0000FF" stroke="#000" stroke-width="0.7" stroke-linejoin="round"/>
<polygon points="540.0,311.2 547.5,311.9 548.1,331.2 540.0,331.2" fill="#1E90FF" stroke="#000" stroke-width="0.7" stroke-linejoin="round"/>
<polygon points="489.2,237.5 503.5,239.0 502.8,260.0 496.0,258.5 490.0,254.0" fill="#00BFFF" stroke="#000" stroke-width="0.7" stroke-linejoin="round"/>
<polygon points="503.5,249.5 518.5,248.0 521.5,263.0 511.0,267.5 503.5,261.5" fill="#1E90FF" stroke="#000" stroke-width="0.7" stroke-linejoin="round"/>
<polygon points="487.0,258.5 502.0,260.0 503.5,272.0 493.0,272.0 487.0,270.5" fill="#00BFFF" stroke="#000" stroke-width="0.7" stroke-linejoin="round"/>
<polygon points="476.5,278.0 493.0,281.0 508.0,279.5 508.0,293.0 490.0,294.5 478.0,290.0" fill="#1E90FF" stroke="#000" stroke-width="0.7" stroke-linejoin="round"/>
<polygon points="503.5,282.5 514.0,279.5 520.0,290.0 514.0,299.0 505.0,296.0" fill="#AFEEEE" stroke="#000" stroke-width="0.7" stroke-linejoin="round"/>
<polygon points="494.5,247.2 499.0,247.2 499.0,251.0 494.5,251.0" fill="#1E90FF" stroke="#000" stroke-width="0.7" stroke-linejoin="round"/>
<polygon points="479.5,243.5 488.5,243.5 488.5,249.5 479.5,249.5" fill="#00BFFF" stroke="#000" stroke-width="0.7" stroke-linejoin="round"/>
<path d="M473.3,378.8L479,383.8L479.6,383.8L483.9,381.3L484.8,378.5L478.9,373.3ZM377.8,347.2L378.6,345.1L374.1,338.8L374,338.8L369,343.4L371.2,350.2ZM562.7,331.5L569.5,326.6L573.2,332L568.6,336.6L564.6,336.4ZM405.1,408.5L405.4,407.1L401.9,400.5L396.3,401.9L395.9,405.6L399.7,409.5L405,408.6ZM438.1,386.2L438.2,378.8L431.2,376.5L429.1,380L431.3,387.8ZM480.2,342.4L474.9,345.9L470.5,340.8L476,334L476.2,334L479.3,336.5ZM541.5,370.4L547.8,371.4L549.7,365.4L548.9,363.5L544.2,362.6L540.7,368ZM424.4,316L431.4,317.1L431.8,322.8L427.5,324.5L423.7,322.4L422.7,319.5ZM443.1,369.8L438.6,378.6L438.2,378.8L431.2,376.5L430.9,375.6L436.3,366.6L440.8,366.9L443.1,369.5ZM486.6,345.9L486.8,345.4L493.7,344.6L495.9,349.6L492.5,355L489.2,353.8ZM513.3,388.7L518.2,382.7L517.8,378.9L514.2,377.2L507.3,381L507.1,382.3L512.4,388.7ZM400.9,375.4L404.3,371.1L400.6,365.6L392.7,367.7L391.9,370.1L394.8,375.1ZM328.6,425.6L337.2,427.7L338.2,420.6L333.8,417.2L333.4,417.2L328.3,421.5ZM338.2,459.1L338,459.3L340.2,466.4L346.5,467.4L348,466.6L346.9,457.2L345.6,456.6ZM417.5,398.1L413.8,403.1L416,406.9L421.2,406.6L425.2,402.4L425.2,402.4ZM533.8,328.2L533.2,335.8L531.9,337.2L524.1,333.5L528.8,326.8ZM398.2,294.7L400.9,294.6L403.2,291.3L401.7,284.5L399.3,283.2L395.5,284L393.4,288.5ZM453.6,355.5L449.3,350.4L442.2,357.1L443.2,360L450.5,361.1ZM438,347.8L436.7,351.4L428.6,352.2L426.5,349.7L426.4,348.5L432,342.7ZM499.2,398.8L496.6,392.7L491.4,394.1L488.4,401L491.7,403.6L496.5,403ZM409.2,290.7L411.1,285.4L414.1,284.2L418.8,286.6L418.9,287.7L415.8,292.9L411.7,293.3ZM548.9,363.5L552.6,358.2L546.6,354.3L541.7,357.4L541.6,359L544.2,362.6ZM341.5,354.6L336.6,353.6L334,358L337.8,363.6L342.1,361.9ZM414.6,276.9L414.3,277.1L407.5,276.1L405.9,274L405.7,270.8L414.6,267.3L415.5,268.6ZM355.5,474L360,468.3L356.8,463.2L348.2,466.6L355.1,474.1ZM456.3,318.3L462.3,318.4L464.1,325.2L463.2,327.3L454.8,325.3ZM454.8,325.3L463.2,327.3L463.6,328.6L457.3,336.3L453.8,335.5L453.9,325.9ZM439.3,347L449.2,350.1L450.6,346.7L449.3,342.1L441.7,341.4ZM401.7,284.5L406.1,282.2L407.5,276.1L405.9,274L399.6,277.1L399.3,283.2ZM401.6,204.3L395.5,210.9L397.5,215L399.9,215.8L404.2,213.4L402.6,204.9ZM438.2,336.8L438.2,329.4L436,327.4L429.5,332.1L430.2,337L431.9,338.3ZM529.2,291L533.3,288.2L533.2,281.1L532.8,280.8L526.3,280.9L524.5,285.7L527,290.7ZM414.3,414.7L423,413.8L421.2,406.6L416,406.9L413.4,411.6ZM405,408.6L405.3,417.9L398.1,417L397.2,413.8L399.7,409.5ZM493.7,344.6L494.9,343.1L494.9,336.5L487.4,335.4L486.7,345.2L486.8,345.4ZM469.9,362.2L470.7,358.1L474.5,356.1L480.2,360.3L475.9,365.5ZM440.8,366.9L443.2,360L442.2,357.1L438.6,355.4L431.4,362L431.5,362.2L436.3,366.6ZM441.9,250.4L443.6,256.8L436,257.7L435.4,250.3L435.7,250ZM539.4,272.6L533.3,273.5L532.8,280.8L533.2,281.1L538.4,281.1L541.4,276.8ZM480.5,395.7L483.1,391.9L479.6,383.8L479,383.8L472.6,390.8L479.2,395.6ZM340.3,443.7L333.3,444.1L330.8,441.9L331.8,436.8L338.5,433.7L342,436.9ZM438,347.8L432,342.7L431.9,338.3L438.2,336.8L439.6,337.4L441.7,341.4L439.3,347ZM416.8,395.3L409.7,395.1L410,387.5L412.5,385L413.6,385.4L418.9,391.6ZM521.6,395.1L516.5,394.1L513.3,388.7L518.2,382.7L523.6,385.8L522.8,394.5ZM365.3,392.9L364.3,396.6L357.2,398.5L357,398.5L356.8,390.1L364,390.5ZM500.8,291.9L508.7,293.3L508.7,296.8L503.1,300.7L499.1,299L499.8,292.6ZM393.3,340.9L392.3,335.3L388.2,332.6L387.9,332.6L383.1,337.9L383.6,342.5L386.8,344.1ZM440.7,388.7L447,384.5L445.7,380.4L438.6,378.6L438.2,378.8L438.1,386.2ZM425.1,338.4L418.8,334.4L418.6,332.4L419.4,330.8L427.7,330.5L429.5,332.1L430.2,337ZM423.6,260.7L427.2,267.4L428.5,267.8L435.4,265.7L435.5,265.6L435,258.9L428.4,257.1ZM457.7,252.9L463.1,257.3L463,258.5L457.3,263.6L454.5,261.9L453.2,255.6ZM472.2,402.3L479.2,395.6L472.6,390.8L471.7,390.8L468.6,398.6ZM405.3,318.3L399.3,325.5L396.4,324L395.6,316.7L400.7,314.5ZM568.6,336.6L571.8,341.4L574.9,341.8L578.6,337.3L574.7,332.2L573.2,332ZM397.4,264.6L399.4,268.7L395.2,272.8L389.7,268.8L393.3,263.8ZM475.9,365.5L480.2,360.3L482.3,359.9L486.5,363.8L484.7,368.8L479.1,371.1L476,367.9ZM457.3,263.6L458.1,266.8L455.4,271.9L454.8,272.2L448.3,270.2L449.1,264.2L454.5,261.9ZM562.7,331.5L561.4,330.8L553.9,333.5L553.6,334.4L558.7,341.6L560.6,342.1L564.6,336.4ZM541.5,370.4L539.2,374.5L536,374.6L531.6,369.6L532.4,365.5L533.1,365.1L540.7,368ZM454.8,316.4L455.8,309.6L460.4,308.2L463.1,310.6L463.7,316.7L462.3,318.4L456.3,318.3ZM589.4,300L585.8,304.2L588,309.8L590.2,309.7L594.8,303.8L594.1,301.9ZM468.4,350.1L474.6,349.1L474.9,345.9L470.5,340.8L468.4,340.7L465.3,346.7ZM464.4,355.2L462,361.4L460.3,362.1L454.7,355.6L460,352.4ZM435.7,325L439.4,321.2L446.2,322.8L447,324.6L445,328.6L438.2,329.4L436,327.4ZM328.6,425.6L328.4,426L329,434.1L331.8,436.8L338.5,433.7L338.9,430L337.2,427.7ZM497.2,370.2L502.6,368L508.3,371.3L503.9,376.6L499.6,376.4ZM454.8,316.4L455.8,309.6L452.2,307.6L449,308.1L445.7,313.9L447.7,317.4ZM411.3,323.7L405.9,318.3L405.3,318.3L399.3,325.5L400.6,328.4L409.6,326.9ZM467.4,296.6L476.5,297.7L477.4,297L478,292.3L472.7,288.9L468.7,290.3L466.4,294.9ZM399.9,384.6L402,380.9L410.9,380.8L412.5,385L410,387.5L403.6,388ZM461.5,293.9L466.4,294.9L467.4,296.6L466.3,301.7L461.6,304.2L457.2,298.2ZM380.1,208.6L380.8,204L381.6,203.4L389.8,204.4L390.8,209.2L387.8,212.5L384,212.9ZM445.1,287.3L440.3,283.9L440.8,281.6L446.1,278L451.8,281.7L451.8,282ZM501.8,309.3L495.9,307.7L495,301.3L499.1,299L503.1,300.7L504.5,306ZM459.1,345.6L450.6,346.7L449.3,342.1L451.4,336.6L453.8,335.5L457.3,336.3L459.7,338.9ZM523.6,385.8L518.2,382.7L517.8,378.9L523,374.2L525.2,374.5L529.7,379.8L527.1,384.9ZM370.5,392.6L373.2,397.1L371.4,399.6L366.9,400.1L364.3,396.6L365.3,392.9ZM443.1,369.8L449.4,376.3L445.7,380.4L438.6,378.6ZM542.9,347L541.9,342.6L531.7,342.7L531.5,346.6L537.4,351.7ZM525.2,374.5L531.6,369.6L532.4,365.5L526.2,363.1L520.3,365.1L519.9,365.7L523,374.2ZM561.6,343.9L567.8,345.7L570.2,350.6L566.1,354.3L559.8,351.8ZM453.1,298.1L452.2,307.6L449,308.1L444.8,304.7L444.7,299.2L451.4,296.8ZM500.3,409.4L506.5,406L507.8,400.6L506.3,399.2L499.2,398.8L496.5,403L500.2,409.4ZM410.7,402.4L405.4,407.1L401.9,400.5L403.9,396.4L408.2,396.5ZM428.6,352.2L436.7,351.4L438.6,355.4L431.4,362L428.3,358.3ZM453.3,384L459.7,390.4L459.7,390.4L452.5,395.1L450.1,394.1L449.6,385.6ZM496.7,392.4L494.1,384.7L495.7,381.7L496.5,381.3L503.1,384.8L503,389.6ZM435.7,325L431.8,322.8L427.5,324.5L427.7,330.5L429.5,332.1L436,327.4ZM447,324.6L453.9,325.9L453.8,335.5L451.4,336.6L446.4,333.5L445,328.6ZM385.9,267.1L384.8,262.8L388.7,259L391.6,259.8L393.3,263.8L389.7,268.8L389.2,268.9ZM398.1,385.1L395.7,393.4L402.6,394.8L403.6,388L399.9,384.6ZM466.3,301.7L473.2,307.1L473.6,307L476.5,297.7L467.4,296.6ZM386.8,344.1L383.6,342.5L378.6,345.1L377.8,347.2L383.7,354.1L384.1,354.1L387.7,351.4ZM472.5,404.8L474.7,406.6L482.1,404.5L484,401L480.5,395.7L479.2,395.6L472.2,402.3ZM457.7,252.9L458.3,248.4L452.8,245.2L448.8,248.4L450.3,254.9L453.2,255.6ZM501.8,309.3L503,312.8L508.1,314.9L512.3,308.6L510.2,305.7L504.5,306ZM488.7,385.7L483.9,381.3L479.6,383.8L483.1,391.9L486.4,390.9ZM558.7,341.6L552,344.7L550.8,347.6L556.8,353.6L559.8,351.8L561.6,343.9L560.6,342.1ZM440.2,265.5L435.5,265.6L435,258.9L436,257.7L443.6,256.8L444.9,257.7L445.1,260ZM418.9,391.6L413.6,385.4L421.4,381.6L422.9,382.3L424,389.4L422.9,390.9ZM423.3,260.5L416.1,261.9L415.1,263.1L414.6,267.3L415.5,268.6L422.5,270.9L427.2,267.4L423.6,260.7ZM344.1,352.3L341.1,346.2L334.8,349.4L336.6,353.6L341.5,354.6ZM411.1,379.6L418.5,374.4L416.8,371.2L410.6,369L407,371.3ZM521.6,395.1L521.2,404.6L523.6,405.9L530.6,400.4L528,395.4L522.8,394.5ZM461.6,304.2L460.4,308.2L463.1,310.6L470.6,309.7L473.2,307.1L466.3,301.7ZM556.8,353.6L555.5,357.1L552.6,358.2L546.6,354.3L547,349L550.8,347.6ZM402,380.9L410.9,380.8L411.1,379.6L407,371.3L404.3,371.1L400.9,375.4ZM374,338.8L369.1,334.5L363.6,337.4L363.6,341.2L369,343.4ZM528,395.4L532.2,390.5L537.2,392.8L538.4,396.4L535.1,402.3L530.6,400.4ZM558.7,341.6L553.6,334.4L549,336.8L548.3,339.4L552,344.7ZM449.1,264.2L445.1,260L440.2,265.5L446.3,271.1L448.3,270.2ZM527,290.7L523,294.5L519.1,294.2L516.9,291.9L518.1,286.5L524.5,285.7ZM381.5,315.5L381.5,322.5L387.9,323.1L389.2,316.5L385.7,314ZM583.8,329.7L580.1,327.1L574.7,332.2L578.6,337.3L579.4,337.3L584.2,333ZM349.7,380.9L351.7,389.2L356.5,389.9L358.8,381.9L356.5,379.4L349.9,380.4ZM508.3,371.3L510.5,370.9L512.7,366.9L508.3,360.4L504.1,362.5L502.6,368ZM409.2,290.7L403.2,291.3L400.9,294.6L404.4,299.8L410.5,298.1L411.7,293.3ZM418.6,332.4L411.1,331.6L409.6,326.9L411.3,323.7L413.6,323.3L419.2,328.6L419.4,330.8ZM589.4,300L585.8,304.2L580.6,302.5L580.4,301.7L583.3,295.8L588.4,297.1ZM535.4,402.9L543.7,405.2L545.4,404.3L544.7,396.6L538.4,396.4L535.1,402.3ZM361.4,335.1L363.6,337.4L363.6,341.2L360.7,344L355.8,344.6L353.6,339.3L354.9,336ZM515.3,282L509,286.9L509.7,292.3L516.9,291.9L518.1,286.5ZM512.3,308.6L517.9,309.8L520.3,304.7L516.7,300.3L511.8,300.8L510.2,305.7ZM455.4,271.9L465,275.6L464.7,277.3L459.8,281L454.3,279.5L454.8,272.2ZM539.7,290.8L542,285.1L538.4,281.1L533.2,281.1L533.3,288.2L539.1,291ZM333.8,417.2L340.8,410.2L340.7,409.8L331.2,406.3L329.4,410.1L333.4,417.2ZM541.5,370.4L539.2,374.5L541.8,378.2L545.3,378.5L549.4,374.3L547.8,371.4ZM526.3,353.8L518.2,356.7L520.3,365.1L526.2,363.1L527.1,355.1ZM397.4,264.6L401.4,259.7L405,260.2L405.8,261.3L404.9,269.8L399.4,268.7ZM439.4,321.2L438.3,317.2L441.3,313.4L445.7,313.9L447.7,317.4L446.2,322.8ZM512.3,308.6L508.1,314.9L508.8,316.4L513.7,318.4L519.9,314.3L517.9,309.8ZM547.3,277.4L541.4,276.8L538.4,281.1L542,285.1L547.5,283.8L548.1,278.3ZM505.4,280.3L511.2,277.1L515.4,278.5L515.4,278.6L515.3,282L509,286.9L504.7,283.6ZM357.4,354.9L360.2,355L363.9,350.5L360.7,344L355.8,344.6L354,347.1ZM552,344.7L548.3,339.4L541.9,342.5L541.9,342.6L542.9,347L547,349L550.8,347.6ZM521,343.7L521.4,347.3L526.6,350.9L531.5,346.6L531.7,342.7L531.7,342.6L522.5,341.6ZM532.1,389.8L536.5,383.6L532.4,379.7L529.7,379.8L527.1,384.9ZM352.8,408.8L351.8,406.5L342.9,404.1L340.7,409.8L340.8,410.2L345.2,414.3ZM413.3,254L416.1,261.9L415.1,263.1L405.8,261.3L405,260.2L407.6,255ZM486.5,309L485.8,308.6L484.7,306.1L485.4,301.1L489.4,298.4L495,301.3L495.9,307.7L495,308.5ZM453.1,298.1L457.2,298.2L461.6,304.2L460.4,308.2L455.8,309.6L452.2,307.6ZM408.6,360.5L411.5,363.7L410.6,369L407,371.3L404.3,371.1L400.6,365.6L401.2,363.1ZM460.5,347.1L459.1,345.6L450.6,346.7L449.2,350.1L449.3,350.4L453.6,355.5L454.7,355.6L460,352.4ZM564.6,336.4L560.6,342.1L561.6,343.9L567.8,345.7L571.8,341.4L568.6,336.6ZM523.6,405.9L525.7,410.6L525.9,410.7L533.8,408.7L535.4,402.9L535.1,402.3L530.6,400.4ZM365.7,436.8L365.6,442.6L357.5,443.9L355.8,442.4L355.5,436.3L356.9,435.4ZM446.1,394.7L444.1,402.9L444.8,404.2L453.8,403.6L454.5,402.1L452.5,395.1L450.1,394.1ZM396.4,324L389.7,325L387.9,323.1L389.2,316.5L392.9,314.9L395.6,316.7ZM573.4,298.2L580.4,301.7L583.3,295.8L580.9,291.1L578.9,290.4L577.9,290.7ZM413.4,411.6L405.1,408.5L405.4,407.1L410.7,402.4L413.8,403.1L416,406.9ZM417.5,398.1L425.2,402.4L425.7,401.8L426.8,397.3L422.9,390.9L418.9,391.6L416.8,395.3ZM447,324.6L453.9,325.9L454.8,325.3L456.3,318.3L454.8,316.4L447.7,317.4L446.2,322.8ZM424.4,316L423.7,313.3L419.6,309.9L416.5,311L414.3,314.4L416.2,319.7L422.7,319.5ZM523,374.2L519.9,365.7L512.7,366.9L510.5,370.9L514.2,377.2L517.8,378.9ZM460.3,362.1L459,364.6L452.8,366.6L452.2,366.3L450.5,361.1L453.6,355.5L454.7,355.6ZM532.8,280.8L533.3,273.5L531.9,271.9L525.4,272.6L524.1,278.4L526.3,280.9ZM465.3,346.7L468.4,340.7L466,338.6L459.7,338.9L459.1,345.6L460.5,347.1ZM537.4,324.9L536.8,326.5L533.8,328.2L528.8,326.8L525.5,321.7L533.4,316.5ZM381.2,218.9L387.5,221.7L390.9,219.3L387.8,212.5L384,212.9ZM553.9,333.5L553.6,334.4L549,336.8L543.1,332.2L543.1,331.9L547.6,327.4L551.5,327.5ZM453.2,255.6L450.3,254.9L444.9,257.7L445.1,260L449.1,264.2L454.5,261.9ZM463.8,398.6L461,391.2L459.7,390.4L452.5,395.1L454.5,402.1L462,401.1ZM418.8,286.6L422.5,283.1L422.3,277.9L421.8,277.3L414.6,276.9L414.3,277.1L414.1,284.2ZM396.3,401.9L393.3,398.8L395,393.7L395.7,393.4L402.6,394.8L403.9,396.4L401.9,400.5ZM343.5,447.6L343,449.2L335,452L334,451.5L333.3,444.1L340.3,443.7ZM489.2,353.8L492.5,355L493.6,357.1L488.8,363.7L486.5,363.8L482.3,359.9L483.3,357.2ZM372.1,386.3L366,384.2L364,390.5L365.3,392.9L370.5,392.6L373.1,388.3ZM337.2,427.7L338.9,430L344.9,427.1L344.9,419.6L338.2,420.6ZM536.5,383.6L532.4,379.7L536,374.6L539.2,374.5L541.8,378.2L538.6,383.6ZM421.8,277.3L422.3,277.9L430.8,276.9L428.5,267.8L427.2,267.4L422.5,270.9ZM448.3,270.2L446.3,271.1L445.8,272L446.1,278L451.8,281.7L454.3,279.5L454.8,272.2ZM511.8,300.8L508.7,296.8L508.7,293.3L509.7,292.3L516.9,291.9L519.1,294.2L516.7,300.3ZM414.1,284.2L414.3,277.1L407.5,276.1L406.1,282.2L411.1,285.4ZM507,391.5L503,389.6L496.7,392.4L496.6,392.7L499.2,398.8L506.3,399.2ZM387.8,212.5L390.9,219.3L392,219.4L397.5,215L395.5,210.9L390.8,209.2ZM417.5,398.1L413.8,403.1L410.7,402.4L408.2,396.5L409.7,395.1L416.8,395.3ZM428.4,257.1L435,258.9L436,257.7L435.4,250.3L428.7,250.8ZM529.7,379.8L525.2,374.5L531.6,369.6L536,374.6L532.4,379.7ZM464.4,355.2L460,352.4L460.5,347.1L465.3,346.7L468.4,350.1L466.3,354.7ZM559.6,325L554.5,323.5L551.5,327.5L553.9,333.5L561.4,330.8ZM444.7,299.2L439.8,296.2L439.5,296.2L435.3,301.7L439.7,307.1L444.8,304.7ZM438,347.8L436.7,351.4L438.6,355.4L442.2,357.1L449.3,350.4L449.2,350.1L439.3,347ZM441.7,341.4L449.3,342.1L451.4,336.6L446.4,333.5L439.6,337.4ZM421.4,381.6L413.6,385.4L412.5,385L410.9,380.8L411.1,379.6L418.5,374.4L419.3,374.7ZM547,349L546.6,354.3L541.7,357.4L537.4,352.4L537.4,351.7L542.9,347ZM524.5,285.7L518.1,286.5L515.3,282L515.4,278.6L524.1,278.4L526.3,280.9ZM507.3,381L503.9,376.6L508.3,371.3L510.5,370.9L514.2,377.2ZM501.4,285.2L504.7,283.6L509,286.9L509.7,292.3L508.7,293.3L500.8,291.9ZM423.3,260.5L420,249.5L425.2,247.4L428.7,250.8L428.4,257.1L423.6,260.7ZM430.9,375.6L426.4,372.3L426,367.4L431.5,362.2L436.3,366.6ZM379.9,356.8L383.7,354.1L377.8,347.2L371.2,350.2L371.1,350.4L371.9,355.5ZM413.6,323.3L416.2,319.7L414.3,314.4L408.6,314.9L405.9,318.3L411.3,323.7ZM350.4,434.3L346.7,437L348.9,445.2L355.8,442.4L355.5,436.3ZM466.3,354.7L470.7,358.1L474.5,356.1L475.1,349.9L474.6,349.1L468.4,350.1ZM413.6,323.3L416.2,319.7L422.7,319.5L423.7,322.4L419.2,328.6ZM522.8,394.5L523.6,385.8L527.1,384.9L532.1,389.8L532.2,390.5L528,395.4ZM371.1,350.4L363.9,350.5L360.7,344L363.6,341.2L369,343.4L371.2,350.2ZM409.2,290.7L403.2,291.3L401.7,284.5L406.1,282.2L411.1,285.4ZM435.7,325L431.8,322.8L431.4,317.1L432.9,315.9L438.3,317.2L439.4,321.2ZM345.2,414.3L340.8,410.2L333.8,417.2L338.2,420.6L344.9,419.6L346,418.3ZM348.2,466.6L348,466.6L346.9,457.2L351.1,455.7L357.3,461L356.8,463.2ZM432,342.7L426.4,348.5L422.2,344.5L425.1,338.4L430.2,337L431.9,338.3ZM542.6,387.9L545.1,388.3L548.8,386.1L545.3,378.5L541.8,378.2L538.6,383.6ZM414.3,414.7L414.1,415.2L407.4,420L405.3,417.9L405,408.6L405.1,408.5L413.4,411.6ZM408.2,396.5L403.9,396.4L402.6,394.8L403.6,388L410,387.5L409.7,395.1ZM389.7,325L388.2,332.6L387.9,332.6L379.5,329.2L379.6,323.7L381.5,322.5L387.9,323.1ZM399.4,268.7L404.9,269.8L405.7,270.8L405.9,274L399.6,277.1L395.3,274.3L395.2,272.8ZM521,343.7L514.2,342.7L514.2,336.6L521.5,336.2L522.5,341.6ZM463.8,398.6L461,391.2L470.2,389.7L471.7,390.8L468.6,398.6ZM420.1,364.5L418.9,361.5L411.5,363.7L410.6,369L416.8,371.2ZM397.4,264.6L401.4,259.7L397.1,254.6L391.6,259.8L393.3,263.8ZM405.8,261.3L404.9,269.8L405.7,270.8L414.6,267.3L415.1,263.1ZM504.5,306L510.2,305.7L511.8,300.8L508.7,296.8L503.1,300.7ZM383.6,342.5L378.6,345.1L374.1,338.8L377.5,335.7L383.1,337.9ZM380.5,261.4L379.4,257.7L384.3,253.2L385.9,253.9L388.7,259L384.8,262.8ZM493.6,357.1L497.4,358.6L498.3,360.5L495.2,368.2L488.8,363.7ZM366,384.2L365.3,382.8L358.8,381.9L356.5,389.9L356.8,390.1L364,390.5ZM419.4,330.8L427.7,330.5L427.5,324.5L423.7,322.4L419.2,328.6ZM444.4,247.4L448.8,248.4L450.3,254.9L444.9,257.7L443.6,256.8L441.9,250.4ZM438.2,336.8L438.2,329.4L445,328.6L446.4,333.5L439.6,337.4ZM512.4,388.7L507.1,382.3L503.1,384.8L503,389.6L507,391.5ZM507.1,382.3L507.3,381L503.9,376.6L499.6,376.4L496.5,381.3L503.1,384.8ZM349.7,357L345,362.6L342.1,361.9L341.5,354.6L344.1,352.3L347.1,352.5ZM418.9,287.7L426.1,293.4L426.5,294.9L425.3,295.8L418.4,296.4L415.8,292.9ZM486.6,345.9L489.2,353.8L483.3,357.2L481.1,351.2ZM521,343.7L521.4,347.3L516.6,350.9L511.6,346.5L511.7,345.2L514.2,342.7ZM421.8,277.3L414.6,276.9L415.5,268.6L422.5,270.9ZM446.1,278L445.8,272L437.8,274.4L437.3,275.3L440.8,281.6ZM464.4,355.2L462,361.4L467.7,363.5L469.9,362.2L470.7,358.1L466.3,354.7Z" fill="#AFEEEE" stroke="#AFEEEE" stroke-width="0.6"/>
<path d="M459.2,288.8L461.1,286.4L465.6,286L468.7,290.3L466.4,294.9L461.5,293.9ZM538.1,240.9L537.4,246.1L532.7,248L529.3,244L530.4,239.3L533.2,238.4ZM455,237.8L452,240.1L452.8,245.2L458.3,248.4L461.8,246.1L461.8,239.4ZM581.9,260.8L580.8,260.2L572.8,262.5L572,266L577,270.9L578.4,270.9L582.8,265.7ZM437.8,274.4L435.4,265.7L428.5,267.8L430.8,276.9L431.1,277.1L437.3,275.3ZM618.8,218.3L614.7,217.5L609.8,222L609.5,224.5L618.7,226.6L620.4,220.7ZM473.6,307L473.2,307.1L470.6,309.7L470.7,317.4L472.3,319.3L479,315L473.8,307.1ZM599,182.7L598.3,177L598.8,176.6L608.8,177.7L609.9,179.2L606.6,185.3L602.4,186.2ZM548.6,200.3L549.4,198.8L555.1,196.5L559.6,199.8L559.5,202.8L555.4,206.8L549.8,204.2ZM531.2,253.5L532.7,248L537.4,246.1L540.6,249.1L538.5,253.8ZM490.6,174.8L486,175.1L485.3,180.2L488.1,183.8L495,182.7L495.8,180.9ZM477.4,201.7L477.5,200L476.4,198.5L467.8,197.5L466.6,199.7L467.7,205.1L471.8,206.8ZM617,178.2L616,179.8L609.9,179.2L608.8,177.7L609,169.6L615.3,168.5L616.6,170.1ZM454.1,372.8L452.8,366.6L459,364.6L463.3,372L460.9,374.8ZM586.7,288.1L580.9,291.1L578.9,290.4L579,281.8L582.3,279.8L588.3,283.6ZM362.1,457.7L357.3,461L351.1,455.7L353.1,452.2L357.8,450.6L361.1,452.5ZM380.3,423.4L374.4,423.3L372,426.6L373.5,429.8L379.4,431.6L382.8,426.8ZM476.4,269.5L476.9,273.9L481,275.6L485.5,273.8L487.1,268.8L485.6,266.4L482.3,265ZM573.3,279.9L579,281.8L582.3,279.8L582.8,275.5L578.4,270.9L577,270.9L572.3,277.1ZM380.4,274.9L378.9,284L379.8,284.8L384.4,285.5L388.9,279.3L386.3,275.8ZM620.1,198.4L614.8,203.2L612,202.2L609.4,194.7L612.4,190.9L614.5,190.6L618.2,192.2L620.6,195.7ZM620.1,198.4L614.8,203.2L616.1,207.9L621.5,210.5L623.3,210.1L624.7,203ZM364.3,426.9L366.2,436.2L365.7,436.8L356.9,435.4L359.3,428ZM461.8,239.4L461.8,246.1L467.7,248.3L469,247.6L470.8,241.2L464.6,236.9ZM568.6,258L562.4,261.4L562.1,263.7L563.2,265.7L568.2,267.6L572,266L572.8,262.5L570.7,258.8ZM618.8,218.3L621.5,210.5L623.3,210.1L626.4,211.4L627.4,219.9L620.4,220.7ZM614.5,190.6L612.4,190.9L606.6,185.3L609.9,179.2L616,179.8L616.2,180.1ZM486.6,345.9L486.8,345.4L486.7,345.2L480.2,342.4L474.9,345.9L474.6,349.1L475.1,349.9L481.1,351.2ZM483.5,247.7L486.5,243.9L484.2,239.2L476.2,238.4L475.5,239.4L477.6,246ZM445.9,415.1L446.2,423L442,425L437.7,423L438.9,414.3L439.1,414.2ZM472,185.8L475.9,182.6L477.9,183.2L482.8,189.8L477.1,193.5L471.7,187ZM575.5,245L577.7,237.6L579.3,237.3L586.4,242.2L586.5,243.3L580.2,247.3ZM464.9,222.7L466.5,232.1L473.8,231.1L473.9,223.6ZM607.2,261.9L606.4,262.2L597.6,258.2L597.6,256.8L604.1,251.1L607.3,253ZM632.6,204.3L630.2,210.2L635,213.9L635.9,213.8L639.4,209.3L638,204.9ZM483.5,247.7L486.5,243.9L488.2,243.9L494,248.6L493.6,252.8L489.5,255.9L489.3,255.9L483.5,248.4ZM494.9,343.1L502.4,343.3L504.9,340.4L505,335.2L494.9,336.5L494.9,336.5ZM476.2,238.4L484.2,239.2L485.7,234.9L481,230.5L475.1,232.2ZM606.5,217.1L609.4,212.3L604.2,207.3L600.5,213L603.2,217.1ZM608,168.9L609,169.6L608.8,177.7L598.8,176.6L601.7,170ZM564.7,276.2L567.2,275.2L568.2,267.6L563.2,265.7L559.8,271.8ZM568.6,258L562.4,261.4L559.5,256.7L564.4,251.1L565.7,251.5ZM515.5,230.9L520.7,229.1L525,232.4L524.8,236.1L520.3,239.1L517.6,239.1ZM381.6,203.4L382.5,197.3L387.6,195.8L391.9,200.9L392,201.4L389.8,204.4ZM475.8,253.7L472.8,257.1L473.2,260.7L480.7,261.4L481.8,258.2L479.4,254ZM354.8,419.2L355.4,410.2L352.8,408.8L345.2,414.3L346,418.3L353.8,420.1ZM504.1,200.1L502.1,198.2L497.2,197.7L493.1,206L493.4,206.5L499.1,209L502.5,207.7L504.9,203.4ZM482,221.9L475.3,222L472.8,214.1L473.4,213.2L481.3,211.3ZM592.7,207.6L596.6,213.4L593.6,218.9L587.4,214.7L590.7,207.4ZM348.9,445.2L346.7,437L342,436.9L340.3,443.7L343.5,447.6L348.7,445.4ZM514.2,342.7L511.7,345.2L504.9,340.4L505,335.2L505,335.1L511.1,333.4L514.2,336.6ZM493,219.1L498.1,215.4L504.8,219.2L501.4,224L495.6,223.7ZM602.9,232.2L608.4,230.8L609.4,224.6L601.7,224.1L598.9,228.8ZM442.1,223L449.7,225L452.2,222.1L448.8,215.3L442,218.2ZM350.4,434.3L346.7,437L342,436.9L338.5,433.7L338.9,430L344.9,427.1L349.6,429.4ZM386.3,275.8L388.9,279.3L390.9,279.3L395.3,274.3L395.2,272.8L389.7,268.8L389.2,268.9ZM631.1,202L624.7,203L620.1,198.4L620.6,195.7L630.4,193.3L631.6,195.4ZM581.4,251.3L587.5,252.5L588,253.2L587.4,258.1L581.9,260.8L580.8,260.2L578.8,254.8ZM574.2,227.6L574.1,227.7L573.6,234.1L577.7,237.6L579.3,237.3L583.5,232.9L583,227.4ZM635,213.9L630.7,221.7L630.3,221.8L627.4,219.9L626.4,211.4L630.2,210.2ZM464.6,236.9L470.8,241.2L475.5,239.4L476.2,238.4L475.1,232.2L473.8,231.1L466.5,232.1L465.2,233.3ZM455,231.9L449.8,229.5L449.7,225L452.2,222.1L454,222.1L458.3,226L457.9,230ZM400.3,190.6L397.7,194.6L395.7,194.8L389.8,189.1L390.4,187.6L397.7,186.8ZM497.6,278.4L493.8,276.3L494.9,269.9L501.2,270.8L502.2,272.2L501.6,276.2ZM592,172.3L594.8,166.5L599.2,166.6L601.7,170L598.8,176.6L598.3,177L592.9,175.5ZM467.7,248.3L469,247.6L473.9,248.9L475.8,253.7L472.8,257.1L467.2,254.3ZM450.7,376.2L454.1,381.5L461,379.1L460.9,374.8L454.1,372.8ZM454,222.1L452.2,222.1L448.8,215.3L449.5,213.6L452.6,212L458.2,215.4L458.5,217.6ZM601.9,238.6L602.9,232.2L598.9,228.8L594,229.7L592.5,234.7L597.4,239.9ZM586.5,243.3L586.4,242.2L590.5,235.5L592.5,234.7L597.4,239.9L595.8,245.3L588.4,245.1ZM609,241.1L609.7,240.5L610.9,233.8L608.4,230.8L602.9,232.2L601.9,238.6L607.4,241.5ZM372,426.6L365.2,425.8L364.8,422.2L370.5,416.9L372.8,417.8L374.4,423.3ZM503,348.3L502.4,343.3L504.9,340.4L511.7,345.2L511.6,346.5L508.3,349.7ZM488.8,204L486.6,198.7L493.8,194L497.2,197.7L493.1,206ZM565.4,310.2L569.4,314.8L565.6,320.9L564.7,320.8L560.5,316.1L562.8,310.9ZM554.3,295.6L554.6,294.5L549.7,290.8L544.1,293.3L544.4,298.2L548.3,299.8ZM620.6,195.7L618.2,192.2L623.6,184.9L624.5,184.7L630.8,191.4L630.4,193.3ZM477.9,183.2L485.3,180.2L488.1,183.8L486.7,188.5L483.9,190L482.8,189.8ZM463.1,257.3L467.2,254.3L472.8,257.1L473.2,260.7L472.4,262L466.2,262.3L463,258.5ZM501.1,256.5L500.4,260.6L495.6,262.7L490.4,259.5L489.5,255.9L493.6,252.8ZM598.9,228.8L601.7,224.1L600.6,221.2L593.7,219L590.9,225.4L594,229.7ZM389.2,244.7L383.8,247.3L381,242.6L383.9,237.3L384.6,237.1L388.6,239ZM435.9,292.4L426.7,294.9L426.5,294.9L426.1,293.4L428.8,285.5L431.6,284.2L435.7,286.1ZM450.7,376.2L449.4,376.3L443.1,369.8L443.1,369.5L452.2,366.3L452.8,366.6L454.1,372.8ZM508.6,357.1L508.9,357.6L508.3,360.4L504.1,362.5L498.3,360.5L497.4,358.6L501.3,354.4ZM404.3,247L403.4,249L397.1,252.2L393.9,249.7L393.3,247.6L397.4,241.4L401,241.7ZM395.9,405.6L390.3,408.3L387.6,406.4L388.1,400L393.3,398.8L396.3,401.9ZM467.6,282.1L473.2,282.6L473.6,282.2L474.1,276L466.4,274.1L465,275.6L464.7,277.3ZM354.3,424.9L349.6,429.4L344.9,427.1L344.9,419.6L346,418.3L353.8,420.1ZM501.3,233L503.9,235.9L508.7,235.7L512.2,229.2L511.3,227.5L503.6,228.6ZM477.5,200L485.8,198.3L483.9,190L482.8,189.8L477.1,193.5L476.4,198.5ZM539.9,202.7L541.3,200.9L548.6,200.3L549.8,204.2L546.8,208.2L540.2,207ZM538.5,253.8L540.6,249.1L545.1,248.7L547.7,253.7L546.8,256.7L540.8,257.7ZM473.6,323.2L472.4,321.7L472.3,319.3L479,315L479.6,315.1L483.6,320L483.6,321.2L481,324.4ZM616.1,207.9L612,212.3L609.4,212.3L604.2,207.3L604.1,206.8L605.6,204.6L612,202.2L614.8,203.2ZM348.7,445.4L353.1,452.2L351.1,455.7L346.9,457.2L345.6,456.6L343,449.2L343.5,447.6ZM472.7,288.9L478,292.3L479.7,290.9L480.4,283.5L473.6,282.2L473.2,282.6ZM508.9,214.6L509.7,214.4L517.5,218.7L517.8,220.2L511.6,226L506,218.8ZM480.2,342.4L479.3,336.5L486.9,334.8L487.4,335.4L486.7,345.2ZM495.6,223.7L501.4,224L503.6,228.6L501.3,233L498.3,233.1L494.4,227.6ZM597.6,256.8L594.1,252.5L588,253.2L587.4,258.1L592.8,261.9L594.7,261.5L597.6,258.2ZM334.2,367.4L325.3,362L326.7,357.4L334,358L337.8,363.6L335.9,366.9ZM481.1,351.2L475.1,349.9L474.5,356.1L480.2,360.3L482.3,359.9L483.3,357.2ZM588.4,245.1L595.8,245.3L596.1,246L594.1,252.5L588,253.2L587.5,252.5ZM493.8,276.3L494.9,269.9L494.1,269L487.1,268.8L485.5,273.8L489.8,278.4ZM393.4,288.5L395.5,284L390.9,279.3L388.9,279.3L384.4,285.5L387.4,289.7ZM361.4,419L363.3,412.8L357.7,409.7L355.4,410.2L354.8,419.2ZM440.3,283.9L440.8,281.6L437.3,275.3L431.1,277.1L431.6,284.2L435.7,286.1ZM401.2,203.6L392,201.4L389.8,204.4L390.8,209.2L395.5,210.9L401.6,204.3ZM495,182.7L497,188.1L493.8,192.6L486.7,188.5L488.1,183.8ZM455,231.9L455,237.8L461.8,239.4L464.6,236.9L465.2,233.3L457.9,230ZM550.7,219.2L556.5,219.9L558.8,213L555.8,210.5L549.4,213.9ZM334,358L326.7,357.4L326.4,356.4L330.1,349.1L332.8,348.5L334.8,349.4L336.6,353.6ZM473.2,260.7L480.7,261.4L482.3,265L476.4,269.5L473.1,267.2L472.4,262ZM493.8,194L493.8,192.6L497,188.1L503.9,188.9L502.1,198.2L497.2,197.7ZM489.5,255.9L490.4,259.5L485.6,266.4L482.3,265L480.7,261.4L481.8,258.2L489.3,255.9ZM422.5,283.1L428.8,285.5L431.6,284.2L431.1,277.1L430.8,276.9L422.3,277.9ZM463.7,316.7L462.3,318.4L464.1,325.2L472.4,321.7L472.3,319.3L470.7,317.4ZM566.1,226.4L562.1,230.7L562.4,232L568.9,236L573.6,234.1L574.1,227.7ZM581.4,251.3L580.2,247.3L575.5,245L573.3,246.1L572.2,248.8L574.6,253.9L578.8,254.8ZM464.5,221.1L458.5,217.6L454,222.1L458.3,226L464.9,222.7ZM558.8,213L562.8,212.7L564.6,210.9L564.8,206.9L559.5,202.8L555.4,206.8L555.8,210.5ZM457.7,252.9L458.3,248.4L461.8,246.1L467.7,248.3L467.2,254.3L463.1,257.3ZM540.9,239.7L547.8,243.1L545.1,248.7L540.6,249.1L537.4,246.1L538.1,240.9ZM503.6,228.6L511.3,227.5L511.6,226L506,218.8L504.8,219.2L501.4,224ZM359.3,428L356.9,435.4L355.5,436.3L350.4,434.3L349.6,429.4L354.3,424.9ZM566,195.9L559.6,199.8L559.5,202.8L564.8,206.9L570.8,203.1L568.7,197.7ZM618.8,218.3L614.7,217.5L612,212.3L616.1,207.9L621.5,210.5ZM495.9,349.6L500.5,350.7L501.3,354.4L497.4,358.6L493.6,357.1L492.5,355ZM393,179.1L390,185.4L390.4,187.6L397.7,186.8L399.9,182.5L398.7,179.4ZM515.5,230.9L517.6,239.1L515.7,240.4L512.5,240.3L508.7,235.7L512.2,229.2ZM483.5,247.7L477.6,246L473.9,248.9L475.8,253.7L479.4,254L483.5,248.4ZM447.2,231.7L449.8,229.5L455,231.9L455,237.8L452,240.1L446.6,238.3ZM392,299.9L392.2,299.9L398.2,294.7L393.4,288.5L387.4,289.7L387.1,291.4ZM372,426.6L365.2,425.8L364.3,426.9L366.2,436.2L370.4,435.3L373.5,429.8ZM481.8,209.2L477.4,201.7L477.5,200L485.8,198.3L486.6,198.7L488.8,204ZM603.5,249.2L596.1,246L595.8,245.3L597.4,239.9L601.9,238.6L607.4,241.5ZM440.3,216.7L442,218.2L442.1,223L441,224.3L432.8,224.5L433.1,216.7ZM440.7,388.7L447,384.5L449.6,385.6L450.1,394.1L446.1,394.7L441.4,392.4ZM568.2,287.1L568.7,287L573.3,279.9L572.3,277.1L567.2,275.2L564.7,276.2L562.9,279.9L567.8,287ZM399.3,283.2L399.6,277.1L395.3,274.3L390.9,279.3L395.5,284ZM393.8,236.9L388.6,239L389.2,244.7L393.3,247.6L397.4,241.4ZM572.3,277.1L577,270.9L572,266L568.2,267.6L567.2,275.2ZM464.5,221.1L467.8,214.8L472.8,214.1L475.3,222L473.9,223.6L464.9,222.7L464.9,222.7ZM408.3,193.9L408.3,193.9L404.7,190.5L400.3,190.6L397.7,194.6L401.7,199ZM441.4,229.6L441,224.3L442.1,223L449.7,225L449.8,229.5L447.2,231.7ZM568.7,287L573.3,279.9L579,281.8L578.9,290.4L577.9,290.7ZM606.5,217.1L609.4,212.3L612,212.3L614.7,217.5L609.8,222ZM418.8,286.6L422.5,283.1L428.8,285.5L426.1,293.4L418.9,287.7ZM446.3,271.1L445.8,272L437.8,274.4L435.4,265.7L435.5,265.6L440.2,265.5ZM391.9,200.9L387.6,195.8L389.7,189.1L389.8,189.1L395.7,194.8ZM618.2,192.2L623.6,184.9L616.2,180.1L614.5,190.6ZM620.4,220.7L618.7,226.6L619.1,227.5L627.4,228.7L630.3,221.8L627.4,219.9ZM365.2,425.8L364.8,422.2L361.4,419L354.8,419.2L353.8,420.1L354.3,424.9L359.3,428L364.3,426.9ZM508.3,349.7L511.6,346.5L516.6,350.9L516.6,355.6L508.9,357.6L508.6,357.1ZM442.7,242.1L443.7,239.7L446.6,238.3L452,240.1L452.8,245.2L448.8,248.4L444.4,247.4ZM555.9,306.4L562.8,310.9L560.5,316.1L555.1,316.8L554.5,307.2ZM592.8,261.9L587.4,258.1L581.9,260.8L582.8,265.7L589,268ZM450.7,376.2L449.4,376.3L445.7,380.4L447,384.5L449.6,385.6L453.3,384L454.1,381.5ZM438.9,408.9L435.5,406.5L430.6,410.4L433.1,414.2L438.9,414.3L439.1,414.2ZM443.1,369.5L452.2,366.3L450.5,361.1L443.2,360L440.8,366.9ZM617.9,232.3L610.9,233.8L608.4,230.8L609.4,224.6L609.5,224.5L618.7,226.6L619.1,227.5ZM489.4,281L489.8,278.4L485.5,273.8L481,275.6L481.5,282.6L486.5,283.3ZM540.2,207L546.8,208.2L548.1,213.1L542.3,214.9L537.6,210.8ZM549.4,213.9L548.1,213.1L546.8,208.2L549.8,204.2L555.4,206.8L555.8,210.5ZM486.6,198.7L485.8,198.3L483.9,190L486.7,188.5L493.8,192.6L493.8,194ZM500.5,350.7L501.3,354.4L508.6,357.1L508.3,349.7L503,348.3ZM364.8,422.2L370.5,416.9L367.9,411.4L363.3,412.8L361.4,419ZM544.1,293.3L539.7,290.8L542,285.1L547.5,283.8L549.4,285.8L549.7,290.8ZM574.6,253.9L570.7,258.8L568.6,258L565.7,251.5L572.2,248.8ZM632.6,204.3L630.2,210.2L626.4,211.4L623.3,210.1L624.7,203L631.1,202ZM551,262.7L557.1,256.3L559.5,256.7L562.4,261.4L562.1,263.7L552.7,264.9ZM393.3,247.6L393.9,249.7L385.9,253.9L384.3,253.2L382.9,250.1L383.8,247.3L389.2,244.7ZM467.6,282.1L473.2,282.6L472.7,288.9L468.7,290.3L465.6,286ZM335,452L343,449.2L345.6,456.6L338.2,459.1ZM603.2,217.1L600.5,213L596.6,213.4L593.6,218.9L593.7,219L600.6,221.2ZM604.1,251.1L597.6,256.8L594.1,252.5L596.1,246L603.5,249.2ZM477.6,246L475.5,239.4L470.8,241.2L469,247.6L473.9,248.9ZM578.8,254.8L580.8,260.2L572.8,262.5L570.7,258.8L574.6,253.9ZM556.9,304.3L563.5,301.4L566.8,307.5L565.4,310.2L562.8,310.9L555.9,306.4ZM493.7,344.6L494.9,343.1L502.4,343.3L503,348.3L500.5,350.7L495.9,349.6ZM463.7,316.7L470.7,317.4L470.6,309.7L463.1,310.6ZM586.4,242.2L590.5,235.5L583.5,232.9L579.3,237.3ZM445.9,415.1L439.1,414.2L438.9,408.9L444.2,406.1L447.7,413.3ZM472.4,262L473.1,267.2L466.7,270.2L464.9,267.7L466.2,262.3ZM401.7,199L397.7,194.6L395.7,194.8L391.9,200.9L392,201.4L401.2,203.6ZM635.9,213.8L642.3,219.1L643.5,217.9L644.8,211L639.4,209.3ZM606.5,217.1L609.8,222L609.5,224.5L609.4,224.6L601.7,224.1L600.6,221.2L603.2,217.1ZM467.6,282.1L465.6,286L461.1,286.4L459.8,281L464.7,277.3ZM454.1,381.5L453.3,384L459.7,390.4L462.8,381.4L461,379.1ZM348.9,445.2L355.8,442.4L357.5,443.9L357.8,450.6L353.1,452.2L348.7,445.4ZM435.7,423.3L430.5,419.9L433.1,414.2L438.9,414.3L437.7,423ZM483.5,248.4L489.3,255.9L481.8,258.2L479.4,254ZM399.7,409.5L397.2,413.8L391.1,412.3L390.3,408.3L395.9,405.6ZM581.4,251.3L587.5,252.5L588.4,245.1L586.5,243.3L580.2,247.3Z" fill="#0000FF" stroke="#0000FF" stroke-width="0.6"/>
<path d="M429.4,173.7L423.7,171.8L423.5,163.9L424.1,162.9L431.4,166.7ZM423.5,191.8L428.5,195.8L433.5,189.9L431.4,186.9L424.7,187.3ZM409,357.3L416.7,354.2L414.4,348L410.9,347.1L405.3,349.8L405.3,352.9ZM439.5,206.7L436.8,200.9L439.7,196.1L446.4,195.7L449.5,201.1L449.5,201.4L443.6,207.2L440.8,207.4ZM593.2,197.5L592.4,191.3L600.8,191.5L602.6,195.4L602.5,195.6L596.9,199.5ZM582.8,275.5L578.4,270.9L582.8,265.7L589,268L589.9,270.9L589,273.1ZM493,219.1L495.6,223.7L494.4,227.6L489.6,229.2L484.1,223.4L484.1,223.3L491.2,218.6ZM435.3,301.7L432.6,302.3L430.1,306L430.3,308.1L433,310.7L439.1,309.4L439.7,307.1ZM387.7,351.4L384.1,354.1L388.4,362L389.6,362.4L395.7,356.6L394,352.1ZM598.5,285.4L595.8,285.9L590.6,282.6L592,278.6L599.1,276.6L601.3,277.9L601.8,281.4ZM476,367.9L479.1,371.1L478.9,373.3L473.3,378.8L472.5,378.7L468.4,371.8ZM350.9,347.7L344.4,342.6L346.3,338.8L353.6,339.3L355.8,344.6L354,347.1ZM497.7,283.4L497.6,278.4L501.6,276.2L505.4,280.3L504.7,283.6L501.4,285.2ZM462,361.4L467.7,363.5L466.9,371.1L463.3,372L459,364.6L460.3,362.1ZM513.3,388.7L516.5,394.1L511.9,400.3L507.8,400.6L506.3,399.2L507,391.5L512.4,388.7ZM387.8,416.8L384.4,416.1L382.4,408.3L387.6,406.4L390.3,408.3L391.1,412.3ZM537.2,392.8L542.6,387.9L545.1,388.3L545.5,395.7L544.7,396.6L538.4,396.4ZM474.1,276L473.6,282.2L480.4,283.5L481.5,282.6L481,275.6L476.9,273.9ZM334.1,401.3L341.7,401.4L342.5,402L342.9,404.1L340.7,409.8L331.2,406.3L331.2,406.2ZM503.1,254.7L508.7,255.2L512,250.5L507.5,245.3L502.7,248.8ZM496.7,392.4L494.1,384.7L488.7,385.7L486.4,390.9L491.4,394.1L496.6,392.7ZM440.8,207.4L443.6,207.2L449.5,213.6L448.8,215.3L442,218.2L440.3,216.7ZM419.4,359.5L428.3,358.3L428.6,352.2L426.5,349.7L417.6,354.8ZM501.1,256.5L500.4,260.6L503.6,264.3L509.9,264.5L511.9,260.5L508.7,255.2L503.1,254.7ZM391,176.1L384.9,176.9L383.7,175.8L383.8,169.3L387.4,167.5L387.7,167.5L391.8,172.7ZM331.6,333L337.2,333.2L337.9,334.2L337.3,340.3L333.5,341.8L330.3,339.7L330,334.3ZM592.8,261.9L594.7,261.5L598.8,267.7L596.9,270.9L589.9,270.9L589,268ZM574.5,220L571.1,218.3L570.4,212.4L573.8,209.5L577.6,212.3L576.5,218.9ZM374.1,364L370.2,358.7L371.9,355.5L379.9,356.8L379.4,363.9ZM535.6,314.8L533.4,316.5L528,310.9L528.6,307.5L532.4,305L536.4,308.7ZM554.5,307.2L555.1,316.8L553.3,318.7L550.5,318L545.9,310.1L546,309.1L549.8,306.9ZM588.7,200.4L582.5,196.2L581,197.1L578.9,202.4L582.7,206.6L589.2,206.1ZM530.6,254.2L526.9,254.7L523.2,248.9L524.2,246.3L529.3,244L532.7,248L531.2,253.5ZM401.2,363.1L400.6,365.6L392.7,367.7L389.6,362.4L395.7,356.6L399.1,358.4ZM439.5,296.2L435.9,292.4L426.7,294.9L432.6,302.3L435.3,301.7ZM543.9,321.3L537.4,324.9L536.8,326.5L543.1,331.9L547.6,327.4ZM491.1,326.9L494.9,329L501.2,326.8L502.1,324.2L498.2,319L494.8,318.4L490.7,325ZM512,250.5L508.7,255.2L511.9,260.5L516.6,259.5L518,257.5L516,249.9ZM420.7,305L416.3,301.3L413.9,301.5L410.8,306.5L416.5,311L419.6,309.9ZM365.3,366.8L364.3,362.9L355.4,364.6L354.7,365.8L355.4,369.6L358.6,372.8L362.1,372.2ZM340.4,375.9L340.7,373.2L345.7,370.7L349.4,372.8L349.6,380.1L340.6,376.4ZM429.9,410.2L423.8,414.4L425.5,420.4L430.5,419.9L433.1,414.2L430.6,410.4ZM371.9,355.5L371.1,350.4L363.9,350.5L360.2,355L365.4,360.5L370.2,358.7ZM582.7,206.6L581.3,211.2L577.6,212.3L573.8,209.5L573.5,204.5L578.9,202.4ZM376.4,379.8L367.9,376.9L367.8,376.8L372.2,370.3L376.8,372.3L378.1,376.9L376.9,379.6ZM481.4,211.1L489.4,214.2L493.4,206.5L493.1,206L488.8,204L481.8,209.2ZM494.5,284.8L489.4,281L486.5,283.3L487.7,290.9L489.7,292.5L492.9,290.8ZM594,229.7L590.9,225.4L585.1,225.1L583,227.4L583.5,232.9L590.5,235.5L592.5,234.7ZM420.3,217.2L417.2,222.4L413.2,222.5L410,218.1L410.1,215L410.9,214.2L415.2,213.6ZM549.4,285.8L547.5,283.8L548.1,278.3L554.7,277.2L557.7,281.3L556.7,283.9ZM541.2,315.4L543.9,321.2L543.9,321.3L537.4,324.9L533.4,316.5L533.4,316.5L535.6,314.8ZM338.3,392.6L332.7,397.3L327.8,395.3L327.2,392.2L332.1,388.5ZM487.4,335.4L494.9,336.5L494.9,336.5L494.9,329L491.1,326.9L486.9,331L486.9,334.8ZM354.6,357.6L355.4,364.6L354.7,365.8L346.6,364.7L345,362.6L349.7,357ZM354.6,357.6L349.7,357L347.1,352.5L350.9,347.7L354,347.1L357.4,354.9ZM526,255.9L518,257.5L516.6,259.5L519.8,264L525.6,264.1L526.1,263.7ZM423.1,303.7L425.3,295.8L418.4,296.4L416.3,301.3L420.7,305ZM567.8,287L562.9,279.9L557.7,281.3L556.7,283.9L559.4,289.8ZM429,206.2L432.2,211.1L439.5,206.7L436.8,200.9L432.5,200.7ZM389.6,362.4L388.4,362L381.5,365.7L381.6,367.6L386.2,372.3L391.9,370.1L392.7,367.7ZM405.3,352.9L405.3,349.8L404.4,349.3L395.5,350.2L394,352.1L395.7,356.6L399.1,358.4ZM504.8,323.4L502.1,324.2L501.2,326.8L505,335.1L511.1,333.4L511.7,331.9L510.1,325.5ZM444.7,185.1L447.1,194.2L446.4,195.7L439.7,196.1L436.6,190.7L442.4,184.3ZM340.7,373.2L335.9,366.9L337.8,363.6L342.1,361.9L345,362.6L346.6,364.7L345.7,370.7ZM408.6,360.5L411.5,363.7L418.9,361.5L419.4,359.5L417.6,354.8L416.7,354.2L409,357.3ZM349.6,380.1L349.9,380.4L356.5,379.4L358.6,372.8L355.4,369.6L349.4,372.8ZM544.4,298.2L540.9,301.2L534.8,299.2L539.1,291L539.7,290.8L544.1,293.3ZM372.8,417.8L376.9,415.7L377,407.4L374.7,407L368.8,409.5L367.9,411.4L370.5,416.9ZM564.9,298.3L558,293L559.4,289.8L567.8,287L568.2,287.1L568,297.1ZM419.4,359.5L418.9,361.5L420.1,364.5L426,367.4L431.5,362.2L431.4,362L428.3,358.3ZM405.9,318.3L408.6,314.9L406.9,307.2L403.7,305.7L400.6,307.3L400.7,314.5L405.3,318.3ZM342.1,389.9L347.9,392.2L351.7,389.2L349.7,380.9L341.9,386.6ZM403.7,305.7L404.4,299.8L410.5,298.1L413.9,301.5L410.8,306.5L406.9,307.2ZM449,308.1L445.7,313.9L441.3,313.4L439.1,309.4L439.7,307.1L444.8,304.7ZM558,293L554.6,294.5L549.7,290.8L549.4,285.8L556.7,283.9L559.4,289.8ZM393.1,378.5L394.8,375.1L391.9,370.1L386.2,372.3L385.2,375.3L387.2,379.3ZM540.9,301.2L542.4,306.7L536.4,308.7L532.4,305L533.4,299.7L533.5,299.6L534.8,299.2ZM339,392.5L341.7,401.4L342.5,402L348.8,396.9L347.9,392.2L342.1,389.9ZM423.5,191.8L418.9,193.6L414.9,185.3L422.7,184.2L424.7,187.3ZM533.8,328.2L536.8,326.5L543.1,331.9L543.1,332.2L540.3,335.9L533.2,335.8ZM462.8,381.4L459.7,390.4L459.7,390.4L461,391.2L470.2,389.7L468.8,382.1ZM460.9,374.8L463.3,372L466.9,371.1L468.4,371.8L472.5,378.7L468.8,382.1L462.8,381.4L461,379.1ZM491.2,218.6L489.4,214.2L481.4,211.1L481.3,211.3L482,221.9L484.1,223.3ZM374.1,364L371.8,369.1L365.3,366.8L364.3,362.9L365.4,360.5L370.2,358.7ZM488.9,316L483.6,320L483.6,321.2L490.7,325L494.8,318.4L493.9,317.3ZM377,407.4L378.2,406.9L380.5,398.6L378.6,396.4L373.2,397.1L371.4,399.6L374.7,407ZM441.3,313.4L438.3,317.2L432.9,315.9L433,310.7L439.1,309.4ZM593.2,197.5L588.7,200.4L589.2,206.1L590.7,207.4L592.7,207.6L597.2,204.3L596.9,199.5ZM526.9,254.7L523.2,248.9L516.5,249.4L516,249.9L518,257.5L526,255.9ZM552.7,387.3L551.2,386.3L548.8,386.1L545.1,388.3L545.5,395.7L553.5,396.3ZM574.5,220L574.2,227.6L583,227.4L585.1,225.1L582.8,219.8L576.5,218.9ZM390,185.4L384.6,181.6L377.9,185.1L377.8,185.3L381.4,189.5L389.7,189.1L389.8,189.1L390.4,187.6ZM484.1,223.3L482,221.9L475.3,222L473.9,223.6L473.8,231.1L475.1,232.2L481,230.5L484.1,223.4ZM432.5,200.7L436.8,200.9L439.7,196.1L436.6,190.7L433.5,189.9L428.5,195.8L428.6,197.2ZM413.2,222.5L411.1,227.8L404.7,227.8L403,223.8L410,218.1ZM429.8,174.3L429.3,178.7L423.8,181.1L418.7,174.7L423.7,171.8L429.4,173.7ZM408.9,175.1L407.7,176.3L408.6,182.4L414.2,185.1L414.4,185.1L417.1,175.3ZM417.1,175.3L414.4,185.1L414.9,185.3L422.7,184.2L423.8,181.1L418.7,174.7L418.1,174.7ZM398.1,385.1L395.4,384.1L393.1,378.5L394.8,375.1L400.9,375.4L402,380.9L399.9,384.6ZM388.1,400L387.6,406.4L382.4,408.3L378.2,406.9L380.5,398.6L386.3,398.6ZM521.6,395.1L516.5,394.1L511.9,400.3L516.8,405.5L521.2,404.6ZM395.4,232.5L393.4,229.6L395.8,224.3L401.6,222.9L403,223.8L404.7,227.8L402.7,232.2ZM410.9,214.2L410.1,215L404.2,213.4L402.6,204.9L410.1,204.4ZM605.6,204.6L602.5,195.6L602.6,195.4L609.4,194.7L612,202.2ZM397.2,413.8L391.1,412.3L387.8,416.8L390.1,420.9L396.6,419.4L398.1,417ZM390.4,152.9L387.5,149.8L384.9,149.3L380.1,153.3L383.1,159.3L385.1,159.8L389.4,157.3ZM511.9,260.5L516.6,259.5L519.8,264L517.2,269.3L511,267L509.9,264.5ZM520.3,239.1L524.8,236.1L530.4,239.3L529.3,244L524.2,246.3ZM408.6,314.9L414.3,314.4L416.5,311L410.8,306.5L406.9,307.2ZM392.2,299.9L400.2,307.2L400.6,307.3L403.7,305.7L404.4,299.8L400.9,294.6L398.2,294.7ZM497.7,283.4L494.5,284.8L492.9,290.8L499.8,292.6L500.8,291.9L501.4,285.2ZM484,401L480.5,395.7L483.1,391.9L486.4,390.9L491.4,394.1L488.4,401ZM374.1,364L371.8,369.1L372.2,370.3L376.8,372.3L381.6,367.6L381.5,365.7L379.4,363.9ZM549.8,306.9L546,309.1L542.4,306.7L540.9,301.2L544.4,298.2L548.3,299.8ZM344.4,342.6L346.3,338.8L345.4,335.6L337.9,334.2L337.3,340.3L342.1,343.6ZM609.4,194.7L612.4,190.9L606.6,185.3L602.4,186.2L600.8,191.5L602.6,195.4ZM410.7,203.9L410.1,204.4L402.6,204.9L401.6,204.3L401.2,203.6L401.7,199L408.3,193.9L410,195.5ZM556.2,272.3L554.7,277.2L548.1,278.3L547.3,277.4L547.6,272.1L552.8,268.6ZM589.2,206.1L582.7,206.6L581.3,211.2L585.4,215.3L587.4,214.7L590.7,207.4ZM513.9,322.2L519.1,325.9L518.8,328L511.7,331.9L510.1,325.5ZM570.4,212.4L564.6,210.9L564.8,206.9L570.8,203.1L573.5,204.5L573.8,209.5ZM429.3,178.7L423.8,181.1L422.7,184.2L424.7,187.3L431.4,186.9L432.3,182.1ZM530.6,254.2L526.9,254.7L526,255.9L526.1,263.7L532.6,265.4L535.9,263.2ZM533.4,316.5L528,310.9L520.4,314.5L524.5,321.5L525.5,321.7L533.4,316.5ZM332.6,383.8L339.3,383.5L341.9,386.6L342.1,389.9L339,392.5L338.3,392.6L332.1,388.5L332.5,383.9ZM367.8,376.8L367.9,376.9L365.3,382.8L358.8,381.9L356.5,379.4L358.6,372.8L362.1,372.2ZM354.6,357.6L355.4,364.6L364.3,362.9L365.4,360.5L360.2,355L357.4,354.9ZM372.1,386.3L376.4,379.8L367.9,376.9L365.3,382.8L366,384.2ZM440.1,180.2L432.3,182.1L431.4,186.9L433.5,189.9L436.6,190.7L442.4,184.3ZM391.3,300.5L390.3,308.3L386.3,309.6L383.5,307.3L384.7,301.5ZM379.4,363.9L381.5,365.7L388.4,362L384.1,354.1L383.7,354.1L379.9,356.8ZM374.7,407L371.4,399.6L366.9,400.1L365.2,404.4L368.8,409.5ZM430.1,306L423.1,303.7L420.7,305L419.6,309.9L423.7,313.3L430.3,308.1ZM546,309.1L545.9,310.1L541.2,315.4L535.6,314.8L536.4,308.7L542.4,306.7ZM596.9,199.5L602.5,195.6L605.6,204.6L604.1,206.8L597.2,204.3ZM329.1,373.7L334.2,367.4L335.9,366.9L340.7,373.2L340.4,375.9L333,377.2ZM423,413.8L423.8,414.4L429.9,410.2L425.2,402.4L421.2,406.6ZM582.8,219.8L585.4,215.3L587.4,214.7L593.6,218.9L593.7,219L590.9,225.4L585.1,225.1ZM597.6,258.2L594.7,261.5L598.8,267.7L602.5,267.3L606.4,262.2ZM501.2,326.8L505,335.1L505,335.2L494.9,336.5L494.9,329ZM556.2,272.3L559.8,271.8L564.7,276.2L562.9,279.9L557.7,281.3L554.7,277.2ZM380.3,423.4L381.5,417.7L376.9,415.7L372.8,417.8L374.4,423.3ZM472.5,378.7L473.3,378.8L479,383.8L472.6,390.8L471.7,390.8L470.2,389.7L468.8,382.1ZM597.2,204.3L604.1,206.8L604.2,207.3L600.5,213L596.6,213.4L592.7,207.6ZM582.5,196.2L581,197.1L574.8,194.4L574,188.6L579.7,186.2L580.9,186.8L582.7,195.5ZM382.5,197.3L380.5,194.7L381.4,189.5L389.7,189.1L387.6,195.8ZM332.6,383.8L339.3,383.5L340.6,376.4L340.4,375.9L333,377.2ZM439.5,206.7L432.2,211.1L431.2,214.8L433.1,216.7L440.3,216.7L440.8,207.4ZM376.9,415.7L381.5,417.7L384.4,416.1L382.4,408.3L378.2,406.9L377,407.4ZM487.7,290.9L479.7,290.9L480.4,283.5L481.5,282.6L486.5,283.3ZM391,176.1L384.9,176.9L384.6,181.6L390,185.4L393,179.1ZM340.6,376.4L339.3,383.5L341.9,386.6L349.7,380.9L349.9,380.4L349.6,380.1ZM449.5,201.4L453.8,208.9L452.6,212L449.5,213.6L443.6,207.2ZM418.1,174.7L418.7,174.7L423.7,171.8L423.5,163.9L415.3,166.7L415.2,167ZM548.3,339.4L541.9,342.5L540.3,335.9L543.1,332.2L549,336.8ZM400.6,307.3L400.2,307.2L393.1,310.6L392.9,314.9L395.6,316.7L400.7,314.5ZM425.2,206.1L423.5,200.8L428.6,197.2L432.5,200.7L429,206.2ZM380.3,423.4L381.5,417.7L384.4,416.1L387.8,416.8L390.1,420.9L389.8,422.3L383.6,426.8L382.8,426.8ZM350.9,347.7L344.4,342.6L342.1,343.6L341.1,346.2L344.1,352.3L347.1,352.5ZM541.9,342.5L540.3,335.9L533.2,335.8L531.9,337.2L531.7,342.6L531.7,342.7L541.9,342.6ZM411.7,293.3L410.5,298.1L413.9,301.5L416.3,301.3L418.4,296.4L415.8,292.9ZM373.1,388.3L379.2,390.3L379.4,390.6L378.6,396.4L373.2,397.1L370.5,392.6ZM432.9,315.9L431.4,317.1L424.4,316L423.7,313.3L430.3,308.1L433,310.7ZM367.9,411.4L363.3,412.8L357.7,409.7L360.9,404.6L365.2,404.4L368.8,409.5ZM430.1,306L432.6,302.3L426.7,294.9L426.5,294.9L425.3,295.8L423.1,303.7ZM589,273.1L589.9,270.9L596.9,270.9L599.1,276.6L592,278.6ZM426.2,232.8L422.4,238.8L420.2,238.6L415.6,232.2L420.3,229.1L426.2,232.7ZM341.1,346.2L334.8,349.4L332.8,348.5L333.5,341.8L337.3,340.3L342.1,343.6ZM345.7,370.7L346.6,364.7L354.7,365.8L355.4,369.6L349.4,372.8ZM576.5,218.9L577.6,212.3L581.3,211.2L585.4,215.3L582.8,219.8ZM497.7,283.4L497.6,278.4L493.8,276.3L489.8,278.4L489.4,281L494.5,284.8ZM413.2,222.5L411.1,227.8L414.7,232.2L415.6,232.2L420.3,229.1L420.6,226.8L417.2,222.4ZM389.4,157.3L385.1,159.8L387.4,167.5L387.7,167.5L395.5,162.8ZM371.8,369.1L365.3,366.8L362.1,372.2L367.8,376.8L372.2,370.3ZM532.2,390.5L537.2,392.8L542.6,387.9L538.6,383.6L536.5,383.6L532.1,389.8ZM408.6,360.5L401.2,363.1L399.1,358.4L405.3,352.9L409,357.3ZM469.9,362.2L475.9,365.5L476,367.9L468.4,371.8L466.9,371.1L467.7,363.5ZM338.3,392.6L332.7,397.3L334.1,401.3L341.7,401.4L339,392.5ZM541.2,315.4L543.9,321.2L550.5,318L545.9,310.1ZM381,132.6L378.8,137L382.5,142.3L387.3,139.6L388.4,135.8ZM365.2,404.4L366.9,400.1L364.3,396.6L357.2,398.5L360.9,404.6ZM488.9,316L486.5,309L495,308.5L493.9,317.3ZM386.3,309.6L390.3,308.3L393.1,310.6L392.9,314.9L389.2,316.5L385.7,314Z" fill="#1E90FF" stroke="#1E90FF" stroke-width="0.6"/>
<path d="M437.2,233.8L431.3,227.1L431.4,226.2L432.8,224.5L441,224.3L441.4,229.6ZM594.9,313.3L598.7,312.9L600.7,319.7L595.2,322.1L591.8,319.9ZM426.4,372.3L426,367.4L420.1,364.5L416.8,371.2L418.5,374.4L419.3,374.7ZM446.6,167.3L450.1,171.7L447.8,175.8L440.6,176.6L439.3,173.6L439.3,173.5ZM386.3,398.6L380.5,398.6L378.6,396.4L379.4,390.6L387.2,390.8ZM554.5,323.5L553.3,318.7L550.5,318L543.9,321.2L543.9,321.3L547.6,327.4L551.5,327.5ZM568,297.1L572.1,298.6L573.4,298.2L577.9,290.7L568.7,287L568.2,287.1ZM515.7,240.4L516.5,249.4L516,249.9L512,250.5L507.5,245.3L507.6,244.7L512.5,240.3ZM566.8,307.5L571.8,305.9L572.1,298.6L568,297.1L564.9,298.3L563.5,301.4ZM534.7,220.6L528.3,223.6L529.2,228.9L534.9,230.9L536.1,230.3L536.9,222ZM424.1,216.7L425.4,223.2L431.4,226.2L432.8,224.5L433.1,216.7L431.2,214.8L425,215.7ZM559.6,325L564.7,320.8L560.5,316.1L555.1,316.8L553.3,318.7L554.5,323.5ZM457.3,263.6L458.1,266.8L464.9,267.7L466.2,262.3L463,258.5ZM410.9,240.1L416.6,242L420.2,238.6L415.6,232.2L414.7,232.2L410.2,237.6ZM625.4,150L620,146.7L615.6,152.9L618.1,156.8L623.9,155.3ZM587.3,320L586.3,311.4L581.6,311.7L578.9,316.4L582.7,320.8ZM501.1,256.5L493.6,252.8L494,248.6L498.2,246.1L502.7,248.8L503.1,254.7ZM416,204L419.4,199.6L418.1,195.2L410,195.5L410.7,203.9ZM415.2,250.6L413.3,254L416.1,261.9L423.3,260.5L420,249.5L418.4,249.2ZM571.2,187.5L565.5,192.7L566,195.9L568.7,197.7L574.8,194.4L574,188.6ZM401.6,222.9L399.9,215.8L397.5,215L392,219.4L395.8,224.3ZM550,262.2L546.8,256.7L547.7,253.7L554.1,251.8L557.1,256.3L551,262.7ZM450.2,179.5L447.7,184.1L444.7,185.1L442.4,184.3L440.1,180.2L440.6,176.6L447.8,175.8ZM515.4,278.6L515.4,278.5L517.8,270.4L524.4,271.2L525.4,272.6L524.1,278.4ZM452.9,156.2L452.9,162.5L446.6,165.3L442.7,161.5L443.6,158L450.2,154.6ZM408.5,245.6L415.2,250.6L418.4,249.2L416.6,242L410.9,240.1ZM445.9,415.1L446.2,423L450.6,424.5L451.6,424.2L456.6,417.6L456.4,416.8L449.7,413L447.7,413.3ZM477.4,297L478,292.3L479.7,290.9L487.7,290.9L489.7,292.5L489.4,298.4L485.4,301.1ZM392,299.9L387.1,291.4L382.2,295L383,300.3L384.7,301.5L391.3,300.5ZM425,215.7L431.2,214.8L432.2,211.1L429,206.2L425.2,206.1L422.8,208.6ZM398.7,179.4L399.9,182.5L405.5,184.3L408.6,182.4L407.7,176.3L401,175.8ZM464.6,409.2L465,408.4L462,401.1L454.5,402.1L453.8,403.6L454,405L459.3,410.4ZM351.7,389.2L356.5,389.9L356.8,390.1L357,398.5L353.7,399.6L348.8,396.9L347.9,392.2ZM447.7,413.3L449.7,413L454,405L453.8,403.6L444.8,404.2L444.2,406.1ZM393.8,236.9L388.6,239L384.6,237.1L386.8,228.7L387.3,228.4L393.4,229.6L395.4,232.5ZM495.6,369.3L495.2,368.2L498.3,360.5L504.1,362.5L502.6,368L497.2,370.2ZM591.5,190.5L590.9,187.2L588.1,184.4L580.9,186.8L582.7,195.5ZM592.4,191.3L600.8,191.5L602.4,186.2L599,182.7L590.9,187.2L591.5,190.5ZM437.1,234.2L443.7,239.7L446.6,238.3L447.2,231.7L441.4,229.6L437.2,233.8ZM432.9,157.6L424.1,161.5L422.7,159.1L423.8,153.9L429.8,150.4L433.3,153.4ZM541.7,221.1L545.5,223.5L547.6,222.9L550.7,219.2L549.4,213.9L548.1,213.1L542.3,214.9ZM469.9,174.9L475.5,179L475.9,182.6L472,185.8L464.8,180.8L464.5,179.3ZM401,241.7L397.4,241.4L393.8,236.9L395.4,232.5L402.7,232.2L404.5,235.7ZM520.3,304.7L522.9,304L525.4,299.3L523,294.5L519.1,294.2L516.7,300.3ZM403.4,249L397.1,252.2L397.1,254.6L401.4,259.7L405,260.2L407.6,255ZM437.1,234.2L432.4,238.5L426.2,232.8L426.2,232.7L431.3,227.1L437.2,233.8ZM517.9,309.8L519.9,314.3L520.4,314.5L528,310.9L528.6,307.5L522.9,304L520.3,304.7ZM410.9,347.1L405.3,349.8L404.4,349.3L401.2,341.4L404.9,337.1L407,337.2L408.8,338.8ZM508.8,272.5L511,267L517.2,269.3L517.8,270.4L515.4,278.5L511.2,277.1ZM532.6,265.4L531.9,271.9L525.4,272.6L524.4,271.2L525.6,264.1L526.1,263.7ZM400.2,159.1L406.8,163.2L406.6,167.6L399.1,169.4L396.6,162.9ZM416.9,158L422.7,159.1L423.8,153.9L418.8,149.3L414.4,150.8L414.2,151ZM400.5,157.5L396.5,151.7L397.7,148.8L403.9,146.3L407.9,153.1L407.8,153.2ZM456.4,416.8L449.7,413L454,405L459.3,410.4ZM425.2,402.4L425.2,402.4L429.9,410.2L430.6,410.4L435.5,406.5L435,402.6L425.7,401.8ZM408.5,245.6L410.9,240.1L410.2,237.6L404.5,235.7L401,241.7L404.3,247ZM567.3,241.4L568.9,236L562.4,232L558.3,238.7L558.4,239.2L564.2,242.7ZM400.2,159.1L400.5,157.5L396.5,151.7L390.4,152.9L389.4,157.3L395.5,162.8L396.6,162.9ZM588,309.8L586.3,311.4L587.3,320L588.3,320.5L591.8,319.9L594.9,313.3L590.2,309.7ZM410.4,160.7L413.3,161.4L416.9,158L414.2,151L407.9,153.1L407.8,153.2ZM440.6,176.6L439.3,173.6L429.8,174.3L429.3,178.7L432.3,182.1L440.1,180.2ZM453.2,171.7L450.1,171.7L446.6,167.3L446.6,165.3L452.9,162.5L456.6,165.1L456.8,167.1ZM508.8,272.5L511,267L509.9,264.5L503.6,264.3L501.2,270.8L502.2,272.2ZM513.7,318.4L519.9,314.3L520.4,314.5L524.5,321.5L519.1,325.9L513.9,322.2ZM574.5,220L571.1,218.3L565.6,219.8L565,220.7L566.1,226.4L574.1,227.7L574.2,227.6ZM431.2,376.5L429.1,380L422.9,382.3L421.4,381.6L419.3,374.7L426.4,372.3L430.9,375.6ZM616.7,161.9L608.6,159.3L606.6,160.9L608,168.9L609,169.6L615.3,168.5L617.1,162.8ZM456.4,416.8L459.3,410.4L464.6,409.2L467.1,414.5L463.1,420.6L456.6,417.6ZM408.5,169.3L415.2,167L418.1,174.7L417.1,175.3L408.9,175.1ZM435.7,244.3L431.9,241L426.4,244L425.2,247.4L428.7,250.8L435.4,250.3L435.7,250ZM396.6,162.9L395.5,162.8L387.7,167.5L391.8,172.7L398.9,169.9L399.1,169.4ZM501.3,233L503.9,235.9L503.3,240.2L498.5,242.7L494.6,238.4L494.7,236.8L498.3,233.1ZM569.5,326.6L569.6,324.6L573.9,322.6L579.7,325.3L580.1,327.1L574.7,332.2L573.2,332ZM439.8,296.2L445.4,288.8L445.1,287.3L440.3,283.9L435.7,286.1L435.9,292.4L439.5,296.2ZM395.4,384.1L388.8,386.9L386,383L387.2,379.3L393.1,378.5ZM465.1,169.3L469.8,173.2L475.1,168.2L473.9,163.6L466.4,164.7ZM462.1,191.2L460.8,186.3L456.2,184.3L453.1,186.8L453.3,191.1L457.8,193.5ZM552.8,268.6L552.7,264.9L551,262.7L550,262.2L541.6,266.9L541.7,268.3L547.6,272.1ZM458.1,266.8L464.9,267.7L466.7,270.2L466.4,274.1L465,275.6L455.4,271.9ZM594.1,301.9L594.8,303.8L598.7,305.4L604.6,300L598.8,295.6L597.8,295.7ZM473.6,307L476.5,297.7L477.4,297L485.4,301.1L484.7,306.1L473.8,307.1ZM446.6,165.3L442.7,161.5L436.7,163.3L436,164.7L439.3,173.5L446.6,167.3ZM472.7,331.1L467,331.3L463.6,328.6L463.2,327.3L464.1,325.2L472.4,321.7L473.6,323.2ZM457.8,193.5L456.7,199.4L449.5,201.1L446.4,195.7L447.1,194.2L453.3,191.1ZM504.9,203.4L502.5,207.7L508.9,214.6L509.7,214.4L513.5,208.8L511.4,204.5ZM410.2,237.6L414.7,232.2L411.1,227.8L404.7,227.8L402.7,232.2L404.5,235.7ZM466,338.6L467,331.3L472.7,331.1L476,334L470.5,340.8L468.4,340.7ZM558.3,238.7L551.1,233.6L553.9,229L557.2,227.8L562.1,230.7L562.4,232ZM422.9,390.9L424,389.4L431.2,388L432.5,394.4L426.8,397.3ZM422.2,344.5L418.3,344.4L416.5,338.4L418.8,334.4L425.1,338.4ZM462.1,170.8L465.1,169.3L469.8,173.2L469.9,174.9L464.5,179.3L460.6,176.6ZM355.4,410.2L352.8,408.8L351.8,406.5L353.7,399.6L357,398.5L357.2,398.5L360.9,404.6L357.7,409.7ZM488.7,385.7L483.9,381.3L484.8,378.5L488.6,375.9L495.7,381.7L494.1,384.7ZM504.8,323.4L502.1,324.2L498.2,319L503,312.8L508.1,314.9L508.8,316.4ZM431.9,241L432.4,238.5L426.2,232.8L422.4,238.8L426.4,244ZM372.1,386.3L376.4,379.8L376.9,379.6L381,383.6L379.2,390.3L373.1,388.3ZM518.2,356.7L516.6,355.6L508.9,357.6L508.3,360.4L512.7,366.9L519.9,365.7L520.3,365.1ZM493.9,317.3L494.8,318.4L498.2,319L503,312.8L501.8,309.3L495.9,307.7L495,308.5ZM498.1,215.4L499.1,209L502.5,207.7L508.9,214.6L506,218.8L504.8,219.2ZM529.2,291L533.5,299.6L533.4,299.7L525.4,299.3L523,294.5L527,290.7ZM440.7,388.7L441.4,392.4L436.7,396.3L432.5,394.4L431.2,388L431.3,387.8L438.1,386.2ZM462.1,191.2L466.1,192.6L471.7,187L472,185.8L464.8,180.8L460.8,186.3ZM593.4,292.6L595.8,285.9L598.5,285.4L601.7,290.7L598.8,295.6L597.8,295.7ZM455,288.5L451.8,282L451.8,281.7L454.3,279.5L459.8,281L461.1,286.4L459.2,288.8ZM565,220.7L557.7,221.4L557.2,227.8L562.1,230.7L566.1,226.4ZM488.9,316L483.6,320L479.6,315.1L485.8,308.6L486.5,309ZM436,164.7L431.4,166.7L424.1,162.9L424.1,161.5L432.9,157.6L436.7,163.3ZM494.1,170.8L491.4,165.1L489.6,164.2L485.8,166.2L483.2,171.9L486,175.1L490.6,174.8ZM573.3,246.1L567.3,241.4L564.2,242.7L562.8,248.8L564.4,251.1L565.7,251.5L572.2,248.8ZM556.9,304.3L563.5,301.4L564.9,298.3L558,293L554.6,294.5L554.3,295.6ZM480.2,172.1L483.2,171.9L486,175.1L485.3,180.2L477.9,183.2L475.9,182.6L475.5,179ZM585.5,168L592,172.3L592.9,175.5L588.3,178.9L583.4,176.7L582.6,171.1ZM495.6,262.7L494.1,269L487.1,268.8L485.6,266.4L490.4,259.5ZM537.4,352.4L532.6,356.7L527.1,355.1L526.3,353.8L526.6,350.9L531.5,346.6L537.4,351.7ZM449.5,201.1L456.7,199.4L459.1,201.6L459.2,206.7L453.8,208.9L449.5,201.4ZM397.1,252.2L397.1,254.6L391.6,259.8L388.7,259L385.9,253.9L393.9,249.7ZM453.1,298.1L457.2,298.2L461.5,293.9L459.2,288.8L455,288.5L451.2,293L451.4,296.8ZM392,299.9L392.2,299.9L400.2,307.2L393.1,310.6L390.3,308.3L391.3,300.5ZM451.4,296.8L451.2,293L445.4,288.8L439.8,296.2L444.7,299.2ZM406.8,163.2L410.4,160.7L413.3,161.4L415.3,166.7L415.2,167L408.5,169.3L406.6,167.6ZM442.7,242.1L443.7,239.7L437.1,234.2L432.4,238.5L431.9,241L435.7,244.3ZM583.4,176.7L578,179.4L577.9,179.7L579.7,186.2L580.9,186.8L588.1,184.4L588.3,178.9ZM379.8,270L385.9,267.1L389.2,268.9L386.3,275.8L380.4,274.9L379.8,274.1ZM424.1,216.7L425.4,223.2L420.6,226.8L417.2,222.4L420.3,217.2ZM495.6,369.3L489,374.4L488.6,375.9L495.7,381.7L496.5,381.3L499.6,376.4L497.2,370.2ZM444.2,406.1L444.8,404.2L444.1,402.9L436.8,400.3L435,402.6L435.5,406.5L438.9,408.9ZM398.1,385.1L395.4,384.1L388.8,386.9L388.4,389.7L395,393.7L395.7,393.4ZM419.4,199.6L423.5,200.8L428.6,197.2L428.5,195.8L423.5,191.8L418.9,193.6L418.1,195.2ZM549.9,234L543.4,231.4L545.5,223.5L547.6,222.9L553.9,229L551.1,233.6ZM554.1,251.8L547.7,253.7L545.1,248.7L547.8,243.1L547.8,243.1L554,244.5L555.5,247.8ZM588.4,297.1L583.3,295.8L580.9,291.1L586.7,288.1L591.6,292.9ZM390.4,152.9L387.5,149.8L391.2,144L394.4,143.7L397.7,148.8L396.5,151.7ZM467.8,214.8L463.2,210.5L463.1,209.8L467.7,205.1L471.8,206.8L473.4,213.2L472.8,214.1ZM455,288.5L451.8,282L445.1,287.3L445.4,288.8L451.2,293ZM540.9,239.7L542.5,231.9L536.1,230.3L534.9,230.9L533.2,238.4L538.1,240.9ZM479.3,336.5L476.2,334L481.4,327.6L486.9,331L486.9,334.8ZM376.8,372.3L378.1,376.9L385.2,375.3L386.2,372.3L381.6,367.6ZM486.5,243.9L488.2,243.9L494.6,238.4L494.7,236.8L488.5,233.5L485.7,234.9L484.2,239.2ZM494.4,227.6L498.3,233.1L494.7,236.8L488.5,233.5L489.6,229.2ZM418.1,195.2L418.9,193.6L414.9,185.3L414.4,185.1L414.2,185.1L408.3,193.9L408.3,193.9L410,195.5ZM392.3,335.3L388.2,332.6L389.7,325L396.4,324L399.3,325.5L400.6,328.4L400.3,330.9ZM414.2,185.1L408.3,193.9L404.7,190.5L405.5,184.3L408.6,182.4ZM537.4,352.4L532.6,356.7L534.2,362.6L541.6,359L541.7,357.4ZM424.1,216.7L420.3,217.2L415.2,213.6L418.6,208L422.8,208.6L425,215.7ZM565.4,310.2L569.4,314.8L572.7,314.6L575,308.2L571.8,305.9L566.8,307.5ZM395.2,342.2L401.2,341.4L404.9,337.1L400.3,330.9L392.3,335.3L393.3,340.9ZM581,197.1L574.8,194.4L568.7,197.7L570.8,203.1L573.5,204.5L578.9,202.4ZM556.2,272.3L559.8,271.8L563.2,265.7L562.1,263.7L552.7,264.9L552.8,268.6ZM571.2,187.5L569.2,182.1L577.9,179.7L579.7,186.2L574,188.6ZM562.7,331.5L561.4,330.8L559.6,325L564.7,320.8L565.6,320.9L569.6,324.6L569.5,326.6ZM426.8,397.3L432.5,394.4L436.7,396.3L436.8,400.3L435,402.6L425.7,401.8ZM555.5,247.8L554,244.5L558.4,239.2L564.2,242.7L562.8,248.8ZM550.7,219.2L547.6,222.9L553.9,229L557.2,227.8L557.7,221.4L556.5,219.9ZM526.3,353.8L526.6,350.9L521.4,347.3L516.6,350.9L516.6,355.6L518.2,356.7ZM441.4,392.4L446.1,394.7L444.1,402.9L436.8,400.3L436.7,396.3ZM413.3,161.4L416.9,158L422.7,159.1L424.1,161.5L424.1,162.9L423.5,163.9L415.3,166.7ZM528.8,326.8L525.5,321.7L524.5,321.5L519.1,325.9L518.8,328L523.2,333.7L524.1,333.5ZM553.9,396.8L553.8,398.9L547.8,404.7L545.4,404.3L544.7,396.6L545.5,395.7L553.5,396.3ZM499.8,292.6L499.1,299L495,301.3L489.4,298.4L489.7,292.5L492.9,290.8ZM583.8,329.7L580.1,327.1L579.7,325.3L582.7,320.8L587.3,320L588.3,320.5L588.4,327.1ZM539.4,272.6L533.3,273.5L531.9,271.9L532.6,265.4L535.9,263.2L537.5,263.2L541.6,266.9L541.7,268.3ZM380.9,219.1L379,223.6L380.8,227.5L386.8,228.7L387.3,228.4L387.5,221.7L381.2,218.9ZM588,309.8L586.3,311.4L581.6,311.7L577.8,307.8L580.6,302.5L585.8,304.2ZM573.3,246.1L567.3,241.4L568.9,236L573.6,234.1L577.7,237.6L575.5,245ZM486.5,363.8L484.7,368.8L489,374.4L495.6,369.3L495.2,368.2L488.8,363.7ZM395.2,342.2L395.5,350.2L394,352.1L387.7,351.4L386.8,344.1L393.3,340.9ZM410,218.1L403,223.8L401.6,222.9L399.9,215.8L404.2,213.4L410.1,215ZM416.5,338.4L408.8,338.8L407,337.2L411.1,331.6L418.6,332.4L418.8,334.4ZM527.1,355.1L532.6,356.7L534.2,362.6L533.1,365.1L532.4,365.5L526.2,363.1ZM453.2,171.7L457,177.2L460.6,176.6L462.1,170.8L456.8,167.1ZM386,383L381,383.6L376.9,379.6L378.1,376.9L385.2,375.3L387.2,379.3ZM550,262.2L546.8,256.7L540.8,257.7L537.5,263.2L541.6,266.9ZM565.6,219.8L562.8,212.7L564.6,210.9L570.4,212.4L571.1,218.3ZM418.6,208L416,204L419.4,199.6L423.5,200.8L425.2,206.1L422.8,208.6ZM442.7,242.1L435.7,244.3L435.7,250L441.9,250.4L444.4,247.4ZM408.5,245.6L415.2,250.6L413.3,254L407.6,255L403.4,249L404.3,247ZM351.8,406.5L342.9,404.1L342.5,402L348.8,396.9L353.7,399.6ZM450.2,179.5L447.7,184.1L453.1,186.8L456.2,184.3L455.6,179.1ZM517.6,239.1L520.3,239.1L524.2,246.3L523.2,248.9L516.5,249.4L515.7,240.4ZM409.6,326.9L400.6,328.4L400.3,330.9L404.9,337.1L407,337.2L411.1,331.6ZM592.9,175.5L598.3,177L599,182.7L590.9,187.2L588.1,184.4L588.3,178.9ZM391,176.1L393,179.1L398.7,179.4L401,175.8L398.9,169.9L391.8,172.7ZM425.4,223.2L431.4,226.2L431.3,227.1L426.2,232.7L420.3,229.1L420.6,226.8ZM565.6,320.9L569.4,314.8L572.7,314.6L575.1,316.9L573.9,322.6L569.6,324.6ZM534.8,299.2L533.5,299.6L529.2,291L533.3,288.2L539.1,291ZM533.2,238.4L530.4,239.3L524.8,236.1L525,232.4L529.2,228.9L534.9,230.9ZM418.3,344.4L414.4,348L410.9,347.1L408.8,338.8L416.5,338.4ZM513.7,318.4L508.8,316.4L504.8,323.4L510.1,325.5L513.9,322.2ZM387.3,228.4L387.5,221.7L390.9,219.3L392,219.4L395.8,224.3L393.4,229.6ZM582.7,320.8L578.9,316.4L575.1,316.9L573.9,322.6L579.7,325.3ZM540.9,239.7L547.8,243.1L547.8,243.1L549.9,234L543.4,231.4L542.5,231.9ZM418.6,208L416,204L410.7,203.9L410.1,204.4L410.9,214.2L415.2,213.6ZM489,374.4L484.7,368.8L479.1,371.1L478.9,373.3L484.8,378.5L488.6,375.9ZM605.3,300.1L604.6,300L598.7,305.4L600.6,310.9L604.2,310.8L608.8,306.3ZM494,248.6L488.2,243.9L494.6,238.4L498.5,242.7L498.2,246.1ZM466,338.6L467,331.3L463.6,328.6L457.3,336.3L459.7,338.9ZM536.9,222L536.1,230.3L542.5,231.9L543.4,231.4L545.5,223.5L541.7,221.1ZM475.1,168.2L480.2,172.1L475.5,179L469.9,174.9L469.8,173.2ZM481.4,211.1L481.3,211.3L473.4,213.2L471.8,206.8L477.4,201.7L481.8,209.2ZM416.6,242L420.2,238.6L422.4,238.8L426.4,244L425.2,247.4L420,249.5L418.4,249.2ZM431.3,387.8L429.1,380L422.9,382.3L424,389.4L431.2,388ZM525.6,264.1L524.4,271.2L517.8,270.4L517.2,269.3L519.8,264ZM354.9,336L353.6,339.3L346.3,338.8L345.4,335.6L347.5,331.4L353.2,332.3ZM399.1,169.4L398.9,169.9L401,175.8L407.7,176.3L408.9,175.1L408.5,169.3L406.6,167.6ZM444.7,185.1L447.1,194.2L453.3,191.1L453.1,186.8L447.7,184.1ZM530.6,254.2L535.9,263.2L537.5,263.2L540.8,257.7L538.5,253.8L531.2,253.5ZM387.5,149.8L391.2,144L387.3,139.6L382.5,142.3L382,143.7L384.9,149.3ZM558.4,239.2L554,244.5L547.8,243.1L549.9,234L551.1,233.6L558.3,238.7ZM590.2,309.7L594.9,313.3L598.7,312.9L600.6,310.9L598.7,305.4L594.8,303.8ZM591.6,292.9L586.7,288.1L588.3,283.6L590.6,282.6L595.8,285.9L593.4,292.6ZM533.4,299.7L525.4,299.3L522.9,304L528.6,307.5L532.4,305ZM388.1,400L393.3,398.8L395,393.7L388.4,389.7L387.2,390.8L386.3,398.6ZM386,383L381,383.6L379.2,390.3L379.4,390.6L387.2,390.8L388.4,389.7L388.8,386.9ZM476,334L472.7,331.1L473.6,323.2L481,324.4L481.4,327.6L476.2,334ZM500.4,260.6L503.6,264.3L501.2,270.8L494.9,269.9L494.1,269L495.6,262.7ZM573.4,298.2L580.4,301.7L580.6,302.5L577.8,307.8L575,308.2L571.8,305.9L572.1,298.6ZM502.7,248.8L507.5,245.3L507.6,244.7L503.3,240.2L498.5,242.7L498.2,246.1ZM484.1,223.4L481,230.5L485.7,234.9L488.5,233.5L489.6,229.2ZM436,164.7L431.4,166.7L429.4,173.7L429.8,174.3L439.3,173.6L439.3,173.5ZM556.9,304.3L554.3,295.6L548.3,299.8L549.8,306.9L554.5,307.2L555.9,306.4ZM395.2,342.2L401.2,341.4L404.4,349.3L395.5,350.2ZM457,177.2L455.6,179.1L456.2,184.3L460.8,186.3L464.8,180.8L464.5,179.3L460.6,176.6ZM553.8,398.9L547.8,404.7L550.8,408.1L556.8,407L557.6,403.7ZM557.1,256.3L554.1,251.8L555.5,247.8L562.8,248.8L564.4,251.1L559.5,256.7ZM617,178.2L625.3,175.8L625,170.9L616.6,170.1ZM565,220.7L557.7,221.4L556.5,219.9L558.8,213L562.8,212.7L565.6,219.8ZM481,324.4L483.6,321.2L490.7,325L491.1,326.9L486.9,331L481.4,327.6ZM593.2,197.5L592.4,191.3L591.5,190.5L582.7,195.5L582.5,196.2L588.7,200.4ZM404.7,190.5L405.5,184.3L399.9,182.5L397.7,186.8L400.3,190.6ZM485.8,308.6L484.7,306.1L473.8,307.1L479,315L479.6,315.1ZM540.7,368L533.1,365.1L534.2,362.6L541.6,359L544.2,362.6ZM505.4,280.3L511.2,277.1L508.8,272.5L502.2,272.2L501.6,276.2ZM400.2,159.1L400.5,157.5L407.8,153.2L410.4,160.7L406.8,163.2ZM459.2,206.7L453.8,208.9L452.6,212L458.2,215.4L463.2,210.5L463.1,209.8ZM575,308.2L577.8,307.8L581.6,311.7L578.9,316.4L575.1,316.9L572.7,314.6ZM547.3,277.4L541.4,276.8L539.4,272.6L541.7,268.3L547.6,272.1ZM453.2,171.7L450.1,171.7L447.8,175.8L450.2,179.5L455.6,179.1L457,177.2ZM508.7,235.7L503.9,235.9L503.3,240.2L507.6,244.7L512.5,240.3Z" fill="#00BFFF" stroke="#00BFFF" stroke-width="0.6"/>
<path d="M466.4,274.1L474.1,276L476.9,273.9L476.4,269.5L473.1,267.2L466.7,270.2ZM522.5,341.6L531.7,342.6L531.9,337.2L524.1,333.5L523.2,333.7L521.5,336.2ZM493,219.1L498.1,215.4L499.1,209L493.4,206.5L489.4,214.2L491.2,218.6ZM521.5,336.2L523.2,333.7L518.8,328L511.7,331.9L511.1,333.4L514.2,336.6ZM417.6,354.8L416.7,354.2L414.4,348L418.3,344.4L422.2,344.5L426.4,348.5L426.5,349.7ZM467.8,197.5L466.1,192.6L471.7,187L477.1,193.5L476.4,198.5Z" fill="#FFFFFF" stroke="#FFFFFF" stroke-width="0.6"/>
<path d="M330.1,349.1L326.4,356.4M330.1,349.1L332.8,348.5M330.3,339.7L333.5,341.8M333.5,341.8L332.8,348.5M337.9,334.2L345.4,335.6M337.9,334.2L337.2,333.2M347.5,331.4L345.4,335.6M330.3,339.7L330,334.3M333.5,341.8L337.3,340.3M337.9,334.2L337.3,340.3M337.2,333.2L331.6,333M330,334.3L331.6,333M326.7,357.4L334,358M326.4,356.4L326.7,357.4M334.8,349.4L332.8,348.5M334.8,349.4L336.6,353.6M336.6,353.6L334,358M387.3,139.6L382.5,142.3M383.9,237.3L381,242.6M342.5,402L341.7,401.4M342.5,402L342.9,404.1M342.9,404.1L340.7,409.8M331.2,406.3L340.7,409.8M331.2,406.3L331.2,406.2M341.7,401.4L334.1,401.3M331.2,406.2L334.1,401.3M329.4,410.1L331.2,406.3M524.4,271.2L525.6,264.1M517.2,269.3L519.8,264M519.8,264L525.6,264.1M511,267L517.2,269.3M511,267L509.9,264.5M516.6,259.5L511.9,260.5M509.9,264.5L511.9,260.5M381.5,322.5L379.6,323.7M379.5,329.2L379.6,323.7M388.2,332.6L389.7,325M387.9,332.6L379.5,329.2M326.7,357.4L325.3,362M337.3,340.3L342.1,343.6M334.8,349.4L341.1,346.2M345.4,335.6L346.3,338.8M342.1,343.6L344.4,342.6M363.6,337.4L363.6,341.2M369.1,334.5L363.6,337.4M369.1,334.5L374,338.8M609,169.6L608,168.9M508.7,255.2L511.9,260.5M518,257.5L516.6,259.5M518,257.5L516,249.9M516,249.9L512,250.5M545.5,223.5L547.6,222.9M553.9,229L547.6,222.9M543.4,231.4L545.5,223.5M524.1,333.5L528.8,326.8M524.1,333.5L531.9,337.2M531.9,337.2L533.2,335.8M533.2,335.8L533.8,328.2M518.8,328L523.2,333.7M523.2,333.7L524.1,333.5M525.5,321.7L524.5,321.5M525.5,321.7L528.8,326.8M519.1,325.9L518.8,328M540.3,335.9L533.2,335.8M543.1,332.2L540.3,335.9M536.8,326.5L543.1,331.9M543.1,332.2L543.1,331.9M536.8,326.5L533.8,328.2M473.6,282.2L480.4,283.5M473.6,282.2L474.1,276M481.5,282.6L480.4,283.5M481,275.6L481.5,282.6M481,275.6L476.9,273.9M476.9,273.9L474.1,276M485.6,266.4L482.3,265M487.1,268.8L485.6,266.4M485.5,273.8L481,275.6M487.1,268.8L485.5,273.8M476.9,273.9L476.4,269.5M482.3,265L476.4,269.5M430.8,276.9L431.1,277.1M430.8,276.9L428.5,267.8M431.1,277.1L437.3,275.3M428.5,267.8L435.4,265.7M435.4,265.7L437.8,274.4M437.3,275.3L437.8,274.4M392,219.4L395.8,224.3M392,219.4L397.5,215M397.5,215L399.9,215.8M399.9,215.8L401.6,222.9M395.8,224.3L401.6,222.9M380.1,153.3L383.1,159.3M382,143.7L384.9,149.3M380.1,153.3L384.9,149.3M384.9,149.3L387.5,149.8M598.3,177L599,182.7M606.6,185.3L609.9,179.2M606.6,185.3L602.4,186.2M602.4,186.2L599,182.7M570.8,203.1L573.5,204.5M573.5,204.5L573.8,209.5M564.6,210.9L564.8,206.9M564.6,210.9L570.4,212.4M564.8,206.9L570.8,203.1M573.8,209.5L570.4,212.4M342.9,404.1L351.8,406.5M342.5,402L348.8,396.9M348.8,396.9L353.7,399.6M351.1,455.7L357.3,461M353.1,452.2L351.1,455.7M389.2,316.5L392.9,314.9M392.9,314.9L395.6,316.7M389.7,325L396.4,324M501.2,270.8L502.2,272.2M503.6,264.3L509.9,264.5M511,267L508.8,272.5M502.2,272.2L508.8,272.5M515.4,278.5L511.2,277.1M511.2,277.1L508.8,272.5M487.1,268.8L494.1,269M494.1,269L494.9,269.9M494.9,269.9L493.8,276.3M489.8,278.4L493.8,276.3M509,286.9L509.7,292.3M509,286.9L515.3,282M509.7,292.3L516.9,291.9M516.9,291.9L518.1,286.5M525.4,272.6L524.1,278.4M524.4,271.2L525.4,272.6M515.4,278.5L515.4,278.6M524.1,278.4L515.4,278.6M508.3,349.7L503,348.3M503,348.3L500.5,350.7M504.1,362.5L498.3,360.5M498.3,360.5L497.4,358.6M508.3,360.4L504.1,362.5M508.3,360.4L508.9,357.6M508.9,357.6L516.6,355.6M516.6,355.6L516.6,350.9M516.6,350.9L511.6,346.5M511.6,346.5L508.3,349.7M511.6,346.5L511.7,345.2M502.4,343.3L503,348.3M334,358L337.8,363.6M337.8,363.6L342.1,361.9M341.1,346.2L344.1,352.3M348.8,396.9L347.9,392.2M356.8,390.1L357,398.5M356.5,389.9L356.8,390.1M353.7,399.6L357,398.5M356.5,389.9L351.7,389.2M347.9,392.2L351.7,389.2M559.5,202.8L559.6,199.8M549.8,204.2L548.6,200.3M479.7,290.9L480.4,283.5M478,292.3L479.7,290.9M478,292.3L472.7,288.9M473.6,282.2L473.2,282.6M473.2,282.6L472.7,288.9M381,242.6L383.8,247.3M383.8,247.3L382.9,250.1M428.8,285.5L422.5,283.1M431.6,284.2L428.8,285.5M431.1,277.1L431.6,284.2M430.8,276.9L422.3,277.9M422.3,277.9L422.5,283.1M379,223.6L380.8,227.5M345.6,456.6L338.2,459.1M343,449.2L335,452M346.9,457.2L345.6,456.6M346.9,457.2L348,466.6M328.4,426L329,434.1M353.2,332.3L354.9,336M354.9,336L361.4,335.1M347.5,331.4L353.2,332.3M346.3,338.8L353.6,339.3M353.6,339.3L354.9,336M355.8,344.6L353.6,339.3M355.8,344.6L360.7,344M360.7,344L363.6,341.2M363.6,337.4L361.4,335.1M377.5,335.7L383.1,337.9M377.5,335.7L374.1,338.8M378.6,345.1L383.6,342.5M383.1,337.9L383.6,342.5M387.9,332.6L383.1,337.9M374,338.8L374.1,338.8M378.1,376.9L385.2,375.3M386.2,372.3L385.2,375.3M378.1,376.9L376.8,372.3M386.2,372.3L381.6,367.6M381.6,367.6L376.8,372.3M334.1,401.3L332.7,397.3M327.8,395.3L332.7,397.3M327.8,395.3L327.2,392.2M505,335.2L505,335.1M505,335.2L494.9,336.5M494.9,336.5L494.9,329M514.2,336.6L521.5,336.2M514.2,336.6L514.2,342.7M521.5,336.2L522.5,341.6M522.5,341.6L521,343.7M518.8,328L511.7,331.9M511.7,331.9L511.1,333.4M511.1,333.4L514.2,336.6M511.7,345.2L514.2,342.7M505,335.1L511.1,333.4M521.4,347.3L516.6,350.9M521.4,347.3L521,343.7M531.7,342.6L531.9,337.2M531.7,342.6L522.5,341.6M531.5,346.6L526.6,350.9M531.5,346.6L531.7,342.7M531.7,342.6L531.7,342.7M526.6,350.9L521.4,347.3M526.2,363.1L520.3,365.1M526.2,363.1L527.1,355.1M520.3,365.1L518.2,356.7M518.2,356.7L526.3,353.8M527.1,355.1L526.3,353.8M534.2,362.6L532.6,356.7M532.6,356.7L527.1,355.1M532.4,365.5L526.2,363.1M533.1,365.1L532.4,365.5M533.1,365.1L534.2,362.6M512.7,366.9L519.9,365.7M512.7,366.9L508.3,360.4M519.9,365.7L520.3,365.1M526.6,350.9L526.3,353.8M504.1,362.5L502.6,368M510.5,370.9L508.3,371.3M615.3,168.5L609,169.6M615.3,168.5L617.1,162.8M617.1,162.8L616.7,161.9M524.8,236.1L530.4,239.3M529.3,244L530.4,239.3M524.8,236.1L520.3,239.1M524.2,246.3L520.3,239.1M558.8,213L556.5,219.9M556.5,219.9L550.7,219.2M549.4,213.9L550.7,219.2M559.5,202.8L564.8,206.9M564.6,210.9L562.8,212.7M562.8,212.7L558.8,213M546.8,208.2L549.8,204.2M548.1,213.1L549.4,213.9M557.2,227.8L557.7,221.4M557.7,221.4L556.5,219.9M553.9,229L557.2,227.8M583.5,232.9L579.3,237.3M590.5,235.5L583.5,232.9M579.3,237.3L586.4,242.2M557.2,227.8L562.1,230.7M562.1,230.7L562.4,232M562.4,232L558.3,238.7M554,244.5L558.4,239.2M558.3,238.7L558.4,239.2M568.9,236L562.4,232M518,257.5L526,255.9M525.6,264.1L526.1,263.7M531.9,271.9L532.6,265.4M525.4,272.6L531.9,271.9M526.1,263.7L532.6,265.4M516,249.9L516.5,249.4M516.5,249.4L523.2,248.9M526,255.9L526.9,254.7M494.1,269L495.6,262.7M485.6,266.4L490.4,259.5M490.4,259.5L495.6,262.7M503.6,264.3L500.4,260.6M501.2,270.8L494.9,269.9M495.6,262.7L500.4,260.6M377.8,185.3L381.4,189.5M380.5,194.7L381.4,189.5M476.4,269.5L473.1,267.2M473.1,267.2L466.7,270.2M474.1,276L466.4,274.1M466.7,270.2L466.4,274.1M445.8,272L437.8,274.4M437.3,275.3L440.8,281.6M435.5,265.6L440.2,265.5M435.5,265.6L435,258.9M445.1,260L440.2,265.5M435.4,265.7L435.5,265.6M445.8,272L446.3,271.1M440.2,265.5L446.3,271.1M380.5,194.7L382.5,197.3M389.7,189.1L387.6,195.8M387.6,195.8L382.5,197.3M389.8,189.1L395.7,194.8M389.8,189.1L389.7,189.1M395.7,194.8L391.9,200.9M405.7,270.8L404.9,269.8M405.7,270.8L414.6,267.3M404.9,269.8L405.8,261.3M414.6,267.3L415.1,263.1M390.9,219.3L392,219.4M395.8,224.3L393.4,229.6M390.9,219.3L387.5,221.7M393.4,229.6L387.3,228.4M380.8,227.5L386.8,228.7M383.9,237.3L384.6,237.1M386.8,228.7L384.6,237.1M377.8,185.3L377.9,185.1M383.1,159.3L385.1,159.8M385.1,159.8L387.4,167.5M383.8,169.3L387.4,167.5M383.8,169.3L383.7,175.8M384.6,181.6L384.9,176.9M384.6,181.6L377.9,185.1M383.7,175.8L384.9,176.9M389.8,189.1L390.4,187.6M390.4,187.6L390,185.4M387.7,167.5L387.4,167.5M387.7,167.5L395.5,162.8M395.5,162.8L389.4,157.3M387.5,149.8L390.4,152.9M397.7,148.8L396.5,151.7M389.4,157.3L390.4,152.9M422.7,159.1L423.8,153.9M422.7,159.1L416.9,158M574.8,194.4L568.7,197.7M574.8,194.4L574,188.6M568.7,197.7L566,195.9M570.8,203.1L568.7,197.7M579.7,186.2L577.9,179.7M579.7,186.2L574,188.6M512.5,240.3L515.7,240.4M512.5,240.3L508.7,235.7M515.7,240.4L517.6,239.1M517.6,239.1L515.5,230.9M516.5,249.4L515.7,240.4M507.6,244.7L507.5,245.3M512,250.5L507.5,245.3M507.6,244.7L512.5,240.3M507.6,244.7L503.3,240.2M503.3,240.2L503.9,235.9M503.9,235.9L508.7,235.7M523.2,248.9L524.2,246.3M520.3,239.1L517.6,239.1M524.8,236.1L525,232.4M536.1,230.3L534.9,230.9M534.9,230.9L533.2,238.4M542.5,231.9L540.9,239.7M533.2,238.4L538.1,240.9M538.1,240.9L540.9,239.7M530.4,239.3L533.2,238.4M547.8,243.1L540.9,239.7M543.4,231.4L542.5,231.9M529.3,244L532.7,248M537.4,246.1L538.1,240.9M545.1,248.7L540.6,249.1M537.4,246.1L540.6,249.1M547.8,243.1L545.1,248.7M592.9,175.5L592,172.3M588.1,184.4L580.9,186.8M580.9,186.8L579.7,186.2M588.1,184.4L590.9,187.2M598.3,177L592.9,175.5M602.6,195.4L602.5,195.6M602.6,195.4L609.4,194.7M609.4,194.7L612,202.2M612,202.2L605.6,204.6M600.8,191.5L602.4,186.2M612.4,190.9L606.6,185.3M612.4,190.9L609.4,194.7M600.8,191.5L602.6,195.4M573.5,204.5L578.9,202.4M574.8,194.4L581,197.1M578.9,202.4L581,197.1M577.6,212.3L573.8,209.5M581.3,211.2L577.6,212.3M357.2,398.5L360.9,404.6M357.2,398.5L364.3,396.6M364.3,396.6L366.9,400.1M360.9,404.6L365.2,404.4M419.6,309.9L420.7,305M419.6,309.9L423.7,313.3M416.5,311L419.6,309.9M416.3,301.3L420.7,305M418.4,296.4L416.3,301.3M418.4,296.4L425.3,295.8M426.7,294.9L426.5,294.9M425.3,295.8L426.5,294.9M388.2,332.6L392.3,335.3M399.3,325.5L396.4,324M400.6,328.4L399.3,325.5M479,383.8L479.6,383.8M479,383.8L473.3,378.8M483.9,381.3L479.6,383.8M484.8,378.5L478.9,373.3M484.8,378.5L483.9,381.3M478.9,373.3L473.3,378.8M400.7,314.5L405.3,318.3M406.9,307.2L403.7,305.7M406.9,307.2L408.6,314.9M408.6,314.9L405.9,318.3M400.6,307.3L403.7,305.7M405.3,318.3L405.9,318.3M395.6,316.7L400.7,314.5M393.1,310.6L392.9,314.9M400.2,307.2L393.1,310.6M400.2,307.2L400.6,307.3M404.4,299.8L410.5,298.1M414.3,314.4L408.6,314.9M416.5,311L414.3,314.4M481.5,282.6L486.5,283.3M489.8,278.4L489.4,281M486.5,283.3L489.4,281M479.7,290.9L487.7,290.9M502.2,272.2L501.6,276.2M511.2,277.1L505.4,280.3M501.6,276.2L505.4,280.3M493.8,276.3L497.6,278.4M501.6,276.2L497.6,278.4M515.4,278.6L515.3,282M504.7,283.6L505.4,280.3M522.9,304L525.4,299.3M525.4,299.3L533.4,299.7M528.6,307.5L532.4,305M532.4,305L533.4,299.7M433.1,414.2L430.5,419.9M347.1,352.5L349.7,357M354,347.1L350.9,347.7M354,347.1L357.4,354.9M349.7,357L354.6,357.6M357.4,354.9L354.6,357.6M342.1,361.9L345,362.6M345,362.6L349.7,357M344.1,352.3L347.1,352.5M344.4,342.6L350.9,347.7M355.8,344.6L354,347.1M360.2,355L363.9,350.5M360.2,355L357.4,354.9M355.4,364.6L354.7,365.8M355.4,364.6L354.6,357.6M355.4,364.6L364.3,362.9M364.3,362.9L365.4,360.5M362.1,372.2L367.8,376.8M355.4,369.6L354.7,365.8M358.6,372.8L362.1,372.2M358.6,372.8L355.4,369.6M358.8,381.9L356.5,379.4M356.5,379.4L358.6,372.8M365.3,382.8L367.9,376.9M367.9,376.9L367.8,376.8M358.8,381.9L365.3,382.8M356.5,379.4L349.9,380.4M351.7,389.2L349.7,380.9M349.9,380.4L349.7,380.9M493.8,192.6L497,188.1M493.8,192.6L493.8,194M502.1,198.2L497.2,197.7M497.2,197.7L493.8,194M486.7,188.5L483.9,190M493.8,192.6L486.7,188.5M493.8,194L486.6,198.7M485.3,180.2L477.9,183.2M483.9,190L482.8,189.8M482.8,189.8L477.9,183.2M548.1,213.1L542.3,214.9M545.5,223.5L541.7,221.1M536.1,230.3L536.9,222M546.8,208.2L540.2,207M582.8,265.7L589,268M589,268L592.8,261.9M580.8,260.2L572.8,262.5M578.4,270.9L577,270.9M577,270.9L572,266M572.8,262.5L572,266M578.4,270.9L582.8,265.7M589.9,270.9L596.9,270.9M594.7,261.5L592.8,261.9M594.7,261.5L598.8,267.7M589.9,270.9L589,273.1M592,278.6L589,273.1M578.4,270.9L582.8,275.5M589,273.1L582.8,275.5M612,212.3L614.7,217.5M612,212.3L609.4,212.3M593.7,219L593.6,218.9M596.6,213.4L600.5,213M596.6,213.4L593.6,218.9M604.2,207.3L609.4,212.3M604.2,207.3L600.5,213M573.6,234.1L568.9,236M562.1,230.7L566.1,226.4M574.1,227.7L566.1,226.4M570.4,212.4L571.1,218.3M571.1,218.3L565.6,219.8M566.1,226.4L565,220.7M565.6,219.8L565,220.7M585.1,225.1L583,227.4M585.1,225.1L582.8,219.8M583,227.4L574.2,227.6M582.8,219.8L576.5,218.9M574.2,227.6L574.5,220M576.5,218.9L574.5,220M593.7,219L590.9,225.4M590.9,225.4L585.1,225.1M585.4,215.3L587.4,214.7M587.4,214.7L593.6,218.9M583.5,232.9L583,227.4M574.1,227.7L574.2,227.6M573.6,234.1L577.7,237.6M579.3,237.3L577.7,237.6M581.3,211.2L585.4,215.3M571.1,218.3L574.5,220M592.5,234.7L597.4,239.9M592.5,234.7L594,229.7M597.4,239.9L601.9,238.6M590.9,225.4L594,229.7M590.5,235.5L592.5,234.7M459.8,281L464.7,277.3M459.8,281L461.1,286.4M465.6,286L467.6,282.1M464.7,277.3L467.6,282.1M468.7,290.3L465.6,286M472.7,288.9L468.7,290.3M465,275.6L466.4,274.1M465,275.6L464.7,277.3M426.1,293.4L426.5,294.9M426.7,294.9L435.9,292.4M426.1,293.4L428.8,285.5M435.7,286.1L435.9,292.4M440.8,281.6L440.3,283.9M435.7,286.1L440.3,283.9M470.6,309.7L463.1,310.6M463.1,310.6L463.7,316.7M462.3,318.4L464.1,325.2M472.4,321.7L464.1,325.2M462.3,318.4L463.7,316.7M485.4,301.1L484.7,306.1M484.7,306.1L473.8,307.1M477.4,297L476.5,297.7M476.5,297.7L473.6,307M473.8,307.1L473.6,307M489.7,292.5L487.7,290.9M478,292.3L477.4,297M489.4,298.4L485.4,301.1M489.4,298.4L489.7,292.5M479,315L473.8,307.1M473.2,307.1L473.6,307M473.2,307.1L470.6,309.7M384.3,253.2L379.4,257.7M382.9,250.1L384.3,253.2M395.3,274.3L390.9,279.3M390.9,279.3L395.5,284M399.6,277.1L395.3,274.3M399.6,277.1L399.3,283.2M395.5,284L399.3,283.2M407.5,276.1L405.9,274M407.5,276.1L406.1,282.2M406.1,282.2L401.7,284.5M399.3,283.2L401.7,284.5M414.6,276.9L421.8,277.3M422.5,270.9L421.8,277.3M405.9,274L405.7,270.8M407.5,276.1L414.3,277.1M414.3,277.1L414.6,276.9M428.5,267.8L427.2,267.4M427.2,267.4L422.5,270.9M422.3,277.9L421.8,277.3M411.1,285.4L409.2,290.7M411.1,285.4L414.1,284.2M415.8,292.9L411.7,293.3M418.9,287.7L418.8,286.6M411.7,293.3L409.2,290.7M406.1,282.2L411.1,285.4M414.3,277.1L414.1,284.2M422.5,283.1L418.8,286.6M418.4,296.4L415.8,292.9M426.1,293.4L418.9,287.7M410.5,298.1L411.7,293.3M404.4,299.8L400.9,294.6M342,436.9L340.3,443.7M346.7,437L348.9,445.2M340.3,443.7L343.5,447.6M348.7,445.4L348.9,445.2M338.5,433.7L331.8,436.8M338.5,433.7L342,436.9M343,449.2L343.5,447.6M346.9,457.2L351.1,455.7M353.1,452.2L348.7,445.4M357.5,443.9L355.8,442.4M355.8,442.4L348.9,445.2M337.2,427.7L328.6,425.6M333.4,417.2L328.3,421.5M328.3,421.5L328.6,425.6M344.9,427.1L344.9,419.6M344.9,427.1L338.9,430M338.9,430L337.2,427.7M338.9,430L338.5,433.7M328.4,426L328.6,425.6M329.4,410.1L333.4,417.2M378.6,345.1L377.8,347.2M371.2,350.2L377.8,347.2M363.9,350.5L371.1,350.4M371.2,350.2L371.1,350.4M337.8,363.6L335.9,366.9M325.3,362L334.2,367.4M335.9,366.9L334.2,367.4M531.7,342.7L541.9,342.6M541.9,342.6L541.9,342.5M502.1,324.2L498.2,319M494.8,318.4L498.2,319M494.9,329L491.1,326.9M494.8,318.4L490.7,325M490.7,325L491.1,326.9M479,315L479.6,315.1M484.7,306.1L485.8,308.6M502.4,343.3L494.9,343.1M494.9,336.5L494.9,336.5M494.9,336.5L494.9,343.1M508.8,316.4L513.7,318.4M510.1,325.5L504.8,323.4M510.1,325.5L513.9,322.2M502.1,324.2L504.8,323.4M508.1,314.9L503,312.8M508.1,314.9L508.8,316.4M511.7,331.9L510.1,325.5M519.1,325.9L513.9,322.2M524.5,321.5L520.4,314.5M520.4,314.5L519.9,314.3M519.9,314.3L513.7,318.4M516.7,300.3L520.3,304.7M516.7,300.3L511.8,300.8M511.8,300.8L510.2,305.7M520.3,304.7L517.9,309.8M517.9,309.8L512.3,308.6M510.2,305.7L512.3,308.6M519.1,294.2L523,294.5M519.1,294.2L516.7,300.3M523,294.5L525.4,299.3M522.9,304L520.3,304.7M516.9,291.9L519.1,294.2M509.7,292.3L508.7,293.3M508.7,293.3L508.7,296.8M508.7,296.8L511.8,300.8M528,310.9L528.6,307.5M528,310.9L520.4,314.5M519.9,314.3L517.9,309.8M503.1,300.7L499.1,299M503.1,300.7L504.5,306M495.9,307.7L501.8,309.3M495,301.3L499.1,299M504.5,306L501.8,309.3M510.2,305.7L504.5,306M503,312.8L501.8,309.3M510.5,370.9L514.2,377.2M508.3,371.3L503.9,376.6M499.6,376.4L497.2,370.2M499.6,376.4L496.5,381.3M495.7,381.7L496.5,381.3M488.6,375.9L489,374.4M489,374.4L495.6,369.3M497.2,370.2L495.6,369.3M502.6,368L497.2,370.2M503.9,376.6L499.6,376.4M484.8,378.5L488.6,375.9M478.9,373.3L479.1,371.1M484.7,368.8L479.1,371.1M498.3,360.5L495.2,368.2M495.2,368.2L495.6,369.3M623.9,155.3L625.4,150M618.1,156.8L623.9,155.3M620,146.7L625.4,150M564.4,251.1L559.5,256.7M555.5,247.8L554.1,251.8M554.1,251.8L557.1,256.3M559.5,256.7L557.1,256.3M554,244.5L555.5,247.8M547.7,253.7L545.1,248.7M547.7,253.7L554.1,251.8M596.1,246L594.1,252.5M588,253.2L594.1,252.5M588,253.2L587.5,252.5M587.5,252.5L588.4,245.1M586.4,242.2L586.5,243.3M588.4,245.1L586.5,243.3M564.4,251.1L565.7,251.5M562.1,263.7L563.2,265.7M568.2,267.6L563.2,265.7M572,266L568.2,267.6M525.5,321.7L533.4,316.5M533.4,316.5L533.4,316.5M536.8,326.5L537.4,324.9M533.4,316.5L537.4,324.9M543.1,331.9L547.6,327.4M547.6,327.4L543.9,321.3M537.5,263.2L535.9,263.2M537.5,263.2L540.8,257.7M535.9,263.2L530.6,254.2M540.8,257.7L538.5,253.8M538.5,253.8L531.2,253.5M531.2,253.5L530.6,254.2M532.6,265.4L535.9,263.2M526.9,254.7L530.6,254.2M546.8,256.7L547.7,253.7M546.8,256.7L540.8,257.7M540.6,249.1L538.5,253.8M532.7,248L531.2,253.5M490.4,259.5L489.5,255.9M482.3,265L480.7,261.4M481.8,258.2L480.7,261.4M481.8,258.2L489.3,255.9M489.3,255.9L489.5,255.9M498.2,246.1L494,248.6M498.2,246.1L502.7,248.8M502.7,248.8L503.1,254.7M494,248.6L493.6,252.8M493.6,252.8L501.1,256.5M503.1,254.7L501.1,256.5M488.2,243.9L494,248.6M498.5,242.7L494.6,238.4M498.5,242.7L498.2,246.1M498.5,242.7L503.3,240.2M507.5,245.3L502.7,248.8M508.7,255.2L503.1,254.7M489.5,255.9L493.6,252.8M500.4,260.6L501.1,256.5M454.3,279.5L459.8,281M454.3,279.5L454.8,272.2M465,275.6L455.4,271.9M454.8,272.2L455.4,271.9M446.3,271.1L448.3,270.2M454.3,279.5L451.8,281.7M454.8,272.2L448.3,270.2M466.7,270.2L464.9,267.7M464.9,267.7L458.1,266.8M455.4,271.9L458.1,266.8M445.1,260L449.1,264.2M440.3,283.9L445.1,287.3M451.8,281.7L451.8,282M451.8,282L445.1,287.3M477.1,193.5L471.7,187M475.9,182.6L477.9,183.2M475.9,182.6L472,185.8M471.7,187L472,185.8M477.1,193.5L476.4,198.5M476.4,198.5L477.5,200M466.1,192.6L471.7,187M476.4,198.5L467.8,197.5M397.5,215L395.5,210.9M395.5,210.9L390.8,209.2M391.9,200.9L392,201.4M392,201.4L389.8,204.4M382.5,197.3L381.6,203.4M389.8,204.4L381.6,203.4M380.8,204L381.6,203.4M415.6,232.2L420.2,238.6M420.3,229.1L426.2,232.7M420.2,238.6L422.4,238.8M422.4,238.8L426.2,232.8M426.2,232.7L426.2,232.8M391.6,259.8L388.7,259M391.6,259.8L397.1,254.6M385.9,253.9L388.7,259M385.9,253.9L393.9,249.7M397.1,254.6L397.1,252.2M393.9,249.7L397.1,252.2M397.7,186.8L399.9,182.5M397.7,186.8L400.3,190.6M400.3,190.6L404.7,190.5M390.4,187.6L397.7,186.8M404.7,190.5L408.3,193.9M408.6,182.4L414.2,185.1M416.9,158L413.3,161.4M423.5,163.9L424.1,162.9M424.1,162.9L424.1,161.5M422.7,159.1L424.1,161.5M423.5,163.9L415.3,166.7M398.9,169.9L401,175.8M401,175.8L398.7,179.4M398.7,179.4L393,179.1M393,179.1L391,176.1M391.8,172.7L391,176.1M408.6,182.4L407.7,176.3M407.7,176.3L401,175.8M399.9,182.5L398.7,179.4M390,185.4L393,179.1M387.7,167.5L391.8,172.7M420.3,229.1L420.6,226.8M431.4,226.2L425.4,223.2M431.4,226.2L431.3,227.1M452.2,222.1L448.8,215.3M449.7,225L452.2,222.1M449.7,225L442.1,223M448.8,215.3L442,218.2M399.9,215.8L404.2,213.4M404.2,213.4L402.6,204.9M395.5,210.9L401.6,204.3M402.6,204.9L401.6,204.3M392,201.4L401.2,203.6M390.8,209.2L389.8,204.4M401.6,204.3L401.2,203.6M401.2,203.6L401.7,199M408.3,193.9L408.3,193.9M401.7,199L408.3,193.9M590.9,187.2L591.5,190.5M580.9,186.8L582.7,195.5M582.7,195.5L582.5,196.2M600.8,191.5L592.4,191.3M591.5,190.5L592.4,191.3M590.7,207.4L592.7,207.6M588.7,200.4L593.2,197.5M597.2,204.3L596.9,199.5M596.9,199.5L593.2,197.5M587.4,214.7L590.7,207.4M596.6,213.4L592.7,207.6M582.5,196.2L588.7,200.4M604.1,206.8L597.2,204.3M604.1,206.8L604.2,207.3M592.4,191.3L593.2,197.5M604.1,206.8L605.6,204.6M602.5,195.6L596.9,199.5M433.1,414.2L430.6,410.4M430.6,410.4L429.9,410.2M378.1,376.9L376.9,379.6M367.9,376.9L376.4,379.8M376.9,379.6L376.4,379.8M364,390.5L365.3,392.9M364,390.5L366,384.2M370.5,392.6L373.1,388.3M366,384.2L372.1,386.3M373.1,388.3L372.1,386.3M357,398.5L357.2,398.5M364.3,396.6L365.3,392.9M365.3,382.8L366,384.2M366.9,400.1L371.4,399.6M373.2,397.1L371.4,399.6M373.2,397.1L370.5,392.6M379.4,390.6L378.6,396.4M379.4,390.6L379.2,390.3M379.2,390.3L373.1,388.3M376.4,379.8L372.1,386.3M381,383.6L376.9,379.6M381,383.6L379.2,390.3M344.9,419.6L346,418.3M346,418.3L345.2,414.3M351.8,406.5L352.8,408.8M345.2,414.3L352.8,408.8M431.4,317.1L424.4,316M427.5,324.5L423.7,322.4M423.7,322.4L422.7,319.5M422.7,319.5L424.4,316M423.7,313.3L424.4,316M432.9,315.9L438.3,317.2M438.3,317.2L441.3,313.4M431.4,317.1L432.9,315.9M439.7,307.1L435.3,301.7M435.9,292.4L439.5,296.2M435.3,301.7L439.5,296.2M445.4,288.8L445.1,287.3M439.5,296.2L439.8,296.2M405.3,349.8L404.4,349.3M405.3,349.8L410.9,347.1M408.8,338.8L410.9,347.1M411.1,331.6L418.6,332.4M411.1,331.6L409.6,326.9M419.2,328.6L419.4,330.8M419.4,330.8L418.6,332.4M400.6,328.4L409.6,326.9M427.7,330.5L427.5,324.5M423.7,322.4L419.2,328.6M461,391.2L470.2,389.7M459.7,390.4L461,391.2M459.7,390.4L459.7,390.4M459.7,390.4L462.8,381.4M479,383.8L472.6,390.8M470.2,389.7L471.7,390.8M472.6,390.8L471.7,390.8M473.3,378.8L472.5,378.7M492.9,290.8L494.5,284.8M492.9,290.8L499.8,292.6M499.8,292.6L500.8,291.9M500.8,291.9L501.4,285.2M494.5,284.8L497.7,283.4M501.4,285.2L497.7,283.4M489.7,292.5L492.9,290.8M499.1,299L499.8,292.6M489.4,298.4L495,301.3M508.7,293.3L500.8,291.9M504.7,283.6L501.4,285.2M497.6,278.4L497.7,283.4M557.1,256.3L551,262.7M562.1,263.7L552.7,264.9M552.7,264.9L551,262.7M479.6,383.8L483.1,391.9M483.1,391.9L480.5,395.7M479.2,395.6L480.5,395.7M483.1,391.9L486.4,390.9M483.9,381.3L488.7,385.7M486.4,390.9L488.7,385.7M495.7,381.7L494.1,384.7M494.1,384.7L488.7,385.7M491.4,394.1L488.4,401M480.5,395.7L484,401M461,391.2L463.8,398.6M479.2,395.6L472.2,402.3M452.5,395.1L454.5,402.1M459.7,390.4L452.5,395.1M454.5,402.1L462,401.1M459.3,410.4L456.4,416.8M459.3,410.4L464.6,409.2M456.6,417.6L456.4,416.8M454,405L459.3,410.4M453.8,403.6L454.5,402.1M453.8,403.6L454,405M438.9,408.9L444.2,406.1M444.2,406.1L447.7,413.3M447.7,413.3L445.9,415.1M430.6,410.4L435.5,406.5M435.5,406.5L438.9,408.9M446.2,423L445.9,415.1M436.8,400.3L444.1,402.9M436.8,400.3L435,402.6M444.8,404.2L444.1,402.9M453.8,403.6L444.8,404.2M327.2,392.2L332.1,388.5M349.6,380.1L340.6,376.4M349.9,380.4L349.6,380.1M339.3,383.5L340.6,376.4M485.3,180.2L486,175.1M486,175.1L490.6,174.8M475.9,182.6L475.5,179M475.5,179L480.2,172.1M618.7,226.6L619.1,227.5M624.5,184.7L630.8,191.4M626.4,211.4L623.3,210.1M621.5,210.5L623.3,210.1M621.5,210.5L618.8,218.3M620.4,220.7L618.8,218.3M618.7,226.6L620.4,220.7M614.7,217.5L618.8,218.3M594.7,261.5L597.6,258.2M606.4,262.2L597.6,258.2M597.6,258.2L597.6,256.8M388.7,259L384.8,262.8M385.9,253.9L384.3,253.2M379.4,257.7L380.5,261.4M384.8,262.8L380.5,261.4M395.2,272.8L389.7,268.8M395.2,272.8L399.4,268.7M389.7,268.8L393.3,263.8M399.4,268.7L397.4,264.6M393.3,263.8L397.4,264.6M395.3,274.3L395.2,272.8M404.9,269.8L399.4,268.7M401.4,259.7L405,260.2M405.8,261.3L405,260.2M401.4,259.7L397.1,254.6M385.7,314L386.3,309.6M385.7,314L381.5,315.5M386.3,309.6L383.5,307.3M389.2,316.5L385.7,314M393.1,310.6L390.3,308.3M381.5,322.5L381.5,315.5M378.9,284L379.8,284.8M390.9,279.3L388.9,279.3M395.5,284L393.4,288.5M384.4,285.5L387.4,289.7M387.4,289.7L393.4,288.5M400.9,294.6L398.2,294.7M393.4,288.5L398.2,294.7M400.2,307.2L392.2,299.9M398.2,294.7L392.2,299.9M418.9,361.5L420.1,364.5M411.5,363.7L418.9,361.5M416.8,371.2L420.1,364.5M418.5,374.4L416.8,371.2M386.2,372.3L391.9,370.1M391.9,370.1L392.7,367.7M392.7,367.7L389.6,362.4M394,352.1L387.7,351.4M394,352.1L395.5,350.2M395.5,350.2L395.2,342.2M387.7,351.4L386.8,344.1M386.8,344.1L393.3,340.9M393.3,340.9L395.2,342.2M384.1,354.1L387.7,351.4M395.7,356.6L389.6,362.4M395.7,356.6L394,352.1M404.4,349.3L395.5,350.2M384.1,354.1L383.7,354.1M383.6,342.5L386.8,344.1M392.3,335.3L393.3,340.9M370.2,358.7L371.9,355.5M371.9,355.5L379.9,356.8M365.4,360.5L370.2,358.7M371.1,350.4L371.9,355.5M383.7,354.1L379.9,356.8M333,377.2L329.1,373.7M333,377.2L332.6,383.8M332.5,383.9L332.6,383.8M334.2,367.4L329.1,373.7M339.3,383.5L332.6,383.8M332.1,388.5L332.5,383.9M541.7,357.4L537.4,352.4M537.4,351.7L537.4,352.4M541.6,359L541.7,357.4M531.5,346.6L537.4,351.7M543.1,332.2L549,336.8M541.9,342.5L548.3,339.4M549,336.8L548.3,339.4M486.9,331L491.1,326.9M483.6,321.2L481,324.4M483.6,321.2L490.7,325M481.4,327.6L481,324.4M483.6,320L479.6,315.1M483.6,321.2L483.6,320M472.4,321.7L473.6,323.2M481,324.4L473.6,323.2M463.6,328.6L467,331.3M467,331.3L472.7,331.1M463.2,327.3L464.1,325.2M463.2,327.3L463.6,328.6M495,308.5L493.9,317.3M495,308.5L486.5,309M486.5,309L488.9,316M494.8,318.4L493.9,317.3M495.9,307.7L495,308.5M485.8,308.6L486.5,309M483.6,320L488.9,316M484.7,368.8L486.5,363.8M495.2,368.2L488.8,363.7M488.8,363.7L486.5,363.8M497.4,358.6L493.6,357.1M488.8,363.7L493.6,357.1M481.4,327.6L476.2,334M472.7,331.1L476,334M476.2,334L476,334M486.9,334.8L487.4,335.4M486.9,334.8L479.3,336.5M487.4,335.4L486.7,345.2M479.3,336.5L480.2,342.4M486.9,331L486.9,334.8M494.9,336.5L487.4,335.4M476.2,334L479.3,336.5M470.5,340.8L474.9,345.9M470.5,340.8L476,334M474.9,345.9L480.2,342.4M519.9,365.7L523,374.2M514.2,377.2L517.8,378.9M517.8,378.9L523,374.2M591.8,319.9L594.9,313.3M625,170.9L625.3,175.8M625,170.9L616.6,170.1M625.3,175.8L617,178.2M616.6,170.1L617,178.2M615.3,168.5L616.6,170.1M609.9,179.2L616,179.8M616,179.8L617,178.2M616.2,180.1L623.6,184.9M623.6,184.9L618.2,192.2M614.5,190.6L618.2,192.2M624.5,184.7L623.6,184.9M616,179.8L616.2,180.1M612.4,190.9L614.5,190.6M580.2,247.3L581.4,251.3M572.2,248.8L573.3,246.1M575.5,245L573.3,246.1M578.8,254.8L581.4,251.3M586.5,243.3L580.2,247.3M577.7,237.6L575.5,245M565.7,251.5L572.2,248.8M580.8,260.2L578.8,254.8M590.6,282.6L592,278.6M590.6,282.6L595.8,285.9M595.8,285.9L598.5,285.4M573.9,322.6L575.1,316.9M578.9,316.4L575.1,316.9M581.6,311.7L586.3,311.4M581.6,311.7L578.9,316.4M488.5,233.5L485.7,234.9M485.7,234.9L484.2,239.2M494.7,236.8L494.6,238.4M494.7,236.8L488.5,233.5M488.2,243.9L486.5,243.9M484.2,239.2L486.5,243.9M481,230.5L485.7,234.9M481,230.5L475.1,232.2M464.9,267.7L466.2,262.3M466.2,262.3L472.4,262M480.7,261.4L473.2,260.7M472.4,262L473.2,260.7M473.9,248.9L475.8,253.7M473.9,248.9L477.6,246M477.6,246L483.5,247.7M479.4,254L475.8,253.7M469,247.6L470.8,241.2M469,247.6L473.9,248.9M486.5,243.9L483.5,247.7M481.8,258.2L479.4,254M468.7,290.3L466.4,294.9M451.8,282L455,288.5M445.4,288.8L451.2,293M451.2,293L455,288.5M466.4,294.9L461.5,293.9M457.2,298.2L461.5,293.9M461.1,286.4L459.2,288.8M461.5,293.9L459.2,288.8M459.2,288.8L455,288.5M453.8,208.9L459.2,206.7M452.6,212L453.8,208.9M452.6,212L458.2,215.4M463.2,210.5L463.1,209.8M477.5,200L477.4,201.7M467.7,205.1L471.8,206.8M471.8,206.8L477.4,201.7M473.8,231.1L466.5,232.1M473.8,231.1L473.9,223.6M473.4,213.2L472.8,214.1M472.8,214.1L467.8,214.8M458.5,217.6L454,222.1M464.9,222.7L464.5,221.1M449.5,213.6L448.8,215.3M452.6,212L449.5,213.6M452.2,222.1L454,222.1M473.9,223.6L475.3,222M384,212.9L380.1,208.6M384,212.9L381.2,218.9M381.2,218.9L380.9,219.1M380.8,204L380.1,208.6M387.5,221.7L381.2,218.9M379,223.6L380.9,219.1M386.8,228.7L387.3,228.4M432.4,238.5L431.9,241M422.4,238.8L426.4,244M426.4,244L431.9,241M405,260.2L407.6,255M397.1,252.2L403.4,249M407.6,255L403.4,249M415.1,263.1L416.1,261.9M416.1,261.9L413.3,254M407.6,255L413.3,254M383.8,247.3L389.2,244.7M384.6,237.1L388.6,239M388.6,239L389.2,244.7M393.9,249.7L393.3,247.6M389.2,244.7L393.3,247.6M393.4,229.6L395.4,232.5M401.6,222.9L403,223.8M403,223.8L404.7,227.8M404.7,227.8L402.7,232.2M402.7,232.2L395.4,232.5M393.3,247.6L397.4,241.4M388.6,239L393.8,236.9M397.4,241.4L393.8,236.9M395.4,232.5L393.8,236.9M415.2,167L418.1,174.7M418.1,174.7L417.1,175.3M417.1,175.3L408.9,175.1M415.3,166.7L415.2,167M414.9,185.3L414.4,185.1M414.9,185.3L422.7,184.2M414.2,185.1L414.4,185.1M407.7,176.3L408.9,175.1M407.9,153.1L407.8,153.2M413.3,161.4L410.4,160.7M396.5,151.7L400.5,157.5M407.8,153.2L400.5,157.5M428.5,195.8L423.5,191.8M431.4,186.9L424.7,187.3M424.7,187.3L423.5,191.8M422.7,184.2L424.7,187.3M418.9,193.6L423.5,191.8M418.9,193.6L414.9,185.3M453.8,208.9L449.5,201.4M449.5,213.6L443.6,207.2M443.6,207.2L449.5,201.4M449.5,201.4L449.5,201.1M432.2,211.1L439.5,206.7M432.2,211.1L431.2,214.8M431.2,214.8L433.1,216.7M433.1,216.7L440.3,216.7M440.8,207.4L439.5,206.7M442,218.2L440.3,216.7M441,224.3L442.1,223M441,224.3L432.8,224.5M432.8,224.5L433.1,216.7M443.6,207.2L440.8,207.4M446.4,195.7L449.5,201.1M509.7,214.4L508.9,214.6M506,218.8L508.9,214.6M475.3,222L482,221.9M473.4,213.2L481.3,211.3M481.3,211.3L482,221.9M499.1,209L498.1,215.4M502.5,207.7L499.1,209M506,218.8L504.8,219.2M504.8,219.2L498.1,215.4M493.1,206L488.8,204M493.1,206L493.4,206.5M493.4,206.5L489.4,214.2M488.8,204L481.8,209.2M481.8,209.2L481.4,211.1M486.6,198.7L488.8,204M477.4,201.7L481.8,209.2M481.3,211.3L481.4,211.1M452.5,395.1L450.1,394.1M444.1,402.9L446.1,394.7M450.1,394.1L446.1,394.7M346.7,437L350.4,434.3M355.8,442.4L355.5,436.3M355.5,436.3L350.4,434.3M344.9,427.1L349.6,429.4M349.6,429.4L350.4,434.3M360.9,404.6L357.7,409.7M352.8,408.8L355.4,410.2M357.7,409.7L355.4,410.2M444.8,304.7L449,308.1M449,308.1L452.2,307.6M452.2,307.6L453.1,298.1M444.7,299.2L451.4,296.8M451.4,296.8L453.1,298.1M439.7,307.1L444.8,304.7M439.8,296.2L444.7,299.2M441.3,313.4L445.7,313.9M445.7,313.9L449,308.1M457.2,298.2L453.1,298.1M455.8,309.6L452.2,307.6M453.8,335.5L457.3,336.3M457.3,336.3L463.6,328.6M462.3,318.4L456.3,318.3M455.8,309.6L454.8,316.4M456.3,318.3L454.8,316.4M418.6,332.4L418.8,334.4M408.8,338.8L416.5,338.4M418.8,334.4L416.5,338.4M410.9,347.1L414.4,348M414.4,348L418.3,344.4M451.4,336.6L453.8,335.5M429.5,332.1L427.7,330.5M429.5,332.1L430.2,337M418.8,334.4L425.1,338.4M418.3,344.4L422.2,344.5M425.1,338.4L422.2,344.5M457.3,336.3L459.7,338.9M459.7,338.9L466,338.6M451.4,336.6L449.3,342.1M449.3,342.1L450.6,346.7M470.5,340.8L468.4,340.7M468.4,340.7L466,338.6M449.3,350.4L442.2,357.1M443.2,360L442.2,357.1M443.2,360L450.5,361.1M543.9,321.2L550.5,318M532.4,305L536.4,308.7M533.4,316.5L535.6,314.8M536.4,308.7L535.6,314.8M543.9,321.3L543.9,321.2M526.3,280.9L524.5,285.7M526.3,280.9L532.8,280.8M532.8,280.8L533.2,281.1M524.5,285.7L527,290.7M533.3,288.2L529.2,291M527,290.7L529.2,291M518.1,286.5L524.5,285.7M524.1,278.4L526.3,280.9M531.9,271.9L533.3,273.5M533.3,273.5L532.8,280.8M523,294.5L527,290.7M533.4,299.7L533.5,299.6M533.5,299.6L529.2,291M431.4,186.9L432.3,182.1M432.3,182.1L429.3,178.7M502.5,207.7L504.9,203.4M499.1,209L493.4,206.5M639.4,209.3L635.9,213.8M626.4,211.4L630.2,210.2M630.2,210.2L635,213.9M578.9,290.4L580.9,291.1M580.9,291.1L586.7,288.1M582.3,279.8L588.3,283.6M588.3,283.6L586.7,288.1M582.8,275.5L582.3,279.8M590.6,282.6L588.3,283.6M600.6,310.9L598.7,305.4M388.9,279.3L386.3,275.8M389.7,268.8L389.2,268.9M389.2,268.9L386.3,275.8M384.8,262.8L385.9,267.1M389.2,268.9L385.9,267.1M384.4,285.5L379.8,284.8M378.9,284L380.4,274.9M386.3,275.8L380.4,274.9M379.8,274.1L379.8,270M385.9,267.1L379.8,270M380.4,274.9L379.8,274.1M383,300.3L384.7,301.5M383,300.3L382.2,295M384.7,301.5L391.3,300.5M382.2,295L387.1,291.4M387.1,291.4L392,299.9M391.3,300.5L392,299.9M383.5,307.3L384.7,301.5M390.3,308.3L391.3,300.5M387.4,289.7L387.1,291.4M392.2,299.9L392,299.9M428.3,358.3L419.4,359.5M428.3,358.3L428.6,352.2M426.5,349.7L428.6,352.2M426.5,349.7L417.6,354.8M417.6,354.8L419.4,359.5M431.5,362.2L431.4,362M431.4,362L428.3,358.3M426,367.4L431.5,362.2M426,367.4L420.1,364.5M426.4,348.5L422.2,344.5M416.7,354.2L414.4,348M416.7,354.2L417.6,354.8M426.4,348.5L426.5,349.7M418.5,374.4L419.3,374.7M426,367.4L426.4,372.3M412.5,385L413.6,385.4M419.3,374.7L421.4,381.6M400.6,365.6L392.7,367.7M391.9,370.1L394.8,375.1M394.8,375.1L400.9,375.4M400.9,375.4L402,380.9M387.2,390.8L386.3,398.6M387.2,390.8L388.4,389.7M395,393.7L393.3,398.8M393.3,398.8L388.1,400M386.3,398.6L388.1,400M380.5,398.6L378.6,396.4M380.5,398.6L386.3,398.6M380.5,398.6L378.2,406.9M387.6,406.4L388.1,400M387.6,406.4L382.4,408.3M388.8,386.9L395.4,384.1M387.2,379.3L393.1,378.5M393.1,378.5L395.4,384.1M388.4,389.7L388.8,386.9M385.2,375.3L387.2,379.3M394.8,375.1L393.1,378.5M395.7,393.4L398.1,385.1M403.6,388L399.9,384.6M399.9,384.6L398.1,385.1M395.4,384.1L398.1,385.1M395,393.7L395.7,393.4M410,387.5L403.6,388M412.5,385L410,387.5M402,380.9L399.9,384.6M401.2,363.1L408.6,360.5M400.6,365.6L401.2,363.1M411.5,363.7L408.6,360.5M544.2,362.6L548.9,363.5M544.2,362.6L540.7,368M540.7,368L541.5,370.4M541.6,359L544.2,362.6M533.1,365.1L540.7,368M539.2,374.5L541.8,378.2M545.3,378.5L541.8,378.2M539.2,374.5L541.5,370.4M559.8,351.8L561.6,343.9M561.6,343.9L560.6,342.1M560.6,342.1L558.7,341.6M553.6,334.4L558.7,341.6M567.8,345.7L561.6,343.9M468.4,371.8L466.9,371.1M476,367.9L475.9,365.5M475.9,365.5L469.9,362.2M467.7,363.5L469.9,362.2M479.1,371.1L476,367.9M472.5,378.7L468.4,371.8M480.2,360.3L482.3,359.9M474.5,356.1L480.2,360.3M474.5,356.1L470.7,358.1M470.7,358.1L469.9,362.2M500.5,350.7L495.9,349.6M493.6,357.1L492.5,355M492.5,355L495.9,349.6M494.9,343.1L493.7,344.6M486.7,345.2L486.8,345.4M495.9,349.6L493.7,344.6M494.1,384.7L496.7,392.4M491.4,394.1L496.6,392.7M496.6,392.7L496.7,392.4M556.8,407L550.8,408.1M578.9,290.4L577.9,290.7M577.9,290.7L568.7,287M580.4,301.7L573.4,298.2M583.3,295.8L580.9,291.1M577.9,290.7L573.4,298.2M580.6,302.5L580.4,301.7M571.8,305.9L572.1,298.6M572.1,298.6L573.4,298.2M598.7,305.4L594.8,303.8M594.9,313.3L590.2,309.7M594.8,303.8L590.2,309.7M580.6,302.5L585.8,304.2M586.3,311.4L588,309.8M585.8,304.2L588,309.8M590.2,309.7L588,309.8M597.8,295.7L594.1,301.9M597.8,295.7L593.4,292.6M593.4,292.6L591.6,292.9M591.6,292.9L588.4,297.1M594.1,301.9L589.4,300M588.4,297.1L589.4,300M598.8,295.6L597.8,295.7M594.8,303.8L594.1,301.9M595.8,285.9L593.4,292.6M586.7,288.1L591.6,292.9M583.3,295.8L588.4,297.1M585.8,304.2L589.4,300M569.4,314.8L565.6,320.9M573.9,322.6L569.6,324.6M551.5,327.5L554.5,323.5M551.5,327.5L553.9,333.5M554.5,323.5L559.6,325M553.9,333.5L561.4,330.8M561.4,330.8L559.6,325M547.6,327.4L551.5,327.5M550.5,318L553.3,318.7M553.6,334.4L553.9,333.5M560.5,316.1L564.7,320.8M555.1,316.8L553.3,318.7M555.1,316.8L560.5,316.1M580.1,327.1L583.8,329.7M578.6,337.3L574.7,332.2M574.7,332.2L580.1,327.1M469,247.6L467.7,248.3M465.2,233.3L464.6,236.9M475.1,232.2L473.8,231.1M470.8,241.2L464.6,236.9M467.7,248.3L461.8,246.1M458.3,248.4L461.8,246.1M452.8,245.2L458.3,248.4M443.7,239.7L446.6,238.3M446.6,238.3L447.2,231.7M447.2,231.7L441.4,229.6M441.4,229.6L437.2,233.8M437.2,233.8L437.1,234.2M441,224.3L441.4,229.6M431.3,227.1L437.2,233.8M432.4,238.5L437.1,234.2M460.8,186.3L462.1,191.2M447.1,194.2L446.4,195.7M464.8,180.8L460.8,186.3M472,185.8L464.8,180.8M464.8,180.8L464.5,179.3M404.2,213.4L410.1,215M403,223.8L410,218.1M410.1,215L410,218.1M411.1,227.8L404.7,227.8M420.6,226.8L417.2,222.4M415.6,232.2L414.7,232.2M414.7,232.2L411.1,227.8M420,249.5L425.2,247.4M420,249.5L423.3,260.5M425.2,247.4L428.7,250.8M428.7,250.8L428.4,257.1M428.4,257.1L423.6,260.7M423.6,260.7L423.3,260.5M435,258.9L428.4,257.1M435.4,250.3L428.7,250.8M427.2,267.4L423.6,260.7M416.1,261.9L423.3,260.5M435.7,250L435.7,244.3M435.7,250L441.9,250.4M435.7,244.3L442.7,242.1M441.9,250.4L444.4,247.4M444.4,247.4L442.7,242.1M431.9,241L435.7,244.3M435.4,250.3L435.7,250M443.7,239.7L442.7,242.1M448.8,248.4L444.4,247.4M452.8,245.2L448.8,248.4M420.2,238.6L416.6,242M418.4,249.2L416.6,242M413.3,254L415.2,250.6M418.4,249.2L415.2,250.6M406.8,163.2L400.2,159.1M399.1,169.4L396.6,162.9M396.6,162.9L400.2,159.1M410.4,160.7L406.8,163.2M398.9,169.9L399.1,169.4M400.5,157.5L400.2,159.1M395.5,162.8L396.6,162.9M423.5,200.8L425.2,206.1M423.5,200.8L428.6,197.2M429,206.2L425.2,206.1M428.5,195.8L428.6,197.2M432.2,211.1L429,206.2M410.1,215L410.9,214.2M402.6,204.9L410.1,204.4M410.1,204.4L410.9,214.2M410,195.5L410.7,203.9M418.1,195.2L419.4,199.6M419.4,199.6L416,204M408.3,193.9L410,195.5M410.1,204.4L410.7,203.9M418.9,193.6L418.1,195.2M511.3,227.5L503.6,228.6M504.8,219.2L501.4,224M501.4,224L503.6,228.6M503.9,235.9L501.3,233M503.6,228.6L501.3,233M498.3,233.1L501.3,233M489.6,229.2L484.1,223.4M489.6,229.2L494.4,227.6M494.4,227.6L495.6,223.7M495.6,223.7L493,219.1M484.1,223.4L484.1,223.3M484.1,223.3L491.2,218.6M491.2,218.6L493,219.1M481,230.5L484.1,223.4M488.5,233.5L489.6,229.2M498.3,233.1L494.4,227.6M498.1,215.4L493,219.1M489.4,214.2L491.2,218.6M450.1,394.1L449.6,385.6M459.7,390.4L453.3,384M449.6,385.6L453.3,384M436.3,366.6L440.8,366.9M436.3,366.6L430.9,375.6M430.9,375.6L431.2,376.5M440.8,366.9L443.1,369.5M443.1,369.5L443.1,369.8M431.5,362.2L436.3,366.6M443.2,360L440.8,366.9M426.4,372.3L430.9,375.6M421.4,381.6L422.9,382.3M422.9,382.3L429.1,380M429.1,380L431.2,376.5M445.7,380.4L449.4,376.3M449.4,376.3L443.1,369.8M452.2,366.3L450.5,361.1M431.3,387.8L438.1,386.2M441.4,392.4L440.7,388.7M438.1,386.2L440.7,388.7M429.1,380L431.3,387.8M424,389.4L422.9,382.3M446.1,394.7L441.4,392.4M447,384.5L440.7,388.7M445.7,380.4L447,384.5M391.1,412.3L397.2,413.8M398.1,417L397.2,413.8M387.6,406.4L390.3,408.3M390.3,408.3L391.1,412.3M384.4,416.1L382.4,408.3M396.3,401.9L395.9,405.6M395.9,405.6L399.7,409.5M399.7,409.5L405,408.6M405.4,407.1L405.1,408.5M405,408.6L405.1,408.5M393.3,398.8L396.3,401.9M390.3,408.3L395.9,405.6M397.2,413.8L399.7,409.5M405.4,407.1L410.7,402.4M421.2,406.6L423,413.8M429.9,410.2L425.2,402.4M425.2,402.4L421.2,406.6M410.7,402.4L413.8,403.1M425.7,401.8L425.2,402.4M425.7,401.8L426.8,397.3M425.2,402.4L417.5,398.1M426.8,397.3L422.9,390.9M422.9,390.9L418.9,391.6M418.9,391.6L416.8,395.3M416.8,395.3L417.5,398.1M435,402.6L425.7,401.8M425.2,402.4L425.2,402.4M413.8,403.1L417.5,398.1M424,389.4L422.9,390.9M413.6,385.4L418.9,391.6M355.5,436.3L356.9,435.4M356.9,435.4L365.7,436.8M363.3,412.8L357.7,409.7M365.2,404.4L368.8,409.5M363.3,412.8L367.9,411.4M368.8,409.5L367.9,411.4M378.2,406.9L377,407.4M384.4,416.1L381.5,417.7M381.5,417.7L376.9,415.7M377,407.4L376.9,415.7M367.9,411.4L370.5,416.9M376.9,415.7L372.8,417.8M370.5,416.9L372.8,417.8M359.3,428L364.3,426.9M364.3,426.9L365.2,425.8M356.9,435.4L359.3,428M431.9,338.3L438.2,336.8M439.6,337.4L438.2,336.8M439.6,337.4L441.7,341.4M441.7,341.4L439.3,347M430.2,337L431.9,338.3M450.6,346.7L449.2,350.1M449.2,350.1L439.3,347M449.3,350.4L449.2,350.1M461,379.1L460.9,374.8M461,379.1L454.1,381.5M460.9,374.8L454.1,372.8M454.1,372.8L450.7,376.2M462.8,381.4L461,379.1M463.3,372L466.9,371.1M463.3,372L460.9,374.8M453.3,384L454.1,381.5M463.3,372L459,364.6M452.8,366.6L459,364.6M449.4,376.3L450.7,376.2M452.2,366.3L452.8,366.6M538.4,281.1L533.2,281.1M533.3,273.5L539.4,272.6M541.4,276.8L539.4,272.6M424.1,162.9L431.4,166.7M431.4,166.7L429.4,173.7M429.3,178.7L429.8,174.3M429.4,173.7L429.8,174.3M601.9,238.6L607.4,241.5M596.1,246L603.5,249.2M597.6,256.8L604.1,251.1M459,364.6L460.3,362.1M467.7,363.5L462,361.4M460.3,362.1L462,361.4M483.3,357.2L489.2,353.8M483.3,357.2L481.1,351.2M481.1,351.2L486.6,345.9M482.3,359.9L483.3,357.2M492.5,355L489.2,353.8M475.1,349.9L481.1,351.2M475.1,349.9L474.5,356.1M486.8,345.4L486.6,345.9M474.6,349.1L474.9,345.9M475.1,349.9L474.6,349.1M541.8,378.2L538.6,383.6M538.6,383.6L536.5,383.6M545.1,388.3L548.8,386.1M545.1,388.3L542.6,387.9M538.6,383.6L542.6,387.9M550.8,408.1L547.8,404.7M547.8,404.7L553.8,398.9M563.2,265.7L559.8,271.8M559.8,271.8L564.7,276.2M573.2,332L568.6,336.6M573.2,332L569.5,326.6M569.5,326.6L562.7,331.5M568.6,336.6L564.6,336.4M564.6,336.4L562.7,331.5M574.7,332.2L573.2,332M569.6,324.6L569.5,326.6M565.6,320.9L564.7,320.8M561.4,330.8L562.7,331.5M463,258.5L463.1,257.3M463,258.5L457.3,263.6M463.1,257.3L457.7,252.9M454.5,261.9L457.3,263.6M466.2,262.3L463,258.5M458.1,266.8L457.3,263.6M458.3,248.4L457.7,252.9M449.1,264.2L454.5,261.9M447.1,194.2L444.7,185.1M447.7,184.1L444.7,185.1M442.4,184.3L444.7,185.1M432.3,182.1L440.1,180.2M442.4,184.3L440.1,180.2M439.3,173.6L440.6,176.6M447.7,184.1L450.2,179.5M455.6,179.1L450.2,179.5M440.6,176.6L447.8,175.8M447.8,175.8L450.2,179.5M410.2,237.6L410.9,240.1M410.9,240.1L408.5,245.6M401,241.7L404.3,247M404.3,247L408.5,245.6M397.4,241.4L401,241.7M414.7,232.2L410.2,237.6M416.6,242L410.9,240.1M403.4,249L404.3,247M415.2,213.6L418.6,208M415.2,213.6L420.3,217.2M420.3,217.2L424.1,216.7M425,215.7L424.1,216.7M416,204L418.6,208M410.9,214.2L415.2,213.6M417.2,222.4L420.3,217.2M425.4,223.2L424.1,216.7M431.2,214.8L425,215.7M374.4,423.3L372,426.6M374.4,423.3L380.3,423.4M373.5,429.8L372,426.6M382.8,426.8L380.3,423.4M372.8,417.8L374.4,423.3M365.2,425.8L372,426.6M547.6,272.1L547.3,277.4M547.6,272.1L552.8,268.6M554.7,277.2L556.2,272.3M554.7,277.2L548.1,278.3M548.1,278.3L547.3,277.4M552.8,268.6L556.2,272.3M541.4,276.8L547.3,277.4M564.7,276.2L562.9,279.9M557.7,281.3L562.9,279.9M559.8,271.8L556.2,272.3M542,285.1L547.5,283.8M547.5,283.8L548.1,278.3M538.4,281.1L542,285.1M439.3,173.5L436,164.7M439.3,173.6L439.3,173.5M431.4,166.7L436,164.7M450.1,171.7L447.8,175.8M544.7,396.6L545.5,395.7M544.7,396.6L538.4,396.4M538.4,396.4L537.2,392.8M536.5,383.6L532.1,389.8M517.8,378.9L518.2,382.7M537.2,392.8L532.2,390.5M532.1,389.8L532.2,390.5M545.4,404.3L547.8,404.7M545.4,404.3L543.7,405.2M496.6,392.7L499.2,398.8M496.5,403L499.2,398.8M545.5,395.7L553.5,396.3M544.7,396.6L545.4,404.3M533.5,299.6L534.8,299.2M533.3,288.2L539.1,291M539.1,291L534.8,299.2M542,285.1L539.7,290.8M539.1,291L539.7,290.8M557.7,281.3L556.7,283.9M547.5,283.8L549.4,285.8M460.6,176.6L457,177.2M456.8,167.1L453.2,171.7M464.5,179.3L460.6,176.6M455.6,179.1L457,177.2M450.1,171.7L453.2,171.7M543.7,405.2L535.4,402.9M533.8,408.7L535.4,402.9M538.4,396.4L535.1,402.3M535.1,402.3L535.4,402.9M506.3,399.2L507.8,400.6M506.3,399.2L507,391.5M507,391.5L512.4,388.7M516.5,394.1L513.3,388.7M512.4,388.7L513.3,388.7M499.2,398.8L506.3,399.2M518.2,382.7L513.3,388.7M549.4,285.8L549.7,290.8M539.7,290.8L544.1,293.3M544.1,293.3L544.4,298.2M521.2,404.6L521.6,395.1M516.5,394.1L521.6,395.1M559.4,289.8L558,293M558,293L564.9,298.3M567.8,287L568.2,287.1M568.2,287.1L568,297.1M568,297.1L564.9,298.3M556.7,283.9L559.4,289.8M549.7,290.8L554.6,294.5M554.6,294.5L558,293M562.9,279.9L567.8,287M568.7,287L568.2,287.1M564.9,298.3L563.5,301.4M571.8,305.9L566.8,307.5M563.5,301.4L566.8,307.5M569.4,314.8L565.4,310.2M562.8,310.9L565.4,310.2M566.8,307.5L565.4,310.2M548.3,299.8L554.3,295.6M548.3,299.8L549.8,306.9M554.3,295.6L556.9,304.3M549.8,306.9L554.5,307.2M554.5,307.2L555.9,306.4M555.9,306.4L556.9,304.3M544.4,298.2L548.3,299.8M554.6,294.5L554.3,295.6M563.5,301.4L556.9,304.3M555.1,316.8L554.5,307.2M562.8,310.9L555.9,306.4" fill="none" stroke="#000" stroke-width="0.9" stroke-linecap="round"/>
</g>
<polygon points="120.0,112.5 118.8,118.8 102.5,116.2 101.2,125.0 103.0,145.0 100.5,150.0 97.5,165.5 93.8,175.0 85.0,187.5 83.8,200.0 87.5,206.2 77.5,222.5 78.8,240.0 79.5,250.0 81.2,250.0 85.0,262.5 90.0,270.0 88.8,280.0 93.8,292.5 97.5,307.5 101.2,308.8 110.0,317.5 118.8,323.8 126.2,333.8 131.2,347.5 156.2,353.0 172.5,363.0 196.2,376.2 220.0,380.0 230.0,381.2 230.0,375.0 250.0,375.0 260.0,387.5 267.5,391.2 270.0,403.8 287.5,418.8 297.5,408.8 307.5,408.8 313.8,417.5 326.2,437.5 331.2,448.8 342.5,460.0 355.0,465.0 358.8,460.0 356.2,445.0 360.0,433.8 377.5,425.0 390.0,415.0 400.0,410.0 420.0,411.2 435.0,417.5 450.0,415.0 457.5,417.5 460.0,407.5 460.0,398.8 470.0,397.5 485.0,401.2 500.0,403.8 505.0,405.0 510.0,400.0 520.0,398.8 526.2,403.8 530.0,410.0 535.0,412.5 533.8,425.0 537.5,430.0 540.0,437.5 543.8,445.0 550.0,451.2 556.2,455.0 561.2,460.0 567.5,461.2 570.0,455.0 570.0,442.5 567.5,432.5 562.5,422.5 557.5,411.2 552.5,402.5 547.5,392.5 543.8,380.0 545.0,375.0 546.2,367.5 550.0,360.0 557.5,352.5 562.5,346.2 570.0,336.2 576.2,336.2 580.0,330.0 590.0,321.2 592.5,316.2 600.0,310.0 600.0,303.8 597.0,296.2 592.6,289.2 591.8,284.0 593.5,275.2 597.0,270.0 597.0,259.5 600.5,254.2 603.1,245.5 602.2,235.0 603.8,240.0 602.5,232.5 610.0,230.0 620.0,225.0 622.5,220.0 630.0,217.5 632.5,213.8 640.0,211.2 637.5,206.2 630.0,205.0 628.8,197.5 632.5,187.5 635.0,182.5 640.0,175.0 646.2,172.5 655.0,166.2 657.5,160.0 650.0,152.5 646.2,147.5 643.8,135.0 637.5,130.0 627.5,131.2 623.8,140.0 620.0,150.0 620.0,162.5 615.0,165.0 612.5,170.0 596.2,173.8 585.0,176.2 577.5,180.0 572.5,188.8 568.8,192.5 570.0,196.2 567.5,202.5 560.0,203.8 547.5,206.2 548.0,206.0 544.0,208.0 546.0,214.0 544.0,218.0 538.0,224.0 530.0,230.0 522.0,234.0 514.0,238.0 508.0,236.0 504.0,233.0 506.0,230.0 509.0,224.0 510.0,216.0 508.0,206.0 504.0,203.0 500.0,204.0 496.0,206.0 499.0,200.0 498.0,190.0 490.0,183.0 482.0,181.0 478.0,183.0 477.0,190.0 472.0,192.0 469.0,198.0 468.0,208.0 469.0,220.0 470.0,228.0 469.0,236.0 464.0,241.0 460.0,238.0 458.0,230.0 456.0,220.0 457.0,206.0 454.0,198.0 457.0,192.0 460.0,187.0 466.0,183.0 470.0,181.0 476.0,179.0 482.0,180.0 486.0,179.0 494.0,179.0 494.0,177.0 488.0,176.0 487.0,171.0 484.0,173.0 479.0,172.0 477.0,169.0 468.0,172.0 462.0,175.0 458.0,173.0 450.0,170.0 445.0,171.0 447.0,167.0 451.6,164.0 452.4,161.6 447.0,161.6 440.0,166.0 428.0,174.0 425.0,173.0 426.0,169.0 422.0,170.0 416.0,173.0 410.0,174.0 420.0,166.0 434.0,157.0 433.0,155.0 420.0,155.0 412.0,152.0 400.0,149.0 415.0,153.8 400.0,148.8 384.2,146.2 383.0,139.5 379.5,139.5 378.8,144.5 360.0,145.0 332.5,144.5 295.0,142.5 260.0,138.8" fill="none" stroke="#000" stroke-width="1.1" stroke-linejoin="round"/>
<polygon points="437.0,157.6 444.4,151.6 445.0,152.8 439.0,158.0" fill="#000000" stroke="#000" stroke-width="0.7" stroke-linejoin="round"/>
<polygon points="605.6,227.9 610.0,225.1 622.2,220.6 626.1,220.2 624.4,222.3 613.5,226.8 607.9,229.6" fill="#FFFFFF" stroke="#000" stroke-width="1.2" stroke-linejoin="round"/>
<polygon points="601.6,235.6 608.2,230.3 617.0,226.8 618.0,227.9 610.0,231.4 603.4,236.6" fill="#0000FF" stroke="#000" stroke-width="0.7" stroke-linejoin="round"/>
<polygon points="634.5,204.6 638.0,205.5 640.1,211.1 638.0,212.8 637.3,209.9 635.4,207.6" fill="#000000" stroke="#000" stroke-width="0.7" stroke-linejoin="round"/>
<polygon points="627.5,217.4 632.8,216.0 639.8,214.9 640.1,216.0 632.8,217.4 628.4,218.4" fill="#000000" stroke="#000" stroke-width="0.7" stroke-linejoin="round"/>
<polygon points="97.5,320.5 103.8,322.0 106.2,324.0 100.0,323.0" fill="#000000" stroke="#000" stroke-width="0.7" stroke-linejoin="round"/>
<polygon points="113.8,332.5 117.5,333.8 118.8,336.2 115.5,335.5" fill="#000000" stroke="#000" stroke-width="0.7" stroke-linejoin="round"/>
<polygon points="113.8,339.5 116.2,340.0 116.0,342.5 114.0,342.0" fill="#000000" stroke="#000" stroke-width="0.7" stroke-linejoin="round"/>
<polygon points="70.5,359.5 72.5,359.5 72.5,361.5 70.5,361.5" fill="#000000" stroke="#000" stroke-width="0.7" stroke-linejoin="round"/>
<polyline points="547.2,471.1 552.5,469.4 557.8,467.1 562.1,464.5 565.1,462.1" fill="none" stroke="#000" stroke-width="1.6" stroke-linejoin="round"/>
<polygon points="553.4,467.6 557.8,465.9 558.3,467.1 553.9,468.9" fill="#00BFFF" stroke="#000" stroke-width="0.8" stroke-linejoin="round"/>
<polygon points="537.1,470.8 538.5,470.8 538.5,471.5 537.1,471.5" fill="#000000" stroke="#000" stroke-width="0.7" stroke-linejoin="round"/>
<polygon points="86.5,385.0 104.5,377.5 127.0,374.5 139.0,382.0 151.0,383.5 163.0,389.5 178.0,392.5 178.6,400.0 175.0,430.0 170.5,460.0 173.5,463.0 181.0,469.0 190.0,469.0 196.0,478.0 202.0,490.0 206.5,496.0 203.5,502.0 194.5,503.5 190.0,490.0 184.0,478.0 176.5,469.0 169.0,463.0 160.0,460.0 154.0,457.0 146.5,451.0 143.5,458.5 139.0,451.0 133.0,457.0 128.5,460.0 127.0,454.0 133.0,446.5 127.0,449.5 115.0,460.0 106.0,469.0 94.0,476.5 82.0,479.5 71.5,483.4 71.5,481.0 85.0,475.0 97.0,470.5 104.5,461.5 107.5,455.5 100.0,458.5 92.5,457.0 88.0,449.5 83.5,445.0 79.0,437.5 77.5,431.5 83.5,427.0 92.5,424.0 101.5,418.0 98.5,415.0 89.5,415.0 80.5,412.0 77.5,405.4 88.0,401.5 100.0,403.0 101.5,400.0 92.5,392.5" fill="#AFEEEE" stroke="#000" stroke-width="1.1" stroke-linejoin="round"/>
<polygon points="127.0,437.5 143.5,434.5 152.5,435.4 151.0,445.0 146.5,449.5 140.5,447.4 133.0,446.5 125.5,443.5" fill="#1E90FF" stroke="#000" stroke-width="0.7" stroke-linejoin="round"/>
<polygon points="145.6,423.4 155.5,421.6 163.0,424.6 157.0,429.1 147.4,427.6" fill="#0000FF" stroke="#000" stroke-width="0.7" stroke-linejoin="round"/>
<polygon points="182.5,470.5 188.5,466.6 194.5,475.0 200.5,485.5 206.5,495.4 204.4,502.0 195.4,503.2 191.5,493.0 187.0,482.5" fill="#000000" stroke="#000" stroke-width="0.7" stroke-linejoin="round"/>
<polygon points="190.0,479.5 193.0,478.6 196.6,488.5 193.6,489.4" fill="#AFEEEE" stroke="#000" stroke-width="0.3" stroke-linejoin="round"/>
<polygon points="53.5,488.5 65.5,484.0 67.0,486.4 55.0,490.6" fill="#000000" stroke="#000" stroke-width="0.7" stroke-linejoin="round"/>
<polygon points="60.4,415.0 70.0,418.0 71.5,421.0 62.5,418.6" fill="#AFEEEE" stroke="#000" stroke-width="1.2" stroke-linejoin="round"/>
<polygon points="72.4,442.0 77.5,441.4 77.5,445.0 72.4,445.6" fill="#AFEEEE" stroke="#000" stroke-width="1.2" stroke-linejoin="round"/>
<polygon points="50.5,434.5 53.5,436.0 52.9,437.2 50.2,435.7" fill="#000000" stroke="#000" stroke-width="0.7" stroke-linejoin="round"/>
<polygon points="115.0,470.5 124.0,465.4 125.5,469.0 118.6,475.0" fill="#AFEEEE" stroke="#000" stroke-width="1.5" stroke-linejoin="round"/>
<polygon points="85.0,477.4 89.5,475.6 90.4,477.4 85.6,479.2" fill="#000000" stroke="#000" stroke-width="0.7" stroke-linejoin="round"/>
<polygon points="130.0,455.5 137.5,451.6 138.4,454.0 131.5,458.5" fill="#000000" stroke="#000" stroke-width="0.7" stroke-linejoin="round"/>
<polygon points="203.5,437.5 209.5,436.6 210.1,441.4 204.4,441.4" fill="#1E90FF" stroke="#000" stroke-width="1.0" stroke-linejoin="round"/>
<polygon points="221.5,446.5 226.6,445.6 229.0,451.0 224.5,452.5" fill="#0000FF" stroke="#000" stroke-width="1.0" stroke-linejoin="round"/>
<polygon points="232.0,454.0 239.5,454.9 238.0,457.6 233.5,457.0" fill="#0000FF" stroke="#000" stroke-width="1.2" stroke-linejoin="round"/>
<polygon points="236.5,457.6 247.0,458.5 248.5,462.4 239.5,463.0" fill="#0000FF" stroke="#000" stroke-width="1.2" stroke-linejoin="round"/>
<polygon points="247.0,473.5 253.0,468.4 259.0,472.0 261.4,479.5 253.0,487.0 247.9,484.0" fill="#1E90FF" stroke="#000" stroke-width="1.0" stroke-linejoin="round"/>
<polygon points="193.6,441.4 196.0,441.4 196.0,442.9 193.6,442.9" fill="#000000" stroke="#000" stroke-width="0.7" stroke-linejoin="round"/>
<polygon points="755.6,510.6 765.0,508.1 778.1,506.9 778.8,509.4 775.0,513.8 767.5,516.2 758.8,518.1 756.2,516.2" fill="#000000" stroke="#000" stroke-width="0.7" stroke-linejoin="round"/>
<polygon points="764.4,510.0 775.6,508.5 775.0,511.9 770.0,512.8 765.0,512.8" fill="#AFEEEE"/>
<polygon points="756.9,512.2 760.0,511.2 762.5,512.8 760.0,515.6 757.8,515.2" fill="#FFFFFF"/>
<polygon points="747.2,519.0 749.0,519.0 749.0,520.8 747.2,520.8" fill="#000000" stroke="#000" stroke-width="0.7" stroke-linejoin="round"/>
<polygon points="783.1,504.4 788.8,503.8 786.2,506.2 784.0,506.0" fill="#000000" stroke="#000" stroke-width="0.7" stroke-linejoin="round"/>
<polygon points="788.1,512.2 792.5,511.0 790.6,513.5 788.5,513.8" fill="#000000" stroke="#000" stroke-width="0.7" stroke-linejoin="round"/>
<polygon points="780.0,506.2 781.9,506.2 781.9,507.8 780.0,507.8" fill="#000000" stroke="#000" stroke-width="0.7" stroke-linejoin="round"/>
<polygon points="3.0,304.0 6.0,304.0 6.0,307.0 3.0,307.0" fill="#000000" stroke="#000" stroke-width="0.7" stroke-linejoin="round"/>
<polygon points="592.5,302.5 598.8,303.1 600.0,308.8 595.0,313.1 591.2,313.8 590.0,311.2 593.8,308.8 595.0,305.0" fill="#FFFFFF" stroke="#000" stroke-width="1.0" stroke-linejoin="round"/>
<polygon points="590.0,293.8 593.1,293.1 595.0,297.5 594.4,300.6 591.2,300.0" fill="#000000" stroke="#000" stroke-width="0.7" stroke-linejoin="round"/>
</g>
<g id="title" font-size="22.7" font-family="'DejaVu Sans','Liberation Sans',sans-serif">
<text x="66" y="21.8" textLength="671" lengthAdjust="spacing">Annual mean wage of sales representatives of services, except</text>
<text x="23.5" y="49.8" textLength="755" lengthAdjust="spacing">advertising, insurance, financial services, and travel by area, May 2020</text>
</g>
<g id="legend" font-size="12.2" font-family="'DejaVu Sans','Liberation Sans',sans-serif">
<text x="453.8" y="530.7" font-weight="bold" font-size="12.1" textLength="122.5" lengthAdjust="spacing">Annual mean wage</text>
<rect x="373.5" y="548.5" width="10" height="9" fill="#AFEEEE" stroke="#000" stroke-width="1" shape-rendering="crispEdges"/>
<text x="388.8" y="556.5" word-spacing="1.6" textLength="102.5" lengthAdjust="spacing">$31,630 - $53,100</text>
<rect x="526.5" y="548.5" width="10" height="9" fill="#00BFFF" stroke="#000" stroke-width="1" shape-rendering="crispEdges"/>
<text x="540.5" y="556.5" word-spacing="1.6" textLength="102.7" lengthAdjust="spacing">$53,160 - $59,600</text>
<rect x="373.5" y="563.5" width="10" height="9" fill="#1E90FF" stroke="#000" stroke-width="1" shape-rendering="crispEdges"/>
<text x="388.8" y="571.5" word-spacing="1.6" textLength="102.5" lengthAdjust="spacing">$59,610 - $66,130</text>
<rect x="526.5" y="563.5" width="10" height="9" fill="#0000FF" stroke="#000" stroke-width="1" shape-rendering="crispEdges"/>
<text x="540.5" y="571.5" word-spacing="1.6" textLength="109.5" lengthAdjust="spacing">$66,160 - $115,620</text>
<text x="293.8" y="593" word-spacing="0.8" textLength="223.7" lengthAdjust="spacing">Blank areas indicate data not available.</text>
</g>
</svg>
</body></html>
